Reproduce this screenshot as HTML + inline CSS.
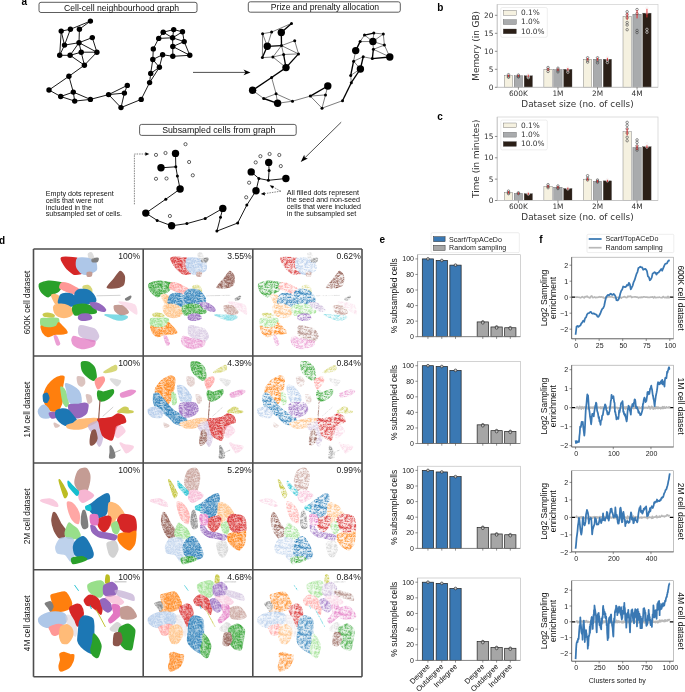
<!DOCTYPE html>
<html><head><meta charset="utf-8"><title>Figure</title><style>
html,body{margin:0;padding:0;background:#fff;}
body{width:685px;height:692px;overflow:hidden;}
svg{display:block;}
text{font-family:"Liberation Sans",Arial,sans-serif;fill:#111;}
.lab{font-weight:bold;font-size:10px;fill:#000;}
.box{fill:#fff;stroke:#333;stroke-width:0.8;}
.bt{font-size:8.65px;fill:#111;}
.st{font-size:7.15px;fill:#111;}
.e1{stroke:#000;stroke-width:0.9;}
.e2{stroke:#111;stroke-width:0.55;}
.e3{stroke:#000;stroke-width:1.35;}
.e4{stroke:#000;stroke-width:0.9;}
.emp{fill:#fff;stroke:#000;stroke-width:0.6;}
.ar{stroke:#222;stroke-width:0.8;}
.da{stroke:#333;stroke-width:0.6;stroke-dasharray:1.5 1;fill:none;}
.dt{font-family:"DejaVu Sans",sans-serif;font-size:7.4px;fill:#333;}
.dl{font-family:"DejaVu Sans",sans-serif;font-size:8.9px;fill:#333;}
.et{font-size:7px;fill:#222;}
.et2{font-size:7.5px;fill:#111;}
.el{font-size:8.5px;fill:#111;}
.lg{font-size:7.1px;fill:#222;}
.gr{stroke:#4d4d4d;stroke-width:1.6;}
.pc{font-size:8.6px;fill:#222;}
.rl{font-size:8.3px;fill:#111;}
</style></head>
<body><svg width="685" height="692" viewBox="0 0 685 692">

<defs>
<filter id="soft" x="-5%" y="-5%" width="110%" height="110%"><feGaussianBlur stdDeviation="0.45"/></filter>
<pattern id="pd1" width="20" height="20" patternUnits="userSpaceOnUse"><path d="M9.9 18.5h0.65v0.65h-0.65zM18.4 1.6h0.65v0.65h-0.65zM2.8 6.1h0.65v0.65h-0.65zM18.4 13.9h0.65v0.65h-0.65zM6.0 0.7h0.65v0.65h-0.65zM8.2 0.7h0.65v0.65h-0.65zM16.0 0.9h0.65v0.65h-0.65zM7.9 16.8h0.65v0.65h-0.65zM10.6 6.5h0.65v0.65h-0.65zM0.5 6.2h0.65v0.65h-0.65zM14.6 15.4h0.65v0.65h-0.65zM10.4 6.2h0.65v0.65h-0.65zM6.4 14.3h0.65v0.65h-0.65zM15.3 7.1h0.65v0.65h-0.65zM5.9 5.8h0.65v0.65h-0.65zM8.8 7.5h0.65v0.65h-0.65zM2.6 3.3h0.65v0.65h-0.65zM7.8 1.5h0.65v0.65h-0.65zM3.9 16.9h0.65v0.65h-0.65zM5.1 16.8h0.65v0.65h-0.65zM14.5 8.9h0.65v0.65h-0.65zM5.4 13.3h0.65v0.65h-0.65zM9.4 16.7h0.65v0.65h-0.65zM19.0 7.6h0.65v0.65h-0.65zM18.6 13.8h0.65v0.65h-0.65zM14.0 14.6h0.65v0.65h-0.65zM10.5 1.5h0.65v0.65h-0.65zM5.4 2.7h0.65v0.65h-0.65zM3.1 14.5h0.65v0.65h-0.65zM18.8 13.7h0.65v0.65h-0.65zM10.0 3.6h0.65v0.65h-0.65zM2.2 16.0h0.65v0.65h-0.65zM12.1 15.5h0.65v0.65h-0.65zM15.0 6.4h0.65v0.65h-0.65zM11.9 6.6h0.65v0.65h-0.65zM17.7 2.1h0.65v0.65h-0.65zM0.8 8.6h0.65v0.65h-0.65zM10.2 2.1h0.65v0.65h-0.65zM8.9 10.5h0.65v0.65h-0.65zM1.2 12.1h0.65v0.65h-0.65zM12.4 11.3h0.65v0.65h-0.65zM16.5 1.4h0.65v0.65h-0.65zM11.5 12.0h0.65v0.65h-0.65zM5.0 14.6h0.65v0.65h-0.65zM16.3 2.7h0.65v0.65h-0.65zM9.9 11.5h0.65v0.65h-0.65zM9.9 15.8h0.65v0.65h-0.65zM14.6 3.7h0.65v0.65h-0.65zM2.9 17.7h0.65v0.65h-0.65zM15.9 18.8h0.65v0.65h-0.65zM13.2 13.8h0.65v0.65h-0.65zM15.2 16.9h0.65v0.65h-0.65zM3.7 5.3h0.65v0.65h-0.65zM15.5 12.9h0.65v0.65h-0.65zM3.7 17.9h0.65v0.65h-0.65zM1.6 0.9h0.65v0.65h-0.65zM16.5 15.9h0.65v0.65h-0.65zM16.7 4.6h0.65v0.65h-0.65zM17.0 15.5h0.65v0.65h-0.65zM9.1 12.4h0.65v0.65h-0.65zM5.3 15.5h0.65v0.65h-0.65zM0.1 7.8h0.65v0.65h-0.65zM12.5 8.7h0.65v0.65h-0.65zM13.9 17.9h0.65v0.65h-0.65zM16.2 1.4h0.65v0.65h-0.65zM5.5 3.0h0.65v0.65h-0.65zM4.2 18.8h0.65v0.65h-0.65zM12.4 17.7h0.65v0.65h-0.65zM15.6 2.8h0.65v0.65h-0.65zM18.6 18.8h0.65v0.65h-0.65zM2.9 5.1h0.65v0.65h-0.65zM9.3 17.3h0.65v0.65h-0.65zM17.3 17.5h0.65v0.65h-0.65zM8.2 0.5h0.65v0.65h-0.65zM11.4 0.2h0.65v0.65h-0.65zM0.5 6.3h0.65v0.65h-0.65zM13.0 18.0h0.65v0.65h-0.65zM17.8 15.3h0.65v0.65h-0.65zM16.0 7.5h0.65v0.65h-0.65zM17.1 16.6h0.65v0.65h-0.65zM12.8 6.0h0.65v0.65h-0.65zM4.8 6.7h0.65v0.65h-0.65zM14.9 3.7h0.65v0.65h-0.65zM4.1 18.6h0.65v0.65h-0.65zM16.1 15.6h0.65v0.65h-0.65zM1.2 8.9h0.65v0.65h-0.65zM16.0 5.1h0.65v0.65h-0.65zM3.2 18.7h0.65v0.65h-0.65zM7.3 7.7h0.65v0.65h-0.65zM6.1 4.1h0.65v0.65h-0.65zM13.4 8.2h0.65v0.65h-0.65zM3.5 13.9h0.65v0.65h-0.65zM7.7 14.9h0.65v0.65h-0.65zM0.1 2.1h0.65v0.65h-0.65zM5.1 18.3h0.65v0.65h-0.65zM8.2 13.1h0.65v0.65h-0.65zM2.0 1.2h0.65v0.65h-0.65zM12.3 16.2h0.65v0.65h-0.65zM7.4 18.8h0.65v0.65h-0.65zM14.0 16.2h0.65v0.65h-0.65zM12.7 0.2h0.65v0.65h-0.65zM8.3 9.2h0.65v0.65h-0.65zM16.8 11.4h0.65v0.65h-0.65zM12.2 17.2h0.65v0.65h-0.65zM15.7 9.7h0.65v0.65h-0.65zM6.6 1.5h0.65v0.65h-0.65zM10.5 18.1h0.65v0.65h-0.65zM3.8 18.4h0.65v0.65h-0.65zM19.3 9.4h0.65v0.65h-0.65zM4.7 1.0h0.65v0.65h-0.65zM5.0 16.2h0.65v0.65h-0.65zM1.4 14.4h0.65v0.65h-0.65zM5.0 18.8h0.65v0.65h-0.65zM14.8 0.1h0.65v0.65h-0.65zM13.5 8.4h0.65v0.65h-0.65zM2.5 5.5h0.65v0.65h-0.65zM7.3 2.1h0.65v0.65h-0.65zM8.1 14.2h0.65v0.65h-0.65zM12.9 6.6h0.65v0.65h-0.65zM8.8 0.8h0.65v0.65h-0.65zM11.3 2.6h0.65v0.65h-0.65zM16.2 15.6h0.65v0.65h-0.65zM14.1 11.7h0.65v0.65h-0.65zM7.1 4.2h0.65v0.65h-0.65zM8.7 13.5h0.65v0.65h-0.65zM7.1 2.5h0.65v0.65h-0.65zM2.1 13.0h0.65v0.65h-0.65zM3.9 12.7h0.65v0.65h-0.65zM5.5 0.1h0.65v0.65h-0.65zM6.1 9.9h0.65v0.65h-0.65zM6.1 14.1h0.65v0.65h-0.65zM11.2 14.7h0.65v0.65h-0.65zM18.8 13.7h0.65v0.65h-0.65zM15.0 17.1h0.65v0.65h-0.65zM15.3 14.6h0.65v0.65h-0.65zM14.7 17.8h0.65v0.65h-0.65zM11.6 8.0h0.65v0.65h-0.65zM17.8 0.7h0.65v0.65h-0.65zM13.3 3.5h0.65v0.65h-0.65zM9.7 5.6h0.65v0.65h-0.65zM1.5 0.8h0.65v0.65h-0.65zM9.5 2.1h0.65v0.65h-0.65zM4.1 10.0h0.65v0.65h-0.65zM2.6 4.9h0.65v0.65h-0.65zM9.8 5.5h0.65v0.65h-0.65zM15.2 14.3h0.65v0.65h-0.65zM5.7 16.5h0.65v0.65h-0.65zM14.9 16.7h0.65v0.65h-0.65zM10.2 7.2h0.65v0.65h-0.65zM2.9 13.7h0.65v0.65h-0.65zM18.7 16.5h0.65v0.65h-0.65zM7.8 2.9h0.65v0.65h-0.65zM5.7 3.9h0.65v0.65h-0.65zM16.4 12.5h0.65v0.65h-0.65zM2.4 5.1h0.65v0.65h-0.65zM14.2 3.7h0.65v0.65h-0.65zM3.6 7.1h0.65v0.65h-0.65zM7.6 0.3h0.65v0.65h-0.65zM4.5 8.5h0.65v0.65h-0.65zM16.3 0.9h0.65v0.65h-0.65zM7.5 4.7h0.65v0.65h-0.65zM18.9 4.2h0.65v0.65h-0.65zM12.1 6.4h0.65v0.65h-0.65zM13.4 2.4h0.65v0.65h-0.65zM10.1 9.1h0.65v0.65h-0.65zM6.0 13.3h0.65v0.65h-0.65zM7.7 6.6h0.65v0.65h-0.65zM18.2 17.9h0.65v0.65h-0.65zM3.9 16.6h0.65v0.65h-0.65zM19.1 5.9h0.65v0.65h-0.65zM14.7 0.8h0.65v0.65h-0.65zM7.0 14.9h0.65v0.65h-0.65zM12.4 4.6h0.65v0.65h-0.65zM7.4 6.4h0.65v0.65h-0.65zM7.4 11.2h0.65v0.65h-0.65zM9.7 19.3h0.65v0.65h-0.65zM0.3 5.8h0.65v0.65h-0.65zM9.6 9.1h0.65v0.65h-0.65zM18.8 12.1h0.65v0.65h-0.65zM5.5 13.2h0.65v0.65h-0.65zM14.5 4.1h0.65v0.65h-0.65zM8.6 11.5h0.65v0.65h-0.65zM4.0 10.5h0.65v0.65h-0.65zM17.5 12.7h0.65v0.65h-0.65zM0.3 2.2h0.65v0.65h-0.65zM5.9 2.4h0.65v0.65h-0.65zM19.3 18.9h0.65v0.65h-0.65zM5.1 15.9h0.65v0.65h-0.65zM16.4 16.0h0.65v0.65h-0.65zM11.7 18.1h0.65v0.65h-0.65zM15.6 18.6h0.65v0.65h-0.65zM12.2 7.6h0.65v0.65h-0.65zM7.0 14.6h0.65v0.65h-0.65zM14.7 12.4h0.65v0.65h-0.65zM0.5 10.8h0.65v0.65h-0.65zM8.6 13.1h0.65v0.65h-0.65zM7.2 6.2h0.65v0.65h-0.65zM9.2 16.7h0.65v0.65h-0.65zM2.5 7.9h0.65v0.65h-0.65zM4.3 2.9h0.65v0.65h-0.65zM10.9 0.2h0.65v0.65h-0.65zM7.5 12.4h0.65v0.65h-0.65zM15.3 4.5h0.65v0.65h-0.65zM11.7 18.5h0.65v0.65h-0.65zM16.7 3.8h0.65v0.65h-0.65zM14.2 6.1h0.65v0.65h-0.65zM11.6 19.0h0.65v0.65h-0.65zM5.6 10.1h0.65v0.65h-0.65zM15.1 17.8h0.65v0.65h-0.65zM4.9 15.1h0.65v0.65h-0.65zM1.5 2.3h0.65v0.65h-0.65zM18.6 4.2h0.65v0.65h-0.65zM10.4 7.5h0.65v0.65h-0.65zM15.0 17.0h0.65v0.65h-0.65zM10.2 6.5h0.65v0.65h-0.65zM11.8 9.0h0.65v0.65h-0.65zM0.7 9.3h0.65v0.65h-0.65zM3.6 6.3h0.65v0.65h-0.65zM13.1 15.2h0.65v0.65h-0.65zM11.0 1.1h0.65v0.65h-0.65zM3.1 4.4h0.65v0.65h-0.65zM18.4 16.0h0.65v0.65h-0.65zM3.0 11.9h0.65v0.65h-0.65zM9.9 9.9h0.65v0.65h-0.65zM2.8 7.1h0.65v0.65h-0.65zM13.9 2.5h0.65v0.65h-0.65zM5.3 8.8h0.65v0.65h-0.65zM2.6 19.1h0.65v0.65h-0.65zM0.9 11.5h0.65v0.65h-0.65zM3.4 11.2h0.65v0.65h-0.65zM3.7 19.2h0.65v0.65h-0.65zM10.4 17.1h0.65v0.65h-0.65zM8.7 19.3h0.65v0.65h-0.65zM18.5 18.5h0.65v0.65h-0.65zM18.5 12.9h0.65v0.65h-0.65zM15.4 5.9h0.65v0.65h-0.65zM13.0 12.2h0.65v0.65h-0.65zM16.4 6.7h0.65v0.65h-0.65zM18.2 15.7h0.65v0.65h-0.65zM0.4 2.7h0.65v0.65h-0.65zM2.3 9.0h0.65v0.65h-0.65zM7.0 16.3h0.65v0.65h-0.65zM1.8 8.8h0.65v0.65h-0.65zM11.6 11.6h0.65v0.65h-0.65zM5.0 1.9h0.65v0.65h-0.65zM5.1 5.5h0.65v0.65h-0.65zM5.6 18.5h0.65v0.65h-0.65zM1.9 12.7h0.65v0.65h-0.65zM14.3 7.1h0.65v0.65h-0.65zM12.6 10.0h0.65v0.65h-0.65zM11.7 15.0h0.65v0.65h-0.65zM0.7 15.2h0.65v0.65h-0.65zM8.3 16.0h0.65v0.65h-0.65zM13.3 5.6h0.65v0.65h-0.65zM3.0 4.6h0.65v0.65h-0.65zM7.5 12.4h0.65v0.65h-0.65zM0.4 10.2h0.65v0.65h-0.65zM1.6 10.9h0.65v0.65h-0.65zM4.2 4.2h0.65v0.65h-0.65zM8.0 6.2h0.65v0.65h-0.65zM9.0 14.6h0.65v0.65h-0.65zM17.1 6.9h0.65v0.65h-0.65zM6.1 14.7h0.65v0.65h-0.65zM0.4 0.9h0.65v0.65h-0.65zM16.0 18.4h0.65v0.65h-0.65zM1.2 4.0h0.65v0.65h-0.65zM1.8 9.3h0.65v0.65h-0.65zM18.6 17.8h0.65v0.65h-0.65zM14.6 4.9h0.65v0.65h-0.65zM6.5 4.4h0.65v0.65h-0.65zM2.6 19.1h0.65v0.65h-0.65zM7.5 17.5h0.65v0.65h-0.65zM6.6 10.3h0.65v0.65h-0.65zM16.9 1.2h0.65v0.65h-0.65zM8.1 11.7h0.65v0.65h-0.65zM1.6 4.9h0.65v0.65h-0.65zM17.9 4.1h0.65v0.65h-0.65zM12.0 18.0h0.65v0.65h-0.65zM2.3 12.0h0.65v0.65h-0.65zM2.2 8.6h0.65v0.65h-0.65zM9.0 1.2h0.65v0.65h-0.65zM1.8 7.2h0.65v0.65h-0.65zM12.2 16.7h0.65v0.65h-0.65zM11.9 5.9h0.65v0.65h-0.65zM0.6 6.2h0.65v0.65h-0.65zM15.6 11.7h0.65v0.65h-0.65zM15.2 4.9h0.65v0.65h-0.65zM17.7 10.8h0.65v0.65h-0.65zM13.0 14.9h0.65v0.65h-0.65zM13.4 5.5h0.65v0.65h-0.65zM3.2 9.1h0.65v0.65h-0.65zM0.5 11.2h0.65v0.65h-0.65zM1.3 7.0h0.65v0.65h-0.65zM18.7 4.3h0.65v0.65h-0.65zM12.5 2.2h0.65v0.65h-0.65zM18.3 10.9h0.65v0.65h-0.65zM6.8 18.1h0.65v0.65h-0.65zM14.6 0.4h0.65v0.65h-0.65zM1.3 16.8h0.65v0.65h-0.65zM3.2 18.6h0.65v0.65h-0.65zM5.4 10.5h0.65v0.65h-0.65zM10.6 18.7h0.65v0.65h-0.65zM10.8 13.6h0.65v0.65h-0.65zM9.7 10.6h0.65v0.65h-0.65zM8.2 9.0h0.65v0.65h-0.65zM11.1 9.0h0.65v0.65h-0.65zM18.7 13.2h0.65v0.65h-0.65zM8.9 4.5h0.65v0.65h-0.65zM16.2 13.8h0.65v0.65h-0.65zM1.1 9.5h0.65v0.65h-0.65zM7.5 13.1h0.65v0.65h-0.65zM10.8 18.2h0.65v0.65h-0.65zM12.0 4.5h0.65v0.65h-0.65zM4.8 7.8h0.65v0.65h-0.65zM7.7 5.3h0.65v0.65h-0.65zM18.3 1.0h0.65v0.65h-0.65zM12.6 12.0h0.65v0.65h-0.65zM11.3 12.2h0.65v0.65h-0.65zM1.3 19.3h0.65v0.65h-0.65zM1.0 11.6h0.65v0.65h-0.65zM4.1 7.7h0.65v0.65h-0.65zM2.7 17.4h0.65v0.65h-0.65zM19.0 0.3h0.65v0.65h-0.65zM0.1 5.9h0.65v0.65h-0.65zM7.1 14.5h0.65v0.65h-0.65zM1.1 3.1h0.65v0.65h-0.65zM12.4 7.0h0.65v0.65h-0.65zM0.9 16.4h0.65v0.65h-0.65zM1.3 6.7h0.65v0.65h-0.65zM1.5 4.7h0.65v0.65h-0.65zM5.3 17.2h0.65v0.65h-0.65zM11.2 1.5h0.65v0.65h-0.65zM15.6 16.6h0.65v0.65h-0.65zM5.2 6.1h0.65v0.65h-0.65zM5.5 4.0h0.65v0.65h-0.65zM16.0 9.4h0.65v0.65h-0.65zM14.4 9.4h0.65v0.65h-0.65zM2.5 18.7h0.65v0.65h-0.65zM15.6 14.6h0.65v0.65h-0.65zM16.1 8.9h0.65v0.65h-0.65zM3.4 10.8h0.65v0.65h-0.65zM12.1 6.2h0.65v0.65h-0.65zM3.8 19.0h0.65v0.65h-0.65zM4.7 7.5h0.65v0.65h-0.65zM9.6 17.1h0.65v0.65h-0.65zM10.1 12.7h0.65v0.65h-0.65zM9.3 17.7h0.65v0.65h-0.65zM10.5 6.9h0.65v0.65h-0.65zM4.1 8.1h0.65v0.65h-0.65zM15.1 7.1h0.65v0.65h-0.65zM5.4 16.0h0.65v0.65h-0.65zM17.7 18.4h0.65v0.65h-0.65zM10.0 16.0h0.65v0.65h-0.65zM5.9 8.7h0.65v0.65h-0.65zM3.4 16.0h0.65v0.65h-0.65zM9.4 14.1h0.65v0.65h-0.65zM7.3 10.0h0.65v0.65h-0.65zM12.1 3.6h0.65v0.65h-0.65zM9.6 4.6h0.65v0.65h-0.65zM0.7 13.6h0.65v0.65h-0.65zM16.1 3.8h0.65v0.65h-0.65zM1.0 10.8h0.65v0.65h-0.65zM16.0 15.6h0.65v0.65h-0.65zM15.7 12.7h0.65v0.65h-0.65zM17.9 11.8h0.65v0.65h-0.65zM12.9 5.0h0.65v0.65h-0.65zM3.1 2.3h0.65v0.65h-0.65zM8.6 0.7h0.65v0.65h-0.65zM8.5 0.9h0.65v0.65h-0.65zM12.2 4.5h0.65v0.65h-0.65zM7.4 10.8h0.65v0.65h-0.65zM13.1 8.2h0.65v0.65h-0.65zM3.9 3.9h0.65v0.65h-0.65zM6.8 5.9h0.65v0.65h-0.65zM10.5 8.9h0.65v0.65h-0.65zM8.3 15.5h0.65v0.65h-0.65zM2.4 12.7h0.65v0.65h-0.65zM18.7 0.8h0.65v0.65h-0.65zM13.4 9.3h0.65v0.65h-0.65zM16.1 3.6h0.65v0.65h-0.65zM6.9 16.5h0.65v0.65h-0.65zM18.3 17.1h0.65v0.65h-0.65zM15.7 10.7h0.65v0.65h-0.65zM19.0 14.2h0.65v0.65h-0.65zM3.8 13.3h0.65v0.65h-0.65zM9.2 15.8h0.65v0.65h-0.65zM7.5 5.4h0.65v0.65h-0.65zM11.9 4.4h0.65v0.65h-0.65zM4.8 14.4h0.65v0.65h-0.65zM1.9 18.6h0.65v0.65h-0.65zM9.2 4.4h0.65v0.65h-0.65zM12.4 11.0h0.65v0.65h-0.65zM7.4 10.5h0.65v0.65h-0.65zM19.1 7.2h0.65v0.65h-0.65zM7.9 14.5h0.65v0.65h-0.65zM5.8 2.5h0.65v0.65h-0.65zM15.7 7.2h0.65v0.65h-0.65zM9.0 8.3h0.65v0.65h-0.65zM5.3 18.4h0.65v0.65h-0.65zM5.5 13.2h0.65v0.65h-0.65zM18.3 13.8h0.65v0.65h-0.65zM18.6 19.3h0.65v0.65h-0.65zM12.5 4.4h0.65v0.65h-0.65zM5.4 11.7h0.65v0.65h-0.65zM13.8 2.1h0.65v0.65h-0.65zM4.2 3.1h0.65v0.65h-0.65zM6.2 13.5h0.65v0.65h-0.65zM10.5 16.0h0.65v0.65h-0.65zM7.8 12.3h0.65v0.65h-0.65zM6.8 11.2h0.65v0.65h-0.65zM18.8 15.3h0.65v0.65h-0.65zM3.3 18.5h0.65v0.65h-0.65zM11.9 17.9h0.65v0.65h-0.65zM0.7 15.6h0.65v0.65h-0.65zM1.8 8.4h0.65v0.65h-0.65zM4.1 14.8h0.65v0.65h-0.65zM19.2 4.5h0.65v0.65h-0.65zM14.1 17.5h0.65v0.65h-0.65zM16.8 5.4h0.65v0.65h-0.65zM1.0 19.0h0.65v0.65h-0.65zM13.2 5.8h0.65v0.65h-0.65zM8.5 5.1h0.65v0.65h-0.65zM8.1 6.5h0.65v0.65h-0.65zM13.7 9.4h0.65v0.65h-0.65zM6.0 3.9h0.65v0.65h-0.65zM9.9 5.1h0.65v0.65h-0.65zM5.0 17.1h0.65v0.65h-0.65zM7.6 18.0h0.65v0.65h-0.65zM10.3 3.0h0.65v0.65h-0.65zM3.1 8.5h0.65v0.65h-0.65zM5.3 8.1h0.65v0.65h-0.65zM8.1 16.0h0.65v0.65h-0.65zM9.1 12.8h0.65v0.65h-0.65zM15.5 7.9h0.65v0.65h-0.65zM12.4 15.3h0.65v0.65h-0.65zM10.9 11.7h0.65v0.65h-0.65zM16.8 4.1h0.65v0.65h-0.65zM3.8 15.3h0.65v0.65h-0.65zM2.0 9.0h0.65v0.65h-0.65zM7.6 17.2h0.65v0.65h-0.65zM2.7 12.9h0.65v0.65h-0.65zM10.8 2.9h0.65v0.65h-0.65zM11.1 14.6h0.65v0.65h-0.65zM2.5 11.2h0.65v0.65h-0.65zM13.9 10.5h0.65v0.65h-0.65zM10.8 8.1h0.65v0.65h-0.65zM8.2 12.8h0.65v0.65h-0.65zM17.8 1.2h0.65v0.65h-0.65zM16.6 9.7h0.65v0.65h-0.65zM4.3 18.1h0.65v0.65h-0.65zM3.2 4.0h0.65v0.65h-0.65zM17.7 2.7h0.65v0.65h-0.65zM3.0 7.9h0.65v0.65h-0.65zM14.7 10.1h0.65v0.65h-0.65zM6.0 7.3h0.65v0.65h-0.65zM7.0 9.4h0.65v0.65h-0.65zM10.7 13.1h0.65v0.65h-0.65zM17.9 15.3h0.65v0.65h-0.65zM0.0 1.0h0.65v0.65h-0.65zM3.1 7.4h0.65v0.65h-0.65zM13.9 12.0h0.65v0.65h-0.65zM7.6 0.4h0.65v0.65h-0.65zM5.6 18.4h0.65v0.65h-0.65zM18.6 12.4h0.65v0.65h-0.65zM5.1 9.4h0.65v0.65h-0.65zM13.8 8.7h0.65v0.65h-0.65zM18.7 2.8h0.65v0.65h-0.65zM14.8 1.3h0.65v0.65h-0.65zM13.7 13.2h0.65v0.65h-0.65zM14.0 17.9h0.65v0.65h-0.65zM15.6 15.3h0.65v0.65h-0.65zM5.2 0.4h0.65v0.65h-0.65zM12.1 0.8h0.65v0.65h-0.65zM15.5 9.9h0.65v0.65h-0.65zM17.2 11.1h0.65v0.65h-0.65zM17.5 11.7h0.65v0.65h-0.65zM17.5 17.0h0.65v0.65h-0.65zM1.9 17.4h0.65v0.65h-0.65zM7.3 19.1h0.65v0.65h-0.65zM8.8 6.5h0.65v0.65h-0.65zM17.3 9.1h0.65v0.65h-0.65zM8.1 19.2h0.65v0.65h-0.65zM5.1 13.6h0.65v0.65h-0.65zM0.4 1.1h0.65v0.65h-0.65zM5.6 17.6h0.65v0.65h-0.65zM15.1 11.9h0.65v0.65h-0.65zM0.4 3.7h0.65v0.65h-0.65zM3.2 6.7h0.65v0.65h-0.65zM6.0 11.2h0.65v0.65h-0.65zM10.3 12.6h0.65v0.65h-0.65zM7.0 7.9h0.65v0.65h-0.65zM17.1 14.4h0.65v0.65h-0.65zM4.0 10.3h0.65v0.65h-0.65zM10.9 18.9h0.65v0.65h-0.65zM15.1 16.5h0.65v0.65h-0.65zM18.0 2.9h0.65v0.65h-0.65zM16.9 2.0h0.65v0.65h-0.65zM2.6 16.5h0.65v0.65h-0.65zM15.3 11.8h0.65v0.65h-0.65zM13.1 18.9h0.65v0.65h-0.65zM8.2 8.4h0.65v0.65h-0.65zM0.5 3.5h0.65v0.65h-0.65zM3.3 0.7h0.65v0.65h-0.65zM14.5 14.9h0.65v0.65h-0.65zM1.6 1.6h0.65v0.65h-0.65zM6.0 12.5h0.65v0.65h-0.65zM4.9 10.9h0.65v0.65h-0.65zM14.4 14.3h0.65v0.65h-0.65zM6.9 18.3h0.65v0.65h-0.65zM1.7 4.6h0.65v0.65h-0.65zM7.2 9.3h0.65v0.65h-0.65zM6.3 14.5h0.65v0.65h-0.65zM13.9 3.9h0.65v0.65h-0.65zM6.2 1.8h0.65v0.65h-0.65zM13.4 2.7h0.65v0.65h-0.65zM10.4 18.0h0.65v0.65h-0.65zM17.2 15.3h0.65v0.65h-0.65zM14.2 3.9h0.65v0.65h-0.65zM7.9 0.3h0.65v0.65h-0.65zM9.4 12.3h0.65v0.65h-0.65zM9.1 6.2h0.65v0.65h-0.65zM16.9 4.4h0.65v0.65h-0.65zM2.7 3.9h0.65v0.65h-0.65zM8.2 9.1h0.65v0.65h-0.65zM10.4 6.6h0.65v0.65h-0.65zM8.4 18.2h0.65v0.65h-0.65zM11.6 10.9h0.65v0.65h-0.65zM9.7 17.4h0.65v0.65h-0.65zM8.0 17.9h0.65v0.65h-0.65zM13.3 17.4h0.65v0.65h-0.65zM6.4 9.6h0.65v0.65h-0.65zM11.7 11.3h0.65v0.65h-0.65zM14.1 10.3h0.65v0.65h-0.65zM2.5 0.4h0.65v0.65h-0.65zM6.3 18.3h0.65v0.65h-0.65zM18.3 2.9h0.65v0.65h-0.65zM18.7 10.7h0.65v0.65h-0.65zM19.2 13.2h0.65v0.65h-0.65zM0.8 15.2h0.65v0.65h-0.65zM16.0 10.5h0.65v0.65h-0.65zM18.1 12.4h0.65v0.65h-0.65zM17.5 16.0h0.65v0.65h-0.65zM13.8 12.5h0.65v0.65h-0.65zM13.1 12.9h0.65v0.65h-0.65zM13.9 16.5h0.65v0.65h-0.65zM11.1 1.4h0.65v0.65h-0.65zM15.3 10.0h0.65v0.65h-0.65zM9.7 0.5h0.65v0.65h-0.65zM4.4 2.9h0.65v0.65h-0.65zM1.8 0.6h0.65v0.65h-0.65zM17.6 16.8h0.65v0.65h-0.65zM14.6 6.4h0.65v0.65h-0.65zM3.4 10.1h0.65v0.65h-0.65zM15.9 15.2h0.65v0.65h-0.65zM5.8 13.3h0.65v0.65h-0.65zM12.3 17.9h0.65v0.65h-0.65zM6.9 9.5h0.65v0.65h-0.65zM4.1 13.6h0.65v0.65h-0.65zM3.4 16.8h0.65v0.65h-0.65zM1.4 2.1h0.65v0.65h-0.65zM1.4 9.1h0.65v0.65h-0.65zM1.3 1.7h0.65v0.65h-0.65zM1.7 10.8h0.65v0.65h-0.65zM16.1 6.1h0.65v0.65h-0.65zM10.0 16.3h0.65v0.65h-0.65zM2.5 9.1h0.65v0.65h-0.65zM10.2 3.2h0.65v0.65h-0.65zM10.5 16.9h0.65v0.65h-0.65zM9.6 8.2h0.65v0.65h-0.65zM4.0 0.4h0.65v0.65h-0.65zM8.4 5.2h0.65v0.65h-0.65zM16.9 7.4h0.65v0.65h-0.65zM7.4 0.5h0.65v0.65h-0.65zM9.8 2.7h0.65v0.65h-0.65zM18.0 5.7h0.65v0.65h-0.65zM4.5 6.5h0.65v0.65h-0.65zM14.0 8.5h0.65v0.65h-0.65zM9.4 5.8h0.65v0.65h-0.65zM15.2 6.2h0.65v0.65h-0.65zM7.0 8.9h0.65v0.65h-0.65zM10.5 6.8h0.65v0.65h-0.65zM7.1 14.5h0.65v0.65h-0.65zM16.8 15.1h0.65v0.65h-0.65zM17.7 0.3h0.65v0.65h-0.65zM12.2 3.1h0.65v0.65h-0.65zM19.0 2.0h0.65v0.65h-0.65zM14.2 6.8h0.65v0.65h-0.65zM16.1 6.9h0.65v0.65h-0.65zM17.3 14.5h0.65v0.65h-0.65zM5.3 14.1h0.65v0.65h-0.65zM19.1 17.1h0.65v0.65h-0.65zM7.6 13.2h0.65v0.65h-0.65zM9.6 11.5h0.65v0.65h-0.65zM3.5 19.2h0.65v0.65h-0.65zM15.9 12.4h0.65v0.65h-0.65zM6.5 7.5h0.65v0.65h-0.65zM13.3 5.9h0.65v0.65h-0.65zM4.2 0.7h0.65v0.65h-0.65zM6.8 18.3h0.65v0.65h-0.65zM7.4 14.6h0.65v0.65h-0.65zM4.6 7.3h0.65v0.65h-0.65zM0.7 16.9h0.65v0.65h-0.65zM14.9 14.8h0.65v0.65h-0.65zM18.4 9.0h0.65v0.65h-0.65zM4.4 18.5h0.65v0.65h-0.65zM3.1 17.3h0.65v0.65h-0.65zM6.7 8.6h0.65v0.65h-0.65zM1.6 8.3h0.65v0.65h-0.65zM12.6 2.9h0.65v0.65h-0.65zM7.1 2.0h0.65v0.65h-0.65zM10.9 6.9h0.65v0.65h-0.65zM17.5 4.2h0.65v0.65h-0.65zM16.7 1.3h0.65v0.65h-0.65zM17.8 14.2h0.65v0.65h-0.65zM18.1 18.6h0.65v0.65h-0.65zM11.4 13.3h0.65v0.65h-0.65zM9.7 17.6h0.65v0.65h-0.65zM0.7 16.8h0.65v0.65h-0.65zM2.0 12.5h0.65v0.65h-0.65zM10.1 10.1h0.65v0.65h-0.65zM16.6 6.9h0.65v0.65h-0.65zM8.4 9.6h0.65v0.65h-0.65zM0.1 6.2h0.65v0.65h-0.65zM4.1 3.3h0.65v0.65h-0.65zM14.7 9.6h0.65v0.65h-0.65zM3.1 12.8h0.65v0.65h-0.65zM3.9 11.3h0.65v0.65h-0.65zM5.5 14.3h0.65v0.65h-0.65zM11.8 6.5h0.65v0.65h-0.65zM16.2 0.0h0.65v0.65h-0.65zM4.2 4.1h0.65v0.65h-0.65zM11.6 5.6h0.65v0.65h-0.65zM10.3 10.7h0.65v0.65h-0.65zM8.6 7.5h0.65v0.65h-0.65zM11.2 12.7h0.65v0.65h-0.65zM15.8 4.3h0.65v0.65h-0.65zM4.2 9.1h0.65v0.65h-0.65zM9.6 0.0h0.65v0.65h-0.65zM1.9 13.3h0.65v0.65h-0.65zM9.9 16.7h0.65v0.65h-0.65zM15.3 16.6h0.65v0.65h-0.65zM19.3 16.9h0.65v0.65h-0.65zM9.2 3.8h0.65v0.65h-0.65zM5.7 19.0h0.65v0.65h-0.65zM11.2 10.7h0.65v0.65h-0.65zM7.2 3.6h0.65v0.65h-0.65zM2.3 1.8h0.65v0.65h-0.65zM10.1 1.4h0.65v0.65h-0.65zM15.5 12.3h0.65v0.65h-0.65zM17.2 12.2h0.65v0.65h-0.65zM18.9 15.2h0.65v0.65h-0.65zM7.1 12.7h0.65v0.65h-0.65zM4.9 10.1h0.65v0.65h-0.65zM2.1 3.2h0.65v0.65h-0.65zM8.4 14.2h0.65v0.65h-0.65zM15.6 0.1h0.65v0.65h-0.65zM4.5 12.8h0.65v0.65h-0.65zM16.4 3.2h0.65v0.65h-0.65zM13.8 3.1h0.65v0.65h-0.65zM3.9 17.5h0.65v0.65h-0.65zM12.2 17.9h0.65v0.65h-0.65zM15.9 13.9h0.65v0.65h-0.65zM18.1 4.4h0.65v0.65h-0.65zM3.1 9.1h0.65v0.65h-0.65zM15.9 6.7h0.65v0.65h-0.65zM15.0 2.3h0.65v0.65h-0.65zM4.7 4.6h0.65v0.65h-0.65zM5.7 1.1h0.65v0.65h-0.65zM18.5 18.8h0.65v0.65h-0.65zM7.0 4.6h0.65v0.65h-0.65zM5.6 7.5h0.65v0.65h-0.65zM13.9 4.8h0.65v0.65h-0.65zM2.6 12.6h0.65v0.65h-0.65zM9.3 10.9h0.65v0.65h-0.65zM6.9 14.8h0.65v0.65h-0.65zM10.5 0.2h0.65v0.65h-0.65zM11.7 4.0h0.65v0.65h-0.65zM12.4 11.6h0.65v0.65h-0.65zM8.4 11.2h0.65v0.65h-0.65zM17.2 16.0h0.65v0.65h-0.65zM16.2 1.6h0.65v0.65h-0.65zM18.1 7.2h0.65v0.65h-0.65zM8.6 7.8h0.65v0.65h-0.65zM14.1 9.9h0.65v0.65h-0.65zM8.3 6.8h0.65v0.65h-0.65zM5.4 14.2h0.65v0.65h-0.65zM12.6 2.0h0.65v0.65h-0.65zM18.3 1.2h0.65v0.65h-0.65zM15.6 6.1h0.65v0.65h-0.65zM5.5 1.7h0.65v0.65h-0.65zM4.4 7.6h0.65v0.65h-0.65zM14.9 11.2h0.65v0.65h-0.65zM13.6 1.6h0.65v0.65h-0.65zM16.7 8.9h0.65v0.65h-0.65zM2.8 10.7h0.65v0.65h-0.65zM16.7 10.9h0.65v0.65h-0.65zM8.4 0.6h0.65v0.65h-0.65zM5.3 15.0h0.65v0.65h-0.65zM6.6 14.0h0.65v0.65h-0.65zM19.2 5.7h0.65v0.65h-0.65z" fill="#fff"/></pattern>
<pattern id="pd2" width="20" height="20" patternUnits="userSpaceOnUse"><path d="M5.0 14.2h0.7v0.7h-0.7zM5.8 12.1h0.7v0.7h-0.7zM15.7 0.2h0.7v0.7h-0.7zM1.8 3.8h0.7v0.7h-0.7zM11.6 0.3h0.7v0.7h-0.7zM14.1 17.5h0.7v0.7h-0.7zM3.6 4.6h0.7v0.7h-0.7zM1.1 3.3h0.7v0.7h-0.7zM5.3 11.2h0.7v0.7h-0.7zM12.7 3.9h0.7v0.7h-0.7zM10.9 10.5h0.7v0.7h-0.7zM2.9 18.3h0.7v0.7h-0.7zM8.3 16.7h0.7v0.7h-0.7zM12.9 4.7h0.7v0.7h-0.7zM8.2 17.7h0.7v0.7h-0.7zM12.2 7.7h0.7v0.7h-0.7zM18.7 10.1h0.7v0.7h-0.7zM13.2 6.3h0.7v0.7h-0.7zM7.6 19.3h0.7v0.7h-0.7zM3.6 5.9h0.7v0.7h-0.7zM6.7 14.2h0.7v0.7h-0.7zM9.9 12.0h0.7v0.7h-0.7zM17.2 13.3h0.7v0.7h-0.7zM15.0 2.0h0.7v0.7h-0.7zM6.1 10.4h0.7v0.7h-0.7zM17.8 19.2h0.7v0.7h-0.7zM9.1 10.9h0.7v0.7h-0.7zM13.4 3.8h0.7v0.7h-0.7zM2.1 1.0h0.7v0.7h-0.7zM2.0 6.4h0.7v0.7h-0.7zM3.9 14.4h0.7v0.7h-0.7zM17.1 0.5h0.7v0.7h-0.7zM13.1 0.9h0.7v0.7h-0.7zM16.4 12.7h0.7v0.7h-0.7zM12.4 17.0h0.7v0.7h-0.7zM7.8 8.5h0.7v0.7h-0.7zM10.0 12.0h0.7v0.7h-0.7zM11.5 5.0h0.7v0.7h-0.7zM16.6 5.3h0.7v0.7h-0.7zM8.5 9.2h0.7v0.7h-0.7zM17.2 4.2h0.7v0.7h-0.7zM11.8 8.8h0.7v0.7h-0.7zM16.0 2.9h0.7v0.7h-0.7zM9.6 17.8h0.7v0.7h-0.7zM13.4 12.5h0.7v0.7h-0.7zM6.5 1.8h0.7v0.7h-0.7zM10.1 3.7h0.7v0.7h-0.7zM4.2 16.0h0.7v0.7h-0.7zM1.9 7.2h0.7v0.7h-0.7zM0.7 5.0h0.7v0.7h-0.7zM13.5 0.5h0.7v0.7h-0.7zM8.8 13.0h0.7v0.7h-0.7zM17.3 11.0h0.7v0.7h-0.7zM16.1 16.2h0.7v0.7h-0.7zM7.4 3.3h0.7v0.7h-0.7zM18.8 14.5h0.7v0.7h-0.7zM11.4 16.0h0.7v0.7h-0.7zM14.8 15.9h0.7v0.7h-0.7zM7.9 14.4h0.7v0.7h-0.7zM3.8 8.5h0.7v0.7h-0.7zM3.3 0.9h0.7v0.7h-0.7zM3.5 12.4h0.7v0.7h-0.7zM11.7 0.5h0.7v0.7h-0.7zM2.2 1.7h0.7v0.7h-0.7zM0.4 7.9h0.7v0.7h-0.7zM16.1 2.3h0.7v0.7h-0.7zM1.9 8.7h0.7v0.7h-0.7zM8.7 16.4h0.7v0.7h-0.7zM9.4 3.4h0.7v0.7h-0.7zM12.0 15.4h0.7v0.7h-0.7zM9.7 19.3h0.7v0.7h-0.7zM18.1 0.7h0.7v0.7h-0.7zM14.5 8.2h0.7v0.7h-0.7zM11.1 13.7h0.7v0.7h-0.7zM11.9 14.1h0.7v0.7h-0.7zM9.8 5.4h0.7v0.7h-0.7zM18.6 15.6h0.7v0.7h-0.7zM4.4 7.2h0.7v0.7h-0.7zM13.3 3.9h0.7v0.7h-0.7zM10.7 10.0h0.7v0.7h-0.7zM0.8 11.8h0.7v0.7h-0.7zM5.7 16.2h0.7v0.7h-0.7zM17.9 12.8h0.7v0.7h-0.7zM15.1 1.6h0.7v0.7h-0.7zM0.2 11.1h0.7v0.7h-0.7zM5.7 6.6h0.7v0.7h-0.7zM0.2 13.6h0.7v0.7h-0.7zM16.0 0.9h0.7v0.7h-0.7zM2.1 12.7h0.7v0.7h-0.7zM1.1 15.3h0.7v0.7h-0.7zM19.0 0.8h0.7v0.7h-0.7zM8.6 0.3h0.7v0.7h-0.7zM6.1 17.2h0.7v0.7h-0.7zM0.9 17.3h0.7v0.7h-0.7zM7.5 3.4h0.7v0.7h-0.7zM7.1 17.8h0.7v0.7h-0.7zM10.1 7.8h0.7v0.7h-0.7zM0.1 10.0h0.7v0.7h-0.7zM2.9 9.1h0.7v0.7h-0.7zM4.1 6.5h0.7v0.7h-0.7zM8.5 17.1h0.7v0.7h-0.7zM5.8 11.8h0.7v0.7h-0.7zM11.8 18.0h0.7v0.7h-0.7zM5.5 12.0h0.7v0.7h-0.7zM17.6 17.8h0.7v0.7h-0.7zM18.6 9.9h0.7v0.7h-0.7zM1.1 9.2h0.7v0.7h-0.7zM4.0 11.0h0.7v0.7h-0.7zM10.9 0.1h0.7v0.7h-0.7zM14.9 14.8h0.7v0.7h-0.7zM1.2 2.7h0.7v0.7h-0.7zM3.6 18.2h0.7v0.7h-0.7zM8.8 0.9h0.7v0.7h-0.7zM12.9 13.7h0.7v0.7h-0.7zM17.4 14.8h0.7v0.7h-0.7zM16.7 10.5h0.7v0.7h-0.7zM15.3 1.8h0.7v0.7h-0.7zM1.0 15.7h0.7v0.7h-0.7zM18.8 6.2h0.7v0.7h-0.7zM11.9 5.6h0.7v0.7h-0.7zM1.7 13.4h0.7v0.7h-0.7zM4.9 18.8h0.7v0.7h-0.7zM12.0 1.9h0.7v0.7h-0.7zM7.4 8.4h0.7v0.7h-0.7zM8.6 13.0h0.7v0.7h-0.7zM15.5 5.3h0.7v0.7h-0.7zM15.9 17.9h0.7v0.7h-0.7zM10.6 11.6h0.7v0.7h-0.7zM15.3 1.5h0.7v0.7h-0.7zM7.8 3.0h0.7v0.7h-0.7zM18.8 2.8h0.7v0.7h-0.7zM11.7 8.8h0.7v0.7h-0.7zM18.7 17.6h0.7v0.7h-0.7zM0.8 2.2h0.7v0.7h-0.7zM17.0 2.9h0.7v0.7h-0.7zM10.8 4.1h0.7v0.7h-0.7zM13.8 11.1h0.7v0.7h-0.7zM3.7 8.3h0.7v0.7h-0.7zM10.6 8.1h0.7v0.7h-0.7zM5.6 2.8h0.7v0.7h-0.7zM2.0 15.9h0.7v0.7h-0.7zM0.1 9.3h0.7v0.7h-0.7zM17.5 16.7h0.7v0.7h-0.7zM12.9 0.6h0.7v0.7h-0.7zM4.0 8.8h0.7v0.7h-0.7zM5.0 7.1h0.7v0.7h-0.7zM9.0 16.2h0.7v0.7h-0.7zM15.8 13.4h0.7v0.7h-0.7zM2.3 10.1h0.7v0.7h-0.7zM18.7 3.1h0.7v0.7h-0.7zM18.2 13.2h0.7v0.7h-0.7zM4.7 17.3h0.7v0.7h-0.7zM12.4 15.0h0.7v0.7h-0.7zM6.9 18.7h0.7v0.7h-0.7zM13.5 11.4h0.7v0.7h-0.7zM1.7 6.1h0.7v0.7h-0.7zM9.1 4.3h0.7v0.7h-0.7zM11.4 15.4h0.7v0.7h-0.7zM12.1 15.7h0.7v0.7h-0.7zM13.4 12.3h0.7v0.7h-0.7zM17.2 15.1h0.7v0.7h-0.7zM4.7 9.4h0.7v0.7h-0.7zM3.0 16.4h0.7v0.7h-0.7zM7.5 13.4h0.7v0.7h-0.7zM11.0 4.7h0.7v0.7h-0.7zM18.5 11.3h0.7v0.7h-0.7zM13.7 12.7h0.7v0.7h-0.7zM14.3 3.9h0.7v0.7h-0.7zM18.8 18.1h0.7v0.7h-0.7zM5.2 15.5h0.7v0.7h-0.7zM5.0 2.8h0.7v0.7h-0.7zM8.2 4.2h0.7v0.7h-0.7zM5.7 0.0h0.7v0.7h-0.7zM12.6 18.1h0.7v0.7h-0.7zM18.4 3.4h0.7v0.7h-0.7zM3.0 16.1h0.7v0.7h-0.7zM10.0 9.9h0.7v0.7h-0.7zM13.1 1.1h0.7v0.7h-0.7zM9.5 4.1h0.7v0.7h-0.7zM17.6 5.0h0.7v0.7h-0.7zM14.2 14.8h0.7v0.7h-0.7zM17.0 7.1h0.7v0.7h-0.7zM2.2 2.7h0.7v0.7h-0.7zM3.8 18.3h0.7v0.7h-0.7zM1.3 9.9h0.7v0.7h-0.7zM16.0 1.3h0.7v0.7h-0.7zM18.6 18.8h0.7v0.7h-0.7zM0.3 13.0h0.7v0.7h-0.7zM15.2 8.5h0.7v0.7h-0.7zM14.0 2.8h0.7v0.7h-0.7zM17.5 13.4h0.7v0.7h-0.7zM5.2 1.9h0.7v0.7h-0.7zM13.8 18.1h0.7v0.7h-0.7zM4.6 14.5h0.7v0.7h-0.7zM1.5 13.8h0.7v0.7h-0.7zM14.4 14.9h0.7v0.7h-0.7zM0.8 16.7h0.7v0.7h-0.7zM13.5 9.1h0.7v0.7h-0.7zM5.5 15.7h0.7v0.7h-0.7zM9.4 2.1h0.7v0.7h-0.7zM17.2 13.5h0.7v0.7h-0.7zM4.7 14.5h0.7v0.7h-0.7zM9.0 4.1h0.7v0.7h-0.7zM6.9 2.1h0.7v0.7h-0.7zM3.7 17.7h0.7v0.7h-0.7zM9.1 17.2h0.7v0.7h-0.7zM3.5 2.1h0.7v0.7h-0.7zM15.4 11.4h0.7v0.7h-0.7zM11.9 3.5h0.7v0.7h-0.7zM5.5 4.0h0.7v0.7h-0.7zM18.8 17.9h0.7v0.7h-0.7zM6.7 12.8h0.7v0.7h-0.7zM13.0 14.6h0.7v0.7h-0.7zM14.2 5.4h0.7v0.7h-0.7zM5.1 15.0h0.7v0.7h-0.7zM0.2 12.9h0.7v0.7h-0.7zM17.2 6.7h0.7v0.7h-0.7zM18.5 9.6h0.7v0.7h-0.7zM3.3 4.8h0.7v0.7h-0.7zM3.0 11.5h0.7v0.7h-0.7zM8.4 3.6h0.7v0.7h-0.7zM11.5 8.7h0.7v0.7h-0.7zM19.1 16.5h0.7v0.7h-0.7zM18.6 12.7h0.7v0.7h-0.7zM19.1 11.6h0.7v0.7h-0.7zM4.7 2.2h0.7v0.7h-0.7zM11.6 15.9h0.7v0.7h-0.7zM8.4 12.0h0.7v0.7h-0.7zM4.5 18.3h0.7v0.7h-0.7zM1.3 18.0h0.7v0.7h-0.7zM3.3 18.0h0.7v0.7h-0.7zM6.9 10.3h0.7v0.7h-0.7zM1.7 14.9h0.7v0.7h-0.7zM2.9 2.0h0.7v0.7h-0.7zM0.9 0.9h0.7v0.7h-0.7zM12.0 15.2h0.7v0.7h-0.7zM9.5 13.0h0.7v0.7h-0.7zM4.7 18.3h0.7v0.7h-0.7zM10.2 5.9h0.7v0.7h-0.7zM8.2 9.6h0.7v0.7h-0.7zM12.7 15.2h0.7v0.7h-0.7zM18.0 11.8h0.7v0.7h-0.7zM6.8 16.4h0.7v0.7h-0.7zM12.5 7.6h0.7v0.7h-0.7zM4.2 16.3h0.7v0.7h-0.7zM18.1 16.6h0.7v0.7h-0.7zM11.9 17.4h0.7v0.7h-0.7zM3.1 7.7h0.7v0.7h-0.7zM5.0 17.5h0.7v0.7h-0.7zM3.1 6.0h0.7v0.7h-0.7zM3.5 11.5h0.7v0.7h-0.7zM5.9 18.9h0.7v0.7h-0.7zM15.9 12.4h0.7v0.7h-0.7zM8.8 11.4h0.7v0.7h-0.7zM5.3 7.0h0.7v0.7h-0.7zM8.1 9.9h0.7v0.7h-0.7zM5.2 9.5h0.7v0.7h-0.7zM14.2 13.1h0.7v0.7h-0.7zM1.1 10.4h0.7v0.7h-0.7zM5.6 6.1h0.7v0.7h-0.7zM6.2 3.7h0.7v0.7h-0.7zM3.5 19.1h0.7v0.7h-0.7zM14.2 12.0h0.7v0.7h-0.7zM3.5 3.3h0.7v0.7h-0.7zM5.8 6.5h0.7v0.7h-0.7zM1.1 12.5h0.7v0.7h-0.7zM14.6 4.6h0.7v0.7h-0.7zM7.0 17.3h0.7v0.7h-0.7zM12.7 10.4h0.7v0.7h-0.7zM4.2 13.1h0.7v0.7h-0.7zM0.4 12.8h0.7v0.7h-0.7zM6.2 3.1h0.7v0.7h-0.7zM15.0 18.0h0.7v0.7h-0.7zM16.2 16.3h0.7v0.7h-0.7zM6.7 2.8h0.7v0.7h-0.7zM16.3 11.0h0.7v0.7h-0.7zM1.0 10.2h0.7v0.7h-0.7zM10.1 6.0h0.7v0.7h-0.7zM5.0 7.2h0.7v0.7h-0.7zM8.5 5.0h0.7v0.7h-0.7zM4.3 12.2h0.7v0.7h-0.7zM17.2 8.3h0.7v0.7h-0.7zM5.8 1.9h0.7v0.7h-0.7zM18.2 4.4h0.7v0.7h-0.7zM2.1 2.9h0.7v0.7h-0.7zM8.3 12.1h0.7v0.7h-0.7zM8.6 10.7h0.7v0.7h-0.7zM13.7 7.6h0.7v0.7h-0.7zM6.7 10.6h0.7v0.7h-0.7zM9.5 12.1h0.7v0.7h-0.7zM1.4 4.2h0.7v0.7h-0.7zM6.0 1.1h0.7v0.7h-0.7zM14.0 18.6h0.7v0.7h-0.7zM2.0 3.6h0.7v0.7h-0.7zM8.9 4.7h0.7v0.7h-0.7zM4.6 13.6h0.7v0.7h-0.7zM3.2 19.0h0.7v0.7h-0.7zM2.3 2.4h0.7v0.7h-0.7zM15.7 7.8h0.7v0.7h-0.7zM13.3 16.5h0.7v0.7h-0.7zM7.3 1.6h0.7v0.7h-0.7zM7.6 4.8h0.7v0.7h-0.7zM14.1 11.8h0.7v0.7h-0.7zM11.7 16.0h0.7v0.7h-0.7zM17.7 2.0h0.7v0.7h-0.7zM17.7 8.0h0.7v0.7h-0.7zM9.3 11.4h0.7v0.7h-0.7zM12.7 10.6h0.7v0.7h-0.7zM10.5 10.3h0.7v0.7h-0.7zM6.0 19.2h0.7v0.7h-0.7zM8.8 19.0h0.7v0.7h-0.7zM13.9 4.1h0.7v0.7h-0.7zM10.7 4.9h0.7v0.7h-0.7zM12.2 7.7h0.7v0.7h-0.7zM9.4 1.9h0.7v0.7h-0.7zM18.4 2.8h0.7v0.7h-0.7zM15.0 10.9h0.7v0.7h-0.7zM2.5 19.0h0.7v0.7h-0.7zM15.7 5.7h0.7v0.7h-0.7zM17.7 3.8h0.7v0.7h-0.7zM15.8 11.9h0.7v0.7h-0.7zM6.6 5.7h0.7v0.7h-0.7zM7.1 0.3h0.7v0.7h-0.7zM4.7 1.8h0.7v0.7h-0.7zM1.1 16.9h0.7v0.7h-0.7zM9.1 2.1h0.7v0.7h-0.7zM16.4 12.4h0.7v0.7h-0.7zM14.8 8.1h0.7v0.7h-0.7zM12.8 14.9h0.7v0.7h-0.7zM16.4 9.8h0.7v0.7h-0.7zM12.7 4.5h0.7v0.7h-0.7zM4.3 4.1h0.7v0.7h-0.7zM15.5 4.5h0.7v0.7h-0.7zM7.1 4.5h0.7v0.7h-0.7zM17.2 4.8h0.7v0.7h-0.7zM6.3 5.8h0.7v0.7h-0.7zM1.8 11.5h0.7v0.7h-0.7zM14.1 10.2h0.7v0.7h-0.7zM2.1 1.3h0.7v0.7h-0.7zM16.8 8.1h0.7v0.7h-0.7zM8.0 17.9h0.7v0.7h-0.7zM15.1 18.1h0.7v0.7h-0.7zM1.0 6.2h0.7v0.7h-0.7zM10.5 3.0h0.7v0.7h-0.7zM13.1 5.7h0.7v0.7h-0.7zM2.5 2.6h0.7v0.7h-0.7zM11.7 5.0h0.7v0.7h-0.7zM2.8 17.8h0.7v0.7h-0.7zM5.9 16.9h0.7v0.7h-0.7zM7.1 8.7h0.7v0.7h-0.7zM12.0 10.6h0.7v0.7h-0.7zM2.5 13.5h0.7v0.7h-0.7zM3.6 13.5h0.7v0.7h-0.7zM15.1 13.4h0.7v0.7h-0.7zM13.8 14.2h0.7v0.7h-0.7zM8.8 11.4h0.7v0.7h-0.7zM5.4 2.6h0.7v0.7h-0.7zM13.4 13.3h0.7v0.7h-0.7zM9.0 12.9h0.7v0.7h-0.7zM6.0 3.1h0.7v0.7h-0.7zM16.9 3.8h0.7v0.7h-0.7zM3.9 12.3h0.7v0.7h-0.7zM15.5 7.4h0.7v0.7h-0.7zM11.9 15.6h0.7v0.7h-0.7zM12.5 5.3h0.7v0.7h-0.7zM13.2 12.9h0.7v0.7h-0.7zM14.4 11.9h0.7v0.7h-0.7zM17.0 2.1h0.7v0.7h-0.7zM17.8 5.4h0.7v0.7h-0.7zM4.9 6.8h0.7v0.7h-0.7zM3.2 5.8h0.7v0.7h-0.7zM17.3 1.8h0.7v0.7h-0.7zM3.9 4.5h0.7v0.7h-0.7zM4.3 10.4h0.7v0.7h-0.7zM15.5 4.4h0.7v0.7h-0.7zM18.6 12.3h0.7v0.7h-0.7zM16.3 8.0h0.7v0.7h-0.7zM10.0 8.8h0.7v0.7h-0.7zM7.2 4.0h0.7v0.7h-0.7zM19.1 15.2h0.7v0.7h-0.7z" fill="#fff"/></pattern>
<mask id="mk1" maskUnits="userSpaceOnUse" x="0" y="0" width="110" height="107"><rect x="0" y="0" width="110" height="107" fill="#fff" fill-opacity="0.25"/><rect x="0" y="0" width="110" height="107" fill="url(#pd1)"/></mask>
<mask id="mk2" maskUnits="userSpaceOnUse" x="0" y="0" width="110" height="107"><rect x="0" y="0" width="110" height="107" fill="#fff" fill-opacity="0.08"/><rect x="0" y="0" width="110" height="107" fill="url(#pd2)"/></mask>
</defs>

<text x="21.4" y="5.3" class="lab">a</text>
<rect x="39" y="2.3" width="158" height="10.2" rx="2" class="box"/>
<text x="121.5" y="10.6" class="bt" text-anchor="middle">Cell-cell neighbourhood graph</text>
<rect x="248.3" y="1.8" width="152" height="10.4" rx="2" class="box"/>
<text x="325" y="10.2" class="bt" text-anchor="middle">Prize and prenalty allocation</text>
<rect x="139.6" y="124.4" width="156.6" height="11" rx="2" class="box"/>
<text x="218.8" y="132.5" class="bt" text-anchor="middle" style="font-size:8.75px">Subsampled cells from graph</text>
<line x1="90.4" y1="21.1" x2="70.4" y2="29.3" class="e1"/>
<line x1="90.4" y1="21.1" x2="79.4" y2="29.2" class="e1"/>
<line x1="61.2" y1="31.1" x2="70.4" y2="29.3" class="e1"/>
<line x1="61.2" y1="31.1" x2="64.5" y2="45.1" class="e1"/>
<line x1="61.2" y1="31.1" x2="59.7" y2="55.3" class="e1"/>
<line x1="70.4" y1="29.3" x2="64.5" y2="45.1" class="e1"/>
<line x1="79.4" y1="29.2" x2="79" y2="42.7" class="e1"/>
<line x1="64.5" y1="45.1" x2="79" y2="42.7" class="e1"/>
<line x1="64.5" y1="45.1" x2="59.7" y2="55.3" class="e1"/>
<line x1="79" y1="42.7" x2="92.3" y2="37.6" class="e1"/>
<line x1="79" y1="42.7" x2="96.9" y2="52.2" class="e1"/>
<line x1="79" y1="42.7" x2="70.1" y2="55.3" class="e1"/>
<line x1="79" y1="42.7" x2="81.2" y2="52.2" class="e1"/>
<line x1="92.3" y1="37.6" x2="96.9" y2="52.2" class="e1"/>
<line x1="70.1" y1="55.3" x2="81.2" y2="52.2" class="e1"/>
<line x1="81.2" y1="52.2" x2="96.9" y2="52.2" class="e1"/>
<line x1="59.7" y1="55.3" x2="70.1" y2="55.3" class="e1"/>
<line x1="70.1" y1="55.3" x2="84.4" y2="65.2" class="e1"/>
<line x1="81.2" y1="52.2" x2="84.4" y2="65.2" class="e1"/>
<line x1="96.9" y1="52.2" x2="84.4" y2="65.2" class="e1"/>
<line x1="84.4" y1="65.2" x2="68.9" y2="76.3" class="e1"/>
<line x1="68.9" y1="76.3" x2="49" y2="90" class="e1"/>
<line x1="68.9" y1="76.3" x2="73.3" y2="92.1" class="e1"/>
<line x1="49" y1="90" x2="60.7" y2="96.5" class="e1"/>
<line x1="60.7" y1="96.5" x2="73.3" y2="92.1" class="e1"/>
<line x1="60.7" y1="96.5" x2="74.7" y2="101.1" class="e1"/>
<line x1="73.3" y1="92.1" x2="74.7" y2="101.1" class="e1"/>
<line x1="73.3" y1="92.1" x2="90.4" y2="99.4" class="e1"/>
<line x1="74.7" y1="101.1" x2="90.4" y2="99.4" class="e1"/>
<line x1="90.4" y1="99.4" x2="108.6" y2="94.6" class="e1"/>
<line x1="108.6" y1="94.6" x2="127.3" y2="85.4" class="e1"/>
<line x1="108.6" y1="94.6" x2="124.4" y2="93.1" class="e1"/>
<line x1="108.6" y1="94.6" x2="121" y2="107.6" class="e1"/>
<line x1="127.3" y1="85.4" x2="124.4" y2="93.1" class="e1"/>
<line x1="124.4" y1="93.1" x2="121" y2="107.6" class="e1"/>
<line x1="121" y1="107.6" x2="141.2" y2="99.4" class="e1"/>
<line x1="141.2" y1="99.4" x2="149.6" y2="82.6" class="e1"/>
<line x1="149.6" y1="82.6" x2="150.7" y2="73.4" class="e1"/>
<line x1="149.6" y1="82.6" x2="159.4" y2="67.3" class="e1"/>
<line x1="150.7" y1="73.4" x2="159.4" y2="67.3" class="e1"/>
<line x1="150.7" y1="73.4" x2="152.8" y2="59.5" class="e1"/>
<line x1="159.4" y1="67.3" x2="152.8" y2="59.5" class="e1"/>
<line x1="159.4" y1="67.3" x2="162.6" y2="54.7" class="e1"/>
<line x1="152.8" y1="59.5" x2="162.6" y2="54.7" class="e1"/>
<line x1="152.8" y1="59.5" x2="153.3" y2="48.9" class="e1"/>
<line x1="153.3" y1="48.9" x2="158.7" y2="38.4" class="e1"/>
<line x1="162.6" y1="54.7" x2="172.8" y2="56.3" class="e1"/>
<line x1="158.7" y1="38.4" x2="163.2" y2="32.2" class="e1"/>
<line x1="158.7" y1="38.4" x2="172.6" y2="37.8" class="e1"/>
<line x1="163.2" y1="32.2" x2="173.7" y2="29.6" class="e1"/>
<line x1="163.2" y1="32.2" x2="172.6" y2="37.8" class="e1"/>
<line x1="173.7" y1="29.6" x2="182.5" y2="31.8" class="e1"/>
<line x1="173.7" y1="29.6" x2="172.6" y2="37.8" class="e1"/>
<line x1="182.5" y1="31.8" x2="172.6" y2="37.8" class="e1"/>
<line x1="182.5" y1="31.8" x2="184.2" y2="41.6" class="e1"/>
<line x1="172.6" y1="37.8" x2="184.2" y2="41.6" class="e1"/>
<line x1="172.6" y1="37.8" x2="172.8" y2="46.5" class="e1"/>
<line x1="184.2" y1="41.6" x2="172.8" y2="46.5" class="e1"/>
<line x1="184.2" y1="41.6" x2="189.8" y2="55.3" class="e1"/>
<line x1="172.8" y1="46.5" x2="172.8" y2="56.3" class="e1"/>
<line x1="172.8" y1="46.5" x2="189.8" y2="55.3" class="e1"/>
<line x1="172.8" y1="56.3" x2="189.8" y2="55.3" class="e1"/>
<circle cx="90.4" cy="21.1" r="2.7"/>
<circle cx="61.2" cy="31.1" r="2.7"/>
<circle cx="70.4" cy="29.3" r="2.7"/>
<circle cx="79.4" cy="29.2" r="2.7"/>
<circle cx="92.3" cy="37.6" r="2.7"/>
<circle cx="64.5" cy="45.1" r="2.7"/>
<circle cx="79" cy="42.7" r="2.7"/>
<circle cx="59.7" cy="55.3" r="2.7"/>
<circle cx="70.1" cy="55.3" r="2.7"/>
<circle cx="81.2" cy="52.2" r="2.7"/>
<circle cx="96.9" cy="52.2" r="2.7"/>
<circle cx="84.4" cy="65.2" r="2.7"/>
<circle cx="68.9" cy="76.3" r="2.7"/>
<circle cx="49" cy="90" r="2.7"/>
<circle cx="60.7" cy="96.5" r="2.7"/>
<circle cx="73.3" cy="92.1" r="2.7"/>
<circle cx="74.7" cy="101.1" r="2.7"/>
<circle cx="90.4" cy="99.4" r="2.7"/>
<circle cx="108.6" cy="94.6" r="2.7"/>
<circle cx="127.3" cy="85.4" r="2.7"/>
<circle cx="124.4" cy="93.1" r="2.7"/>
<circle cx="121" cy="107.6" r="2.7"/>
<circle cx="141.2" cy="99.4" r="2.7"/>
<circle cx="149.6" cy="82.6" r="2.7"/>
<circle cx="150.7" cy="73.4" r="2.7"/>
<circle cx="159.4" cy="67.3" r="2.7"/>
<circle cx="152.8" cy="59.5" r="2.7"/>
<circle cx="162.6" cy="54.7" r="2.7"/>
<circle cx="153.3" cy="48.9" r="2.7"/>
<circle cx="158.7" cy="38.4" r="2.7"/>
<circle cx="163.2" cy="32.2" r="2.7"/>
<circle cx="173.7" cy="29.6" r="2.7"/>
<circle cx="182.5" cy="31.8" r="2.7"/>
<circle cx="172.6" cy="37.8" r="2.7"/>
<circle cx="184.2" cy="41.6" r="2.7"/>
<circle cx="172.8" cy="46.5" r="2.7"/>
<circle cx="172.8" cy="56.3" r="2.7"/>
<circle cx="189.8" cy="55.3" r="2.7"/>
<line x1="193" y1="72.4" x2="247" y2="72.4" class="ar"/>
<path d="M250.5 72.4 L243.5 69.6 L245.5 72.4 L243.5 75.2 Z"/>
<line x1="291.5" y1="23.4" x2="271.6" y2="32.1" class="e2"/>
<line x1="291.5" y1="23.4" x2="281.3" y2="32.5" class="e3"/>
<line x1="262.6" y1="33.7" x2="271.6" y2="32.1" class="e2"/>
<line x1="262.6" y1="33.7" x2="267.3" y2="46.3" class="e2"/>
<line x1="262.6" y1="33.7" x2="262.4" y2="57.6" class="e2"/>
<line x1="271.6" y1="32.1" x2="267.3" y2="46.3" class="e2"/>
<line x1="281.3" y1="32.5" x2="281.5" y2="45.6" class="e3"/>
<line x1="267.3" y1="46.3" x2="281.5" y2="45.6" class="e3"/>
<line x1="267.3" y1="46.3" x2="262.4" y2="57.6" class="e3"/>
<line x1="281.5" y1="45.6" x2="294.7" y2="40.7" class="e2"/>
<line x1="281.5" y1="45.6" x2="298.5" y2="53.9" class="e2"/>
<line x1="281.5" y1="45.6" x2="272.9" y2="57" class="e2"/>
<line x1="281.5" y1="45.6" x2="283.6" y2="54.5" class="e2"/>
<line x1="294.7" y1="40.7" x2="298.5" y2="53.9" class="e2"/>
<line x1="272.9" y1="57" x2="283.6" y2="54.5" class="e2"/>
<line x1="283.6" y1="54.5" x2="298.5" y2="53.9" class="e2"/>
<line x1="262.4" y1="57.6" x2="272.9" y2="57" class="e2"/>
<line x1="272.9" y1="57" x2="286" y2="67.6" class="e2"/>
<line x1="283.6" y1="54.5" x2="286" y2="67.6" class="e3"/>
<line x1="298.5" y1="53.9" x2="286" y2="67.6" class="e3"/>
<line x1="286" y1="67.6" x2="271.6" y2="77.5" class="e3"/>
<line x1="271.6" y1="77.5" x2="252.6" y2="90.3" class="e3"/>
<line x1="271.6" y1="77.5" x2="276.1" y2="93.8" class="e2"/>
<line x1="252.6" y1="90.3" x2="263.7" y2="98.5" class="e2"/>
<line x1="263.7" y1="98.5" x2="276.1" y2="93.8" class="e2"/>
<line x1="263.7" y1="98.5" x2="277.6" y2="103.3" class="e3"/>
<line x1="276.1" y1="93.8" x2="277.6" y2="103.3" class="e2"/>
<line x1="276.1" y1="93.8" x2="292.5" y2="101.2" class="e2"/>
<line x1="277.6" y1="103.3" x2="292.5" y2="101.2" class="e2"/>
<line x1="292.5" y1="101.2" x2="310.3" y2="96.1" class="e2"/>
<line x1="310.3" y1="96.1" x2="327.8" y2="86" class="e3"/>
<line x1="310.3" y1="96.1" x2="325.5" y2="94.9" class="e2"/>
<line x1="310.3" y1="96.1" x2="322" y2="108.2" class="e2"/>
<line x1="327.8" y1="86" x2="325.5" y2="94.9" class="e2"/>
<line x1="325.5" y1="94.9" x2="322" y2="108.2" class="e2"/>
<line x1="322" y1="108.2" x2="342.5" y2="100.7" class="e2"/>
<line x1="342.5" y1="100.7" x2="351.3" y2="82.7" class="e3"/>
<line x1="351.3" y1="82.7" x2="350.7" y2="75.4" class="e2"/>
<line x1="351.3" y1="82.7" x2="360.4" y2="69" class="e3"/>
<line x1="350.7" y1="75.4" x2="360.4" y2="69" class="e2"/>
<line x1="350.7" y1="75.4" x2="353.6" y2="61.2" class="e3"/>
<line x1="360.4" y1="69" x2="353.6" y2="61.2" class="e2"/>
<line x1="360.4" y1="69" x2="363.2" y2="56.8" class="e3"/>
<line x1="353.6" y1="61.2" x2="363.2" y2="56.8" class="e2"/>
<line x1="353.6" y1="61.2" x2="355.7" y2="50.6" class="e2"/>
<line x1="355.7" y1="50.6" x2="360.1" y2="41.6" class="e3"/>
<line x1="363.2" y1="56.8" x2="372.3" y2="58.6" class="e2"/>
<line x1="360.1" y1="41.6" x2="364.5" y2="35.1" class="e2"/>
<line x1="360.1" y1="41.6" x2="372.9" y2="41.5" class="e2"/>
<line x1="364.5" y1="35.1" x2="373.8" y2="33.1" class="e3"/>
<line x1="364.5" y1="35.1" x2="372.9" y2="41.5" class="e2"/>
<line x1="373.8" y1="33.1" x2="383.3" y2="34" class="e2"/>
<line x1="373.8" y1="33.1" x2="372.9" y2="41.5" class="e2"/>
<line x1="383.3" y1="34" x2="372.9" y2="41.5" class="e2"/>
<line x1="383.3" y1="34" x2="384.4" y2="45.1" class="e2"/>
<line x1="372.9" y1="41.5" x2="384.4" y2="45.1" class="e2"/>
<line x1="372.9" y1="41.5" x2="373.4" y2="49.3" class="e2"/>
<line x1="384.4" y1="45.1" x2="373.4" y2="49.3" class="e2"/>
<line x1="384.4" y1="45.1" x2="389.8" y2="57" class="e2"/>
<line x1="373.4" y1="49.3" x2="372.3" y2="58.6" class="e3"/>
<line x1="373.4" y1="49.3" x2="389.8" y2="57" class="e2"/>
<line x1="372.3" y1="58.6" x2="389.8" y2="57" class="e3"/>
<circle cx="291.5" cy="23.4" r="1.5"/>
<circle cx="262.6" cy="33.7" r="1.5"/>
<circle cx="271.6" cy="32.1" r="1.5"/>
<circle cx="281.3" cy="32.5" r="3.7"/>
<circle cx="294.7" cy="40.7" r="1.5"/>
<circle cx="267.3" cy="46.3" r="3.7"/>
<circle cx="281.5" cy="45.6" r="1.5"/>
<circle cx="262.4" cy="57.6" r="1.5"/>
<circle cx="272.9" cy="57" r="1.5"/>
<circle cx="283.6" cy="54.5" r="1.5"/>
<circle cx="298.5" cy="53.9" r="1.5"/>
<circle cx="286" cy="67.6" r="3.7"/>
<circle cx="271.6" cy="77.5" r="1.5"/>
<circle cx="252.6" cy="90.3" r="3.7"/>
<circle cx="263.7" cy="98.5" r="1.5"/>
<circle cx="276.1" cy="93.8" r="1.5"/>
<circle cx="277.6" cy="103.3" r="3.7"/>
<circle cx="292.5" cy="101.2" r="1.5"/>
<circle cx="310.3" cy="96.1" r="1.5"/>
<circle cx="327.8" cy="86" r="3.7"/>
<circle cx="325.5" cy="94.9" r="1.5"/>
<circle cx="322" cy="108.2" r="1.5"/>
<circle cx="342.5" cy="100.7" r="1.5"/>
<circle cx="351.3" cy="82.7" r="1.5"/>
<circle cx="350.7" cy="75.4" r="1.5"/>
<circle cx="360.4" cy="69" r="3.7"/>
<circle cx="353.6" cy="61.2" r="1.5"/>
<circle cx="363.2" cy="56.8" r="1.5"/>
<circle cx="355.7" cy="50.6" r="3.7"/>
<circle cx="360.1" cy="41.6" r="1.5"/>
<circle cx="364.5" cy="35.1" r="1.5"/>
<circle cx="373.8" cy="33.1" r="1.5"/>
<circle cx="383.3" cy="34" r="1.5"/>
<circle cx="372.9" cy="41.5" r="3.7"/>
<circle cx="384.4" cy="45.1" r="1.5"/>
<circle cx="373.4" cy="49.3" r="1.5"/>
<circle cx="372.3" cy="58.6" r="1.5"/>
<circle cx="389.8" cy="57" r="3.7"/>
<line x1="341.2" y1="122.2" x2="303.5" y2="159.2" class="ar"/>
<path d="M300.7 162 L304.2 154.8 L304.9 157.8 L307.9 158.5 Z"/>
<line x1="175.5" y1="153.4" x2="175.8" y2="166.8" class="e4"/>
<line x1="161" y1="167.8" x2="175.8" y2="166.8" class="e4"/>
<line x1="175.8" y1="166.8" x2="177.4" y2="175.9" class="e4"/>
<line x1="177.4" y1="175.9" x2="180.1" y2="189" class="e4"/>
<line x1="180.1" y1="189" x2="165.8" y2="199.2" class="e4"/>
<line x1="165.8" y1="199.2" x2="145.8" y2="213.1" class="e4"/>
<line x1="145.8" y1="213.1" x2="157.2" y2="220.4" class="e4"/>
<line x1="157.2" y1="220.4" x2="171.6" y2="225.8" class="e4"/>
<line x1="171.6" y1="225.8" x2="186.9" y2="223.6" class="e4"/>
<line x1="186.9" y1="223.6" x2="205.2" y2="218.5" class="e4"/>
<line x1="205.2" y1="218.5" x2="222.8" y2="208.4" class="e4"/>
<line x1="222.8" y1="208.4" x2="220.5" y2="217.2" class="e4"/>
<line x1="220.5" y1="217.2" x2="216.9" y2="231.1" class="e4"/>
<line x1="216.9" y1="231.1" x2="237.7" y2="223" class="e4"/>
<line x1="237.7" y1="223" x2="246.8" y2="205.1" class="e4"/>
<line x1="246.8" y1="205.1" x2="256" y2="190.8" class="e4"/>
<line x1="256" y1="190.8" x2="258.9" y2="178.5" class="e4"/>
<line x1="258.9" y1="178.5" x2="251.2" y2="171.9" class="e4"/>
<line x1="258.9" y1="178.5" x2="268.4" y2="180.3" class="e4"/>
<line x1="268.4" y1="180.3" x2="285.9" y2="178.5" class="e4"/>
<line x1="268.4" y1="180.3" x2="269.1" y2="170.5" class="e4"/>
<line x1="269.1" y1="170.5" x2="268.7" y2="162.4" class="e4"/>
<circle cx="175.5" cy="153.4" r="3.7"/>
<circle cx="161" cy="167.8" r="3.7"/>
<circle cx="175.8" cy="166.8" r="1.5"/>
<circle cx="177.4" cy="175.9" r="1.5"/>
<circle cx="180.1" cy="189" r="3.7"/>
<circle cx="165.8" cy="199.2" r="1.5"/>
<circle cx="145.8" cy="213.1" r="3.7"/>
<circle cx="157.2" cy="220.4" r="1.5"/>
<circle cx="171.6" cy="225.8" r="3.7"/>
<circle cx="186.9" cy="223.6" r="1.5"/>
<circle cx="205.2" cy="218.5" r="1.5"/>
<circle cx="222.8" cy="208.4" r="3.7"/>
<circle cx="220.5" cy="217.2" r="1.5"/>
<circle cx="216.9" cy="231.1" r="1.5"/>
<circle cx="237.7" cy="223" r="1.5"/>
<circle cx="246.8" cy="205.1" r="1.5"/>
<circle cx="256" cy="190.8" r="3.7"/>
<circle cx="258.9" cy="178.5" r="1.5"/>
<circle cx="251.2" cy="171.9" r="3.7"/>
<circle cx="268.4" cy="180.3" r="1.5"/>
<circle cx="285.9" cy="178.5" r="3.7"/>
<circle cx="269.1" cy="170.5" r="1.5"/>
<circle cx="268.7" cy="162.4" r="3.7"/>
<circle cx="185.5" cy="144.2" r="1.6" class="emp"/>
<circle cx="156" cy="154.9" r="1.6" class="emp"/>
<circle cx="165.5" cy="153" r="1.6" class="emp"/>
<circle cx="189.1" cy="162" r="1.6" class="emp"/>
<circle cx="156" cy="178.8" r="1.6" class="emp"/>
<circle cx="166.5" cy="178.5" r="1.6" class="emp"/>
<circle cx="192.8" cy="175.3" r="1.6" class="emp"/>
<circle cx="169.9" cy="216" r="1.6" class="emp"/>
<circle cx="260.4" cy="156.2" r="1.6" class="emp"/>
<circle cx="269.6" cy="154" r="1.6" class="emp"/>
<circle cx="279.3" cy="155" r="1.6" class="emp"/>
<circle cx="255.7" cy="162.4" r="1.6" class="emp"/>
<circle cx="280.8" cy="166.1" r="1.6" class="emp"/>
<circle cx="249.1" cy="182.7" r="1.6" class="emp"/>
<circle cx="246.2" cy="197.3" r="1.6" class="emp"/>
<path d="M134.4 204.3 V154 H146.5" class="da"/>
<path d="M149.3 154 L145.3 152.3 L145.3 155.7 Z"/>
<path d="M280.8 191.2 L263.5 193.8 M280.8 191.2 L272 186.4" class="da"/>
<path d="M260.8 194.1 L264.6 192.1 L265 195.4 Z"/>
<path d="M269.7 185.3 L274 185.9 L272.4 188.8 Z"/>
<text class="st" x="45.8" y="195.6">Empty dots represent</text>
<text class="st" x="45.8" y="202.5">cells that were not</text>
<text class="st" x="45.8" y="209.5">included in the</text>
<text class="st" x="45.8" y="216.4">subsampled set of cells.</text>
<text class="st" x="286.8" y="194.6">All filled dots represent</text>
<text class="st" x="286.8" y="201.6">the seed and non-seed</text>
<text class="st" x="286.8" y="208.5">cells that were included</text>
<text class="st" x="286.8" y="215.6">in the subsampled set</text>
<text x="437.2" y="10.7" class="lab">b</text>
<rect x="504.35" y="75.78" width="8.3" height="11.52" fill="#f5f1e0" stroke="#555" stroke-width="0.35"/>
<circle cx="508.5" cy="74.7" r="1.25" fill="none" stroke="#444" stroke-width="0.6"/>
<circle cx="508.5" cy="76.5" r="1.25" fill="none" stroke="#444" stroke-width="0.6"/>
<circle cx="508.5" cy="77.22" r="1.25" fill="none" stroke="#444" stroke-width="0.6"/>
<line x1="508.5" x2="508.5" y1="74.68" y2="76.88" stroke="#e8262a" stroke-width="0.9"/>
<rect x="514.25" y="75.78" width="8.3" height="11.52" fill="#a9abad" stroke="#555" stroke-width="0.35"/>
<circle cx="518.4" cy="75.06" r="1.25" fill="none" stroke="#444" stroke-width="0.6"/>
<circle cx="518.4" cy="76.5" r="1.25" fill="none" stroke="#444" stroke-width="0.6"/>
<circle cx="518.4" cy="76.86" r="1.25" fill="none" stroke="#444" stroke-width="0.6"/>
<line x1="518.4" x2="518.4" y1="74.79" y2="76.77" stroke="#e8262a" stroke-width="0.9"/>
<rect x="524.15" y="75.78" width="8.3" height="11.52" fill="#2b1f17" stroke="#555" stroke-width="0.35"/>
<circle cx="528.3" cy="74.7" r="1.25" fill="none" stroke="#eee" stroke-width="0.6"/>
<circle cx="528.3" cy="76.5" r="1.25" fill="none" stroke="#eee" stroke-width="0.6"/>
<circle cx="528.3" cy="77.58" r="1.25" fill="none" stroke="#eee" stroke-width="0.6"/>
<line x1="528.3" x2="528.3" y1="74.63" y2="76.93" stroke="#e8262a" stroke-width="0.9"/>
<rect x="543.9" y="69.3" width="8.3" height="18" fill="#f5f1e0" stroke="#555" stroke-width="0.35"/>
<circle cx="548.05" cy="67.5" r="1.25" fill="none" stroke="#444" stroke-width="0.6"/>
<circle cx="548.05" cy="69.3" r="1.25" fill="none" stroke="#444" stroke-width="0.6"/>
<circle cx="548.05" cy="71.46" r="1.25" fill="none" stroke="#444" stroke-width="0.6"/>
<line x1="548.05" x2="548.05" y1="67.99" y2="70.61" stroke="#e8262a" stroke-width="0.9"/>
<rect x="553.8" y="69.66" width="8.3" height="17.64" fill="#a9abad" stroke="#555" stroke-width="0.35"/>
<circle cx="557.95" cy="68.22" r="1.25" fill="none" stroke="#444" stroke-width="0.6"/>
<circle cx="557.95" cy="70.02" r="1.25" fill="none" stroke="#444" stroke-width="0.6"/>
<circle cx="557.95" cy="71.82" r="1.25" fill="none" stroke="#444" stroke-width="0.6"/>
<line x1="557.95" x2="557.95" y1="68.4" y2="70.92" stroke="#e8262a" stroke-width="0.9"/>
<rect x="563.7" y="69.3" width="8.3" height="18" fill="#2b1f17" stroke="#555" stroke-width="0.35"/>
<circle cx="567.85" cy="67.86" r="1.25" fill="none" stroke="#eee" stroke-width="0.6"/>
<circle cx="567.85" cy="69.66" r="1.25" fill="none" stroke="#eee" stroke-width="0.6"/>
<circle cx="567.85" cy="72.18" r="1.25" fill="none" stroke="#eee" stroke-width="0.6"/>
<line x1="567.85" x2="567.85" y1="67.93" y2="70.67" stroke="#e8262a" stroke-width="0.9"/>
<rect x="583.45" y="59.22" width="8.3" height="28.08" fill="#f5f1e0" stroke="#555" stroke-width="0.35"/>
<circle cx="587.6" cy="57.78" r="1.25" fill="none" stroke="#444" stroke-width="0.6"/>
<circle cx="587.6" cy="60.3" r="1.25" fill="none" stroke="#444" stroke-width="0.6"/>
<circle cx="587.6" cy="62.1" r="1.25" fill="none" stroke="#444" stroke-width="0.6"/>
<line x1="587.6" x2="587.6" y1="57.85" y2="60.59" stroke="#e8262a" stroke-width="0.9"/>
<rect x="593.35" y="59.22" width="8.3" height="28.08" fill="#a9abad" stroke="#555" stroke-width="0.35"/>
<circle cx="597.5" cy="57.78" r="1.25" fill="none" stroke="#444" stroke-width="0.6"/>
<circle cx="597.5" cy="60.66" r="1.25" fill="none" stroke="#444" stroke-width="0.6"/>
<circle cx="597.5" cy="62.82" r="1.25" fill="none" stroke="#444" stroke-width="0.6"/>
<line x1="597.5" x2="597.5" y1="57.74" y2="60.7" stroke="#e8262a" stroke-width="0.9"/>
<rect x="603.25" y="59.22" width="8.3" height="28.08" fill="#2b1f17" stroke="#555" stroke-width="0.35"/>
<circle cx="607.4" cy="57.42" r="1.25" fill="none" stroke="#eee" stroke-width="0.6"/>
<circle cx="607.4" cy="59.94" r="1.25" fill="none" stroke="#eee" stroke-width="0.6"/>
<circle cx="607.4" cy="62.46" r="1.25" fill="none" stroke="#eee" stroke-width="0.6"/>
<line x1="607.4" x2="607.4" y1="57.74" y2="60.7" stroke="#e8262a" stroke-width="0.9"/>
<rect x="623" y="16.38" width="8.3" height="70.92" fill="#f5f1e0" stroke="#555" stroke-width="0.35"/>
<circle cx="627.15" cy="11.7" r="1.25" fill="none" stroke="#444" stroke-width="0.6"/>
<circle cx="627.15" cy="14.58" r="1.25" fill="none" stroke="#444" stroke-width="0.6"/>
<circle cx="627.15" cy="17.82" r="1.25" fill="none" stroke="#444" stroke-width="0.6"/>
<circle cx="627.15" cy="22.5" r="1.25" fill="none" stroke="#444" stroke-width="0.6"/>
<circle cx="627.15" cy="25.02" r="1.25" fill="none" stroke="#444" stroke-width="0.6"/>
<circle cx="627.15" cy="29.7" r="1.25" fill="none" stroke="#444" stroke-width="0.6"/>
<line x1="627.15" x2="627.15" y1="12.96" y2="19.8" stroke="#e8262a" stroke-width="0.9"/>
<rect x="632.9" y="14.22" width="8.3" height="73.08" fill="#a9abad" stroke="#555" stroke-width="0.35"/>
<circle cx="637.05" cy="9.54" r="1.25" fill="none" stroke="#444" stroke-width="0.6"/>
<circle cx="637.05" cy="13.5" r="1.25" fill="none" stroke="#444" stroke-width="0.6"/>
<circle cx="637.05" cy="30.42" r="1.25" fill="none" stroke="#444" stroke-width="0.6"/>
<circle cx="637.05" cy="32.58" r="1.25" fill="none" stroke="#444" stroke-width="0.6"/>
<line x1="637.05" x2="637.05" y1="10.04" y2="18.4" stroke="#e8262a" stroke-width="0.9"/>
<rect x="642.8" y="13.14" width="8.3" height="74.16" fill="#2b1f17" stroke="#555" stroke-width="0.35"/>
<circle cx="646.95" cy="8.1" r="1.25" fill="none" stroke="#eee" stroke-width="0.6"/>
<circle cx="646.95" cy="12.78" r="1.25" fill="none" stroke="#eee" stroke-width="0.6"/>
<circle cx="646.95" cy="29.34" r="1.25" fill="none" stroke="#eee" stroke-width="0.6"/>
<circle cx="646.95" cy="32.22" r="1.25" fill="none" stroke="#eee" stroke-width="0.6"/>
<line x1="646.95" x2="646.95" y1="8.8" y2="17.48" stroke="#e8262a" stroke-width="0.9"/>
<rect x="497.2" y="4.4" width="160.8" height="82.9" fill="none" stroke="#cfcfcf" stroke-width="0.7"/>
<line x1="497.2" x2="497.2" y1="4.4" y2="87.3" stroke="#bbb" stroke-width="0.7"/>
<line x1="497.2" x2="658" y1="87.3" y2="87.3" stroke="#bbb" stroke-width="0.7"/>
<line x1="494.9" x2="497.2" y1="87.3" y2="87.3" stroke="#444" stroke-width="0.6"/>
<text x="493.4" y="89.8" class="dt" text-anchor="end">0</text>
<line x1="494.9" x2="497.2" y1="69.3" y2="69.3" stroke="#444" stroke-width="0.6"/>
<text x="493.4" y="71.8" class="dt" text-anchor="end">5</text>
<line x1="494.9" x2="497.2" y1="51.3" y2="51.3" stroke="#444" stroke-width="0.6"/>
<text x="493.4" y="53.8" class="dt" text-anchor="end">10</text>
<line x1="494.9" x2="497.2" y1="33.3" y2="33.3" stroke="#444" stroke-width="0.6"/>
<text x="493.4" y="35.8" class="dt" text-anchor="end">15</text>
<line x1="494.9" x2="497.2" y1="15.3" y2="15.3" stroke="#444" stroke-width="0.6"/>
<text x="493.4" y="17.8" class="dt" text-anchor="end">20</text>
<line x1="518.4" x2="518.4" y1="87.3" y2="89.6" stroke="#444" stroke-width="0.6"/>
<text x="518.4" y="96.1" class="dt" text-anchor="middle">600K</text>
<line x1="557.95" x2="557.95" y1="87.3" y2="89.6" stroke="#444" stroke-width="0.6"/>
<text x="557.95" y="96.1" class="dt" text-anchor="middle">1M</text>
<line x1="597.5" x2="597.5" y1="87.3" y2="89.6" stroke="#444" stroke-width="0.6"/>
<text x="597.5" y="96.1" class="dt" text-anchor="middle">2M</text>
<line x1="637.05" x2="637.05" y1="87.3" y2="89.6" stroke="#444" stroke-width="0.6"/>
<text x="637.05" y="96.1" class="dt" text-anchor="middle">4M</text>
<text x="577.5" y="106.6" class="dl" text-anchor="middle">Dataset size (no. of cells)</text>
<text transform="translate(479.3 45.85) rotate(-90)" class="dl" text-anchor="middle">Memory (in GB)</text>
<rect x="500.8" y="7.5" width="46.5" height="29.8" rx="1.5" fill="#fff" fill-opacity="0.85" stroke="#e2e2e2" stroke-width="0.6"/>
<rect x="503.2" y="10.4" width="13.2" height="4.8" fill="#f5f1e0" stroke="#555" stroke-width="0.35"/>
<text x="521" y="15" class="dt">0.1%</text>
<rect x="503.2" y="19.7" width="13.2" height="4.8" fill="#a9abad" stroke="#555" stroke-width="0.35"/>
<text x="521" y="24.3" class="dt">1.0%</text>
<rect x="503.2" y="29" width="13.2" height="4.8" fill="#2b1f17" stroke="#555" stroke-width="0.35"/>
<text x="521" y="33.6" class="dt">10.0%</text>
<text x="437.2" y="120" class="lab">c</text>
<rect x="504.35" y="192.39" width="8.3" height="8.11" fill="#f5f1e0" stroke="#555" stroke-width="0.35"/>
<circle cx="508.5" cy="191.11" r="1.25" fill="none" stroke="#444" stroke-width="0.6"/>
<circle cx="508.5" cy="192.81" r="1.25" fill="none" stroke="#444" stroke-width="0.6"/>
<circle cx="508.5" cy="193.67" r="1.25" fill="none" stroke="#444" stroke-width="0.6"/>
<line x1="508.5" x2="508.5" y1="191.15" y2="193.63" stroke="#e8262a" stroke-width="0.9"/>
<rect x="514.25" y="193.45" width="8.3" height="7.05" fill="#a9abad" stroke="#555" stroke-width="0.35"/>
<circle cx="518.4" cy="192.81" r="1.25" fill="none" stroke="#444" stroke-width="0.6"/>
<circle cx="518.4" cy="193.67" r="1.25" fill="none" stroke="#444" stroke-width="0.6"/>
<line x1="518.4" x2="518.4" y1="192.47" y2="194.44" stroke="#e8262a" stroke-width="0.9"/>
<rect x="524.15" y="193.67" width="8.3" height="6.83" fill="#2b1f17" stroke="#555" stroke-width="0.35"/>
<circle cx="528.3" cy="193.24" r="1.25" fill="none" stroke="#eee" stroke-width="0.6"/>
<circle cx="528.3" cy="194.09" r="1.25" fill="none" stroke="#eee" stroke-width="0.6"/>
<line x1="528.3" x2="528.3" y1="192.69" y2="194.65" stroke="#e8262a" stroke-width="0.9"/>
<rect x="543.9" y="186.41" width="8.3" height="14.09" fill="#f5f1e0" stroke="#555" stroke-width="0.35"/>
<circle cx="548.05" cy="184.7" r="1.25" fill="none" stroke="#444" stroke-width="0.6"/>
<circle cx="548.05" cy="186.41" r="1.25" fill="none" stroke="#444" stroke-width="0.6"/>
<circle cx="548.05" cy="187.69" r="1.25" fill="none" stroke="#444" stroke-width="0.6"/>
<line x1="548.05" x2="548.05" y1="185.11" y2="187.71" stroke="#e8262a" stroke-width="0.9"/>
<rect x="553.8" y="187.26" width="8.3" height="13.24" fill="#a9abad" stroke="#555" stroke-width="0.35"/>
<circle cx="557.95" cy="185.98" r="1.25" fill="none" stroke="#444" stroke-width="0.6"/>
<circle cx="557.95" cy="187.69" r="1.25" fill="none" stroke="#444" stroke-width="0.6"/>
<circle cx="557.95" cy="188.54" r="1.25" fill="none" stroke="#444" stroke-width="0.6"/>
<line x1="557.95" x2="557.95" y1="186.02" y2="188.5" stroke="#e8262a" stroke-width="0.9"/>
<rect x="563.7" y="188.54" width="8.3" height="11.96" fill="#2b1f17" stroke="#555" stroke-width="0.35"/>
<circle cx="567.85" cy="188.12" r="1.25" fill="none" stroke="#eee" stroke-width="0.6"/>
<circle cx="567.85" cy="188.97" r="1.25" fill="none" stroke="#eee" stroke-width="0.6"/>
<line x1="567.85" x2="567.85" y1="187.56" y2="189.53" stroke="#e8262a" stroke-width="0.9"/>
<rect x="583.45" y="179.15" width="8.3" height="21.35" fill="#f5f1e0" stroke="#555" stroke-width="0.35"/>
<circle cx="587.6" cy="175.73" r="1.25" fill="none" stroke="#444" stroke-width="0.6"/>
<circle cx="587.6" cy="178.3" r="1.25" fill="none" stroke="#444" stroke-width="0.6"/>
<circle cx="587.6" cy="180" r="1.25" fill="none" stroke="#444" stroke-width="0.6"/>
<line x1="587.6" x2="587.6" y1="177.66" y2="180.64" stroke="#e8262a" stroke-width="0.9"/>
<rect x="593.35" y="181.28" width="8.3" height="19.22" fill="#a9abad" stroke="#555" stroke-width="0.35"/>
<circle cx="597.5" cy="180" r="1.25" fill="none" stroke="#444" stroke-width="0.6"/>
<circle cx="597.5" cy="181.28" r="1.25" fill="none" stroke="#444" stroke-width="0.6"/>
<circle cx="597.5" cy="182.14" r="1.25" fill="none" stroke="#444" stroke-width="0.6"/>
<line x1="597.5" x2="597.5" y1="180.11" y2="182.46" stroke="#e8262a" stroke-width="0.9"/>
<rect x="603.25" y="180.86" width="8.3" height="19.64" fill="#2b1f17" stroke="#555" stroke-width="0.35"/>
<circle cx="607.4" cy="179.58" r="1.25" fill="none" stroke="#eee" stroke-width="0.6"/>
<circle cx="607.4" cy="180.86" r="1.25" fill="none" stroke="#eee" stroke-width="0.6"/>
<line x1="607.4" x2="607.4" y1="179.81" y2="181.9" stroke="#e8262a" stroke-width="0.9"/>
<rect x="623" y="131.75" width="8.3" height="68.75" fill="#f5f1e0" stroke="#555" stroke-width="0.35"/>
<circle cx="627.15" cy="122.36" r="1.25" fill="none" stroke="#444" stroke-width="0.6"/>
<circle cx="627.15" cy="125.35" r="1.25" fill="none" stroke="#444" stroke-width="0.6"/>
<circle cx="627.15" cy="128.76" r="1.25" fill="none" stroke="#444" stroke-width="0.6"/>
<circle cx="627.15" cy="133.03" r="1.25" fill="none" stroke="#444" stroke-width="0.6"/>
<circle cx="627.15" cy="137.3" r="1.25" fill="none" stroke="#444" stroke-width="0.6"/>
<circle cx="627.15" cy="140.72" r="1.25" fill="none" stroke="#444" stroke-width="0.6"/>
<line x1="627.15" x2="627.15" y1="128.14" y2="135.36" stroke="#e8262a" stroke-width="0.9"/>
<rect x="632.9" y="147.55" width="8.3" height="52.95" fill="#a9abad" stroke="#555" stroke-width="0.35"/>
<circle cx="637.05" cy="139.87" r="1.25" fill="none" stroke="#444" stroke-width="0.6"/>
<circle cx="637.05" cy="142.43" r="1.25" fill="none" stroke="#444" stroke-width="0.6"/>
<circle cx="637.05" cy="145.84" r="1.25" fill="none" stroke="#444" stroke-width="0.6"/>
<circle cx="637.05" cy="148.41" r="1.25" fill="none" stroke="#444" stroke-width="0.6"/>
<circle cx="637.05" cy="150.11" r="1.25" fill="none" stroke="#444" stroke-width="0.6"/>
<line x1="637.05" x2="637.05" y1="145.16" y2="149.94" stroke="#e8262a" stroke-width="0.9"/>
<rect x="642.8" y="146.7" width="8.3" height="53.8" fill="#2b1f17" stroke="#555" stroke-width="0.35"/>
<circle cx="646.95" cy="143.71" r="1.25" fill="none" stroke="#eee" stroke-width="0.6"/>
<circle cx="646.95" cy="145.84" r="1.25" fill="none" stroke="#eee" stroke-width="0.6"/>
<circle cx="646.95" cy="147.12" r="1.25" fill="none" stroke="#eee" stroke-width="0.6"/>
<line x1="646.95" x2="646.95" y1="145.33" y2="148.06" stroke="#e8262a" stroke-width="0.9"/>
<rect x="497.2" y="117" width="160.8" height="83.5" fill="none" stroke="#cfcfcf" stroke-width="0.7"/>
<line x1="497.2" x2="497.2" y1="117" y2="200.5" stroke="#bbb" stroke-width="0.7"/>
<line x1="497.2" x2="658" y1="200.5" y2="200.5" stroke="#bbb" stroke-width="0.7"/>
<line x1="494.9" x2="497.2" y1="200.5" y2="200.5" stroke="#444" stroke-width="0.6"/>
<text x="493.4" y="203" class="dt" text-anchor="end">0</text>
<line x1="494.9" x2="497.2" y1="179.15" y2="179.15" stroke="#444" stroke-width="0.6"/>
<text x="493.4" y="181.65" class="dt" text-anchor="end">5</text>
<line x1="494.9" x2="497.2" y1="157.8" y2="157.8" stroke="#444" stroke-width="0.6"/>
<text x="493.4" y="160.3" class="dt" text-anchor="end">10</text>
<line x1="494.9" x2="497.2" y1="136.45" y2="136.45" stroke="#444" stroke-width="0.6"/>
<text x="493.4" y="138.95" class="dt" text-anchor="end">15</text>
<line x1="518.4" x2="518.4" y1="200.5" y2="202.8" stroke="#444" stroke-width="0.6"/>
<text x="518.4" y="209.3" class="dt" text-anchor="middle">600K</text>
<line x1="557.95" x2="557.95" y1="200.5" y2="202.8" stroke="#444" stroke-width="0.6"/>
<text x="557.95" y="209.3" class="dt" text-anchor="middle">1M</text>
<line x1="597.5" x2="597.5" y1="200.5" y2="202.8" stroke="#444" stroke-width="0.6"/>
<text x="597.5" y="209.3" class="dt" text-anchor="middle">2M</text>
<line x1="637.05" x2="637.05" y1="200.5" y2="202.8" stroke="#444" stroke-width="0.6"/>
<text x="637.05" y="209.3" class="dt" text-anchor="middle">4M</text>
<text x="577.5" y="219.8" class="dl" text-anchor="middle">Dataset size (no. of cells)</text>
<text transform="translate(479.3 158.75) rotate(-90)" class="dl" text-anchor="middle">Time (in minutes)</text>
<rect x="500.8" y="120.1" width="46.5" height="29.8" rx="1.5" fill="#fff" fill-opacity="0.85" stroke="#e2e2e2" stroke-width="0.6"/>
<rect x="503.2" y="123" width="13.2" height="4.8" fill="#f5f1e0" stroke="#555" stroke-width="0.35"/>
<text x="521" y="127.6" class="dt">0.1%</text>
<rect x="503.2" y="132.3" width="13.2" height="4.8" fill="#a9abad" stroke="#555" stroke-width="0.35"/>
<text x="521" y="136.9" class="dt">1.0%</text>
<rect x="503.2" y="141.6" width="13.2" height="4.8" fill="#2b1f17" stroke="#555" stroke-width="0.35"/>
<text x="521" y="146.2" class="dt">10.0%</text>
<text x="-0.9" y="243.9" class="lab">d</text>
<defs>
<g id="lay00">
<path d="M28.1 8.8C29.5 7.9 42.3 8.6 44.1 9.6C45.9 10.6 42.8 16 43.3 17.7C43.8 19.4 48.6 23.3 48.2 24.1C47.8 24.9 42 25.6 40.1 24.9C38.2 24.2 33.5 19.6 32.1 17.7C30.7 15.8 26.7 9.7 28.1 8.8Z" fill="#d62728" stroke="#d62728" stroke-width="1.6" stroke-linejoin="round"/>
<path d="M44.1 9.6C45.4 8.7 52.5 9.2 54.6 9.6C56.7 10 60.9 11.5 61.8 12.8C62.7 14.1 63.4 19.5 62.6 20.9C61.8 22.3 56.3 24.5 54.6 24.9C52.9 25.3 49.5 24.9 48.2 24.1C46.9 23.3 43.8 19.4 43.3 17.7C42.8 16 42.8 10.5 44.1 9.6Z" fill="#aec7e8" stroke="#aec7e8" stroke-width="1.6" stroke-linejoin="round"/>
<path d="M54 23.5C54.5 23.1 57.6 23.1 58 23.5C58.4 23.9 58 26.6 57.5 27C57 27.4 54.4 27.4 54 27C53.6 26.6 53.5 23.9 54 23.5Z" fill="#c49c94" stroke="#c49c94" stroke-width="1.6" stroke-linejoin="round"/>
<path d="M59 10C59.6 9.7 64 9.2 64.5 9.5C65 9.8 64.1 12.2 63.5 12.5C62.9 12.8 59.5 12.8 59 12.5C58.5 12.2 58.4 10.3 59 10Z" fill="#7f7f7f" stroke="#7f7f7f" stroke-width="1.6" stroke-linejoin="round"/>
<path d="M55 5C55.2 4.4 57.4 3.5 58 4C58.6 4.5 60.2 8.4 60 9C59.8 9.6 56.6 9.5 56 9C55.4 8.5 54.8 5.6 55 5Z" fill="#c7c7c7" stroke="#c7c7c7" stroke-width="1.6" stroke-linejoin="round" opacity="0.6"/>
<path d="M86.7 22.5C87.9 22.1 90.3 25.8 90.7 27.3C91.1 28.8 90.7 34 89.9 35.3C89.1 36.6 85.4 38.1 83.5 38.5C81.6 38.9 74.2 39.4 73.8 38.5C73.4 37.6 78.8 32.4 80.3 30.5C81.8 28.6 85.5 22.9 86.7 22.5Z" fill="#8c564b" stroke="#8c564b" stroke-width="1.6" stroke-linejoin="round"/>
<path d="M6.5 34.8C7.5 34.2 12.8 32.6 14.7 32.4C16.6 32.2 21.1 32.7 22.9 33C24.7 33.3 29.4 34.1 29.9 34.8C30.4 35.5 28.1 37.9 27.5 38.8C26.9 39.7 25.5 41.7 24.6 42.4C23.7 43.1 20.6 44.1 19.4 44.7C18.2 45.3 15.7 47.5 14.7 47.6C13.7 47.7 12 46.5 11.2 45.9C10.4 45.3 8.3 43.4 7.7 42.4C7.1 41.4 6 38.6 5.9 37.7C5.8 36.8 5.5 35.4 6.5 34.8Z" fill="#2ca02c" stroke="#2ca02c" stroke-width="1.6" stroke-linejoin="round"/>
<path d="M28.1 34.2C29 33.7 33.1 34.4 34.5 34.8C35.9 35.2 39.2 37 40.4 37.7C41.6 38.4 45 39.8 45.1 40.6C45.2 41.4 42.5 44.4 41.5 44.7C40.5 45 38.1 43.9 36.9 43.5C35.7 43.1 32.2 41.7 31 41.2C29.8 40.7 26.7 39.6 26.4 38.8C26.1 38 27.2 34.7 28.1 34.2Z" fill="#ff9896" stroke="#ff9896" stroke-width="1.6" stroke-linejoin="round"/>
<path d="M49.7 37.7C50.1 37.2 53.4 36.2 54.4 36.5C55.4 36.8 57.5 39.2 57.9 40C58.3 40.8 58.3 43.2 57.9 43.5C57.5 43.8 55.2 42.7 54.4 42.4C53.6 42.1 51.4 41.1 50.9 40.6C50.4 40.1 49.3 38.2 49.7 37.7Z" fill="#bcbd22" stroke="#bcbd22" stroke-width="1.6" stroke-linejoin="round" opacity="0.6"/>
<path d="M10 65.1C10.6 64.8 14.7 64.4 15.9 64.5C17.1 64.6 20.1 65.9 20.5 66.3C20.9 66.7 20.2 67.9 19.4 68C18.6 68.1 14.5 67.6 13.5 67.5C12.5 67.4 11 67.2 10.6 66.9C10.2 66.6 9.4 65.4 10 65.1Z" fill="#bcbd22" stroke="#bcbd22" stroke-width="1.6" stroke-linejoin="round" opacity="0.8"/>
<path d="M18.2 46.4C18.3 45.5 21.9 45.5 22.9 45.9C23.9 46.2 26.2 48.5 26.4 49.4C26.6 50.3 25.1 53.5 24.6 54C24.1 54.5 22.4 54.9 21.7 54C21 53.1 18.1 47.3 18.2 46.4Z" fill="#ffbb78" stroke="#ffbb78" stroke-width="1.6" stroke-linejoin="round"/>
<path d="M25.8 49.4C26.1 48.5 26.8 46.5 27.5 45.9C28.2 45.3 31 44.6 32.2 44.5C33.4 44.4 37 44.9 38 45.3C39 45.7 40.5 47.8 41 47.6C41.5 47.4 41.5 44.3 42.1 43.5C42.7 42.7 44.8 40.9 46.2 40.6C47.6 40.3 52.9 40.7 54.4 41.2C55.9 41.7 58.2 43.7 59.1 44.7C60 45.7 61.7 48.9 62 49.9C62.3 50.9 62.3 52.4 61.4 52.9C60.5 53.4 56.2 54.3 54.4 54.6C52.6 54.9 48 55 46.2 55.2C44.4 55.4 40.8 56.3 39.2 56.6C37.6 56.9 33.6 57.5 32.2 57.5C30.8 57.5 28.3 57.1 27.5 56.6C26.7 56.1 25.2 54.2 25 53.4C24.8 52.6 25.5 50.3 25.8 49.4Z" fill="#1f77b4" stroke="#1f77b4" stroke-width="1.6" stroke-linejoin="round"/>
<path d="M21.1 56.4C21.9 55.7 25.9 55.1 27.5 55.2C29.1 55.3 33.1 56.2 34.5 56.9C35.9 57.6 38.8 60 39.2 61C39.6 62 38.7 64.9 38 65.7C37.3 66.5 34.6 67.7 33.4 68C32.2 68.3 28.7 68.3 27.5 68C26.3 67.7 23.7 66.5 22.9 65.7C22.1 64.9 20.7 62.1 20.5 61C20.3 59.9 20.3 57.1 21.1 56.4Z" fill="#ffbb78" stroke="#ffbb78" stroke-width="1.6" stroke-linejoin="round"/>
<path d="M40.4 56.9C41.5 56.2 46.8 55.3 48.6 55.2C50.4 55.1 54.1 55.9 55.6 56.4C57.1 56.9 60.6 58.5 61.4 59.3C62.2 60.1 63 62.8 62.6 63.4C62.2 64 59.1 64.4 57.9 64.5C56.7 64.6 53.5 64.4 52.1 64.5C50.7 64.6 47.4 65.6 46.2 65.7C45 65.8 42.3 66.2 41.5 65.7C40.7 65.2 39.3 62 39.2 61C39.1 60 39.3 57.6 40.4 56.9Z" fill="#2ca02c" stroke="#2ca02c" stroke-width="1.6" stroke-linejoin="round"/>
<path d="M56.7 54C57 53.5 61.2 53.7 62.6 54C64 54.3 67.3 56.1 68.4 56.9C69.5 57.7 71.6 59.9 71.9 60.5C72.2 61.1 71.5 62.1 70.7 62.2C69.9 62.3 66.1 61.4 64.9 61C63.7 60.6 61.2 59.5 60.2 58.7C59.2 57.9 56.4 54.5 56.7 54Z" fill="#9467bd" stroke="#9467bd" stroke-width="1.6" stroke-linejoin="round"/>
<path d="M46.2 66.3C47 65.8 50.9 65.1 52.1 65.1C53.3 65.1 56 65.8 56.7 66.3C57.4 66.8 58.3 68.7 57.9 69.2C57.5 69.7 54.4 70.8 53.2 71C52 71.2 48.3 71.2 47.4 71C46.5 70.8 45.2 69.7 45.1 69.2C45 68.7 45.4 66.8 46.2 66.3Z" fill="#9467bd" stroke="#9467bd" stroke-width="1.6" stroke-linejoin="round"/>
<path d="M7.7 69.8C8.4 69.1 12 69.9 13.5 69.8C15 69.7 19.2 69.2 20.5 69.2C21.8 69.2 24.1 69.3 24.6 69.8C25.1 70.3 25.4 73 25.2 73.9C25 74.8 23.9 76.9 22.9 77.4C21.9 77.9 18.4 78.5 17 78.6C15.6 78.7 12.3 78.3 11.2 78C10.1 77.7 8.1 77.2 7.7 76.2C7.3 75.2 7 70.5 7.7 69.8Z" fill="#98df8a" stroke="#98df8a" stroke-width="1.6" stroke-linejoin="round"/>
<path d="M7.7 77.4C7.9 76.8 10.1 78.4 11.2 78.6C12.3 78.8 15.6 79.2 17 79.1C18.4 79 21.9 78 22.9 77.4C23.9 76.8 24.5 73.9 25.2 73.9C25.9 73.9 27.9 76.6 28.7 77.4C29.5 78.2 31.7 80.2 32.2 80.9C32.7 81.6 33.9 83.1 33.4 83.6C32.9 84.1 29 84.8 27.5 85C26 85.2 22.4 84.8 20.9 85.1C19.4 85.4 15.7 87.7 14.4 87.5C13.1 87.3 10.4 84.7 9.6 83.5C8.8 82.3 7.5 78 7.7 77.4Z" fill="#ff7f0e" stroke="#ff7f0e" stroke-width="1.6" stroke-linejoin="round"/>
<path d="M20.9 87.5C20.8 86.6 22.4 86.7 23 87.5C23.6 88.3 25.9 93.8 26 94.7C26.1 95.6 24.1 96.3 23.5 95.5C22.9 94.7 21 88.4 20.9 87.5Z" fill="#e377c2" stroke="#e377c2" stroke-width="1.6" stroke-linejoin="round" opacity="0.7"/>
<path d="M46.6 77C48.4 76.4 58.9 79.1 61 80.3C63.1 81.5 65 86.1 65 87.5C65 88.9 62.4 92 61 92.3C59.6 92.6 54.8 90.7 53 89.9C51.2 89.1 46.5 86.6 45.8 85.1C45.1 83.6 44.8 77.6 46.6 77Z" fill="#c5b0d5" stroke="#c5b0d5" stroke-width="1.6" stroke-linejoin="round" opacity="0.7"/>
<path d="M40.1 87.5C41.2 87.3 45.8 89.3 48.2 89.9C50.6 90.5 59.7 91.5 61 92.3C62.3 93.1 60.9 96.3 59.4 97.1C57.9 97.9 50.4 99.6 48.2 99.5C46 99.4 42 97.2 40.9 96.3C39.8 95.4 38.6 92.5 38.5 91.5C38.4 90.5 39 87.7 40.1 87.5Z" fill="#e377c2" stroke="#e377c2" stroke-width="1.6" stroke-linejoin="round" opacity="0.75"/>
<path d="M81.1 57C81.9 56.4 87.5 56.3 89.1 57C90.7 57.7 94.9 62.4 94.7 63.4C94.5 64.4 89 66 87.5 65.8C86 65.6 82.6 62.8 81.9 61.8C81.2 60.8 80.3 57.6 81.1 57Z" fill="#c49c94" stroke="#c49c94" stroke-width="1.6" stroke-linejoin="round"/>
<path d="M86 53C87.3 53 99 54.6 101 56C103 57.4 103.5 64.4 103 65C102.5 65.6 98.5 62 97 61C95.5 60 91.3 56.9 90 56C88.7 55.1 84.7 53 86 53Z" fill="#f7b6d2" stroke="#f7b6d2" stroke-width="1.6" stroke-linejoin="round" opacity="0.45"/>
<path d="M72.2 65.8C74.3 65.8 91 66.8 93.1 67.4C95.2 68 91 70.2 89.9 70.6C88.8 71 85.2 71 83.5 70.6C81.8 70.2 76.7 68 75.4 67.4C74.1 66.8 70.1 65.8 72.2 65.8Z" fill="#17becf" stroke="#17becf" stroke-width="1.6" stroke-linejoin="round" opacity="0.55"/>
<path d="M92.3 49.8C92.8 49.4 96.7 47.4 97.1 47.4C97.5 47.4 96.5 49.6 96 50C95.5 50.4 93.4 51 93 51C92.6 51 91.8 50.2 92.3 49.8Z" fill="#7f7f7f" stroke="#7f7f7f" stroke-width="1.6" stroke-linejoin="round"/>
<path d="M63 46.8 L87 46.3" stroke="#c7c7c7" stroke-width="0.8" fill="none"/>
</g>
<g id="lay01">
<path d="M28.1 8.8C29.5 7.9 42.3 8.6 44.1 9.6C45.9 10.6 42.8 16 43.3 17.7C43.8 19.4 48.6 23.3 48.2 24.1C47.8 24.9 42 25.6 40.1 24.9C38.2 24.2 33.5 19.6 32.1 17.7C30.7 15.8 26.7 9.7 28.1 8.8Z" fill="#d62728" stroke="#d62728" stroke-width="1.6" stroke-linejoin="round"/>
<path d="M44.1 9.6C45.4 8.7 52.5 9.2 54.6 9.6C56.7 10 60.9 11.5 61.8 12.8C62.7 14.1 63.4 19.5 62.6 20.9C61.8 22.3 56.3 24.5 54.6 24.9C52.9 25.3 49.5 24.9 48.2 24.1C46.9 23.3 43.8 19.4 43.3 17.7C42.8 16 42.8 10.5 44.1 9.6Z" fill="#aec7e8" stroke="#aec7e8" stroke-width="1.6" stroke-linejoin="round"/>
<path d="M54 23.5C54.5 23.1 57.6 23.1 58 23.5C58.4 23.9 58 26.6 57.5 27C57 27.4 54.4 27.4 54 27C53.6 26.6 53.5 23.9 54 23.5Z" fill="#c49c94" stroke="#c49c94" stroke-width="1.6" stroke-linejoin="round"/>
<path d="M59 10C59.6 9.7 64 9.2 64.5 9.5C65 9.8 64.1 12.2 63.5 12.5C62.9 12.8 59.5 12.8 59 12.5C58.5 12.2 58.4 10.3 59 10Z" fill="#7f7f7f" stroke="#7f7f7f" stroke-width="1.6" stroke-linejoin="round"/>
<path d="M55 5C55.2 4.4 57.4 3.5 58 4C58.6 4.5 60.2 8.4 60 9C59.8 9.6 56.6 9.5 56 9C55.4 8.5 54.8 5.6 55 5Z" fill="#c7c7c7" stroke="#c7c7c7" stroke-width="1.6" stroke-linejoin="round" opacity="0.6"/>
<path d="M86.7 22.5C87.9 22.1 90.3 25.8 90.7 27.3C91.1 28.8 90.7 34 89.9 35.3C89.1 36.6 85.4 38.1 83.5 38.5C81.6 38.9 74.2 39.4 73.8 38.5C73.4 37.6 78.8 32.4 80.3 30.5C81.8 28.6 85.5 22.9 86.7 22.5Z" fill="#8c564b" stroke="#8c564b" stroke-width="1.6" stroke-linejoin="round"/>
<path d="M6.5 34.8C7.5 34.2 12.8 32.6 14.7 32.4C16.6 32.2 21.1 32.7 22.9 33C24.7 33.3 29.4 34.1 29.9 34.8C30.4 35.5 28.1 37.9 27.5 38.8C26.9 39.7 25.5 41.7 24.6 42.4C23.7 43.1 20.6 44.1 19.4 44.7C18.2 45.3 15.7 47.5 14.7 47.6C13.7 47.7 12 46.5 11.2 45.9C10.4 45.3 8.3 43.4 7.7 42.4C7.1 41.4 6 38.6 5.9 37.7C5.8 36.8 5.5 35.4 6.5 34.8Z" fill="#2ca02c" stroke="#2ca02c" stroke-width="1.6" stroke-linejoin="round"/>
<path d="M28.1 34.2C29 33.7 33.1 34.4 34.5 34.8C35.9 35.2 39.2 37 40.4 37.7C41.6 38.4 45 39.8 45.1 40.6C45.2 41.4 42.5 44.4 41.5 44.7C40.5 45 38.1 43.9 36.9 43.5C35.7 43.1 32.2 41.7 31 41.2C29.8 40.7 26.7 39.6 26.4 38.8C26.1 38 27.2 34.7 28.1 34.2Z" fill="#ff9896" stroke="#ff9896" stroke-width="1.6" stroke-linejoin="round"/>
<path d="M49.7 37.7C50.1 37.2 53.4 36.2 54.4 36.5C55.4 36.8 57.5 39.2 57.9 40C58.3 40.8 58.3 43.2 57.9 43.5C57.5 43.8 55.2 42.7 54.4 42.4C53.6 42.1 51.4 41.1 50.9 40.6C50.4 40.1 49.3 38.2 49.7 37.7Z" fill="#bcbd22" stroke="#bcbd22" stroke-width="1.6" stroke-linejoin="round" opacity="0.6"/>
<path d="M10 65.1C10.6 64.8 14.7 64.4 15.9 64.5C17.1 64.6 20.1 65.9 20.5 66.3C20.9 66.7 20.2 67.9 19.4 68C18.6 68.1 14.5 67.6 13.5 67.5C12.5 67.4 11 67.2 10.6 66.9C10.2 66.6 9.4 65.4 10 65.1Z" fill="#bcbd22" stroke="#bcbd22" stroke-width="1.6" stroke-linejoin="round" opacity="0.8"/>
<path d="M18.2 46.4C18.3 45.5 21.9 45.5 22.9 45.9C23.9 46.2 26.2 48.5 26.4 49.4C26.6 50.3 25.1 53.5 24.6 54C24.1 54.5 22.4 54.9 21.7 54C21 53.1 18.1 47.3 18.2 46.4Z" fill="#ffbb78" stroke="#ffbb78" stroke-width="1.6" stroke-linejoin="round"/>
<path d="M25.8 49.4C26.1 48.5 26.8 46.5 27.5 45.9C28.2 45.3 31 44.6 32.2 44.5C33.4 44.4 37 44.9 38 45.3C39 45.7 40.5 47.8 41 47.6C41.5 47.4 41.5 44.3 42.1 43.5C42.7 42.7 44.8 40.9 46.2 40.6C47.6 40.3 52.9 40.7 54.4 41.2C55.9 41.7 58.2 43.7 59.1 44.7C60 45.7 61.7 48.9 62 49.9C62.3 50.9 62.3 52.4 61.4 52.9C60.5 53.4 56.2 54.3 54.4 54.6C52.6 54.9 48 55 46.2 55.2C44.4 55.4 40.8 56.3 39.2 56.6C37.6 56.9 33.6 57.5 32.2 57.5C30.8 57.5 28.3 57.1 27.5 56.6C26.7 56.1 25.2 54.2 25 53.4C24.8 52.6 25.5 50.3 25.8 49.4Z" fill="#1f77b4" stroke="#1f77b4" stroke-width="1.6" stroke-linejoin="round"/>
<path d="M21.1 56.4C21.9 55.7 25.9 55.1 27.5 55.2C29.1 55.3 33.1 56.2 34.5 56.9C35.9 57.6 38.8 60 39.2 61C39.6 62 38.7 64.9 38 65.7C37.3 66.5 34.6 67.7 33.4 68C32.2 68.3 28.7 68.3 27.5 68C26.3 67.7 23.7 66.5 22.9 65.7C22.1 64.9 20.7 62.1 20.5 61C20.3 59.9 20.3 57.1 21.1 56.4Z" fill="#ffbb78" stroke="#ffbb78" stroke-width="1.6" stroke-linejoin="round"/>
<path d="M40.4 56.9C41.5 56.2 46.8 55.3 48.6 55.2C50.4 55.1 54.1 55.9 55.6 56.4C57.1 56.9 60.6 58.5 61.4 59.3C62.2 60.1 63 62.8 62.6 63.4C62.2 64 59.1 64.4 57.9 64.5C56.7 64.6 53.5 64.4 52.1 64.5C50.7 64.6 47.4 65.6 46.2 65.7C45 65.8 42.3 66.2 41.5 65.7C40.7 65.2 39.3 62 39.2 61C39.1 60 39.3 57.6 40.4 56.9Z" fill="#2ca02c" stroke="#2ca02c" stroke-width="1.6" stroke-linejoin="round"/>
<path d="M56.7 54C57 53.5 61.2 53.7 62.6 54C64 54.3 67.3 56.1 68.4 56.9C69.5 57.7 71.6 59.9 71.9 60.5C72.2 61.1 71.5 62.1 70.7 62.2C69.9 62.3 66.1 61.4 64.9 61C63.7 60.6 61.2 59.5 60.2 58.7C59.2 57.9 56.4 54.5 56.7 54Z" fill="#9467bd" stroke="#9467bd" stroke-width="1.6" stroke-linejoin="round"/>
<path d="M46.2 66.3C47 65.8 50.9 65.1 52.1 65.1C53.3 65.1 56 65.8 56.7 66.3C57.4 66.8 58.3 68.7 57.9 69.2C57.5 69.7 54.4 70.8 53.2 71C52 71.2 48.3 71.2 47.4 71C46.5 70.8 45.2 69.7 45.1 69.2C45 68.7 45.4 66.8 46.2 66.3Z" fill="#9467bd" stroke="#9467bd" stroke-width="1.6" stroke-linejoin="round"/>
<path d="M7.7 69.8C8.4 69.1 12 69.9 13.5 69.8C15 69.7 19.2 69.2 20.5 69.2C21.8 69.2 24.1 69.3 24.6 69.8C25.1 70.3 25.4 73 25.2 73.9C25 74.8 23.9 76.9 22.9 77.4C21.9 77.9 18.4 78.5 17 78.6C15.6 78.7 12.3 78.3 11.2 78C10.1 77.7 8.1 77.2 7.7 76.2C7.3 75.2 7 70.5 7.7 69.8Z" fill="#98df8a" stroke="#98df8a" stroke-width="1.6" stroke-linejoin="round"/>
<path d="M7.7 77.4C7.9 76.8 10.1 78.4 11.2 78.6C12.3 78.8 15.6 79.2 17 79.1C18.4 79 21.9 78 22.9 77.4C23.9 76.8 24.5 73.9 25.2 73.9C25.9 73.9 27.9 76.6 28.7 77.4C29.5 78.2 31.7 80.2 32.2 80.9C32.7 81.6 33.9 83.1 33.4 83.6C32.9 84.1 29 84.8 27.5 85C26 85.2 22.4 84.8 20.9 85.1C19.4 85.4 15.7 87.7 14.4 87.5C13.1 87.3 10.4 84.7 9.6 83.5C8.8 82.3 7.5 78 7.7 77.4Z" fill="#ff7f0e" stroke="#ff7f0e" stroke-width="1.6" stroke-linejoin="round"/>
<path d="M20.9 87.5C20.8 86.6 22.4 86.7 23 87.5C23.6 88.3 25.9 93.8 26 94.7C26.1 95.6 24.1 96.3 23.5 95.5C22.9 94.7 21 88.4 20.9 87.5Z" fill="#e377c2" stroke="#e377c2" stroke-width="1.6" stroke-linejoin="round" opacity="0.7"/>
<path d="M46.6 77C48.4 76.4 58.9 79.1 61 80.3C63.1 81.5 65 86.1 65 87.5C65 88.9 62.4 92 61 92.3C59.6 92.6 54.8 90.7 53 89.9C51.2 89.1 46.5 86.6 45.8 85.1C45.1 83.6 44.8 77.6 46.6 77Z" fill="#c5b0d5" stroke="#c5b0d5" stroke-width="1.6" stroke-linejoin="round" opacity="0.7"/>
<path d="M40.1 87.5C41.2 87.3 45.8 89.3 48.2 89.9C50.6 90.5 59.7 91.5 61 92.3C62.3 93.1 60.9 96.3 59.4 97.1C57.9 97.9 50.4 99.6 48.2 99.5C46 99.4 42 97.2 40.9 96.3C39.8 95.4 38.6 92.5 38.5 91.5C38.4 90.5 39 87.7 40.1 87.5Z" fill="#e377c2" stroke="#e377c2" stroke-width="1.6" stroke-linejoin="round" opacity="0.75"/>
<path d="M81.1 57C81.9 56.4 87.5 56.3 89.1 57C90.7 57.7 94.9 62.4 94.7 63.4C94.5 64.4 89 66 87.5 65.8C86 65.6 82.6 62.8 81.9 61.8C81.2 60.8 80.3 57.6 81.1 57Z" fill="#c49c94" stroke="#c49c94" stroke-width="1.6" stroke-linejoin="round"/>
<path d="M86 53C87.3 53 99 54.6 101 56C103 57.4 103.5 64.4 103 65C102.5 65.6 98.5 62 97 61C95.5 60 91.3 56.9 90 56C88.7 55.1 84.7 53 86 53Z" fill="#f7b6d2" stroke="#f7b6d2" stroke-width="1.6" stroke-linejoin="round" opacity="0.45"/>
<path d="M72.2 65.8C74.3 65.8 91 66.8 93.1 67.4C95.2 68 91 70.2 89.9 70.6C88.8 71 85.2 71 83.5 70.6C81.8 70.2 76.7 68 75.4 67.4C74.1 66.8 70.1 65.8 72.2 65.8Z" fill="#17becf" stroke="#17becf" stroke-width="1.6" stroke-linejoin="round" opacity="0.55"/>
<path d="M92.3 49.8C92.8 49.4 96.7 47.4 97.1 47.4C97.5 47.4 96.5 49.6 96 50C95.5 50.4 93.4 51 93 51C92.6 51 91.8 50.2 92.3 49.8Z" fill="#7f7f7f" stroke="#7f7f7f" stroke-width="1.6" stroke-linejoin="round"/>
<path d="M63 46.8 L87 46.3" stroke="#c7c7c7" stroke-width="0.8" fill="none"/>
</g>
<g id="lay02">
<path d="M28.1 8.8C29.5 7.9 42.3 8.6 44.1 9.6C45.9 10.6 42.8 16 43.3 17.7C43.8 19.4 48.6 23.3 48.2 24.1C47.8 24.9 42 25.6 40.1 24.9C38.2 24.2 33.5 19.6 32.1 17.7C30.7 15.8 26.7 9.7 28.1 8.8Z" fill="#d62728" stroke="#d62728" stroke-width="1.6" stroke-linejoin="round"/>
<path d="M44.1 9.6C45.4 8.7 52.5 9.2 54.6 9.6C56.7 10 60.9 11.5 61.8 12.8C62.7 14.1 63.4 19.5 62.6 20.9C61.8 22.3 56.3 24.5 54.6 24.9C52.9 25.3 49.5 24.9 48.2 24.1C46.9 23.3 43.8 19.4 43.3 17.7C42.8 16 42.8 10.5 44.1 9.6Z" fill="#aec7e8" stroke="#aec7e8" stroke-width="1.6" stroke-linejoin="round"/>
<path d="M54 23.5C54.5 23.1 57.6 23.1 58 23.5C58.4 23.9 58 26.6 57.5 27C57 27.4 54.4 27.4 54 27C53.6 26.6 53.5 23.9 54 23.5Z" fill="#c49c94" stroke="#c49c94" stroke-width="1.6" stroke-linejoin="round"/>
<path d="M59 10C59.6 9.7 64 9.2 64.5 9.5C65 9.8 64.1 12.2 63.5 12.5C62.9 12.8 59.5 12.8 59 12.5C58.5 12.2 58.4 10.3 59 10Z" fill="#7f7f7f" stroke="#7f7f7f" stroke-width="1.6" stroke-linejoin="round"/>
<path d="M55 5C55.2 4.4 57.4 3.5 58 4C58.6 4.5 60.2 8.4 60 9C59.8 9.6 56.6 9.5 56 9C55.4 8.5 54.8 5.6 55 5Z" fill="#c7c7c7" stroke="#c7c7c7" stroke-width="1.6" stroke-linejoin="round" opacity="0.6"/>
<path d="M86.7 22.5C87.9 22.1 90.3 25.8 90.7 27.3C91.1 28.8 90.7 34 89.9 35.3C89.1 36.6 85.4 38.1 83.5 38.5C81.6 38.9 74.2 39.4 73.8 38.5C73.4 37.6 78.8 32.4 80.3 30.5C81.8 28.6 85.5 22.9 86.7 22.5Z" fill="#8c564b" stroke="#8c564b" stroke-width="1.6" stroke-linejoin="round"/>
<path d="M6.5 34.8C7.5 34.2 12.8 32.6 14.7 32.4C16.6 32.2 21.1 32.7 22.9 33C24.7 33.3 29.4 34.1 29.9 34.8C30.4 35.5 28.1 37.9 27.5 38.8C26.9 39.7 25.5 41.7 24.6 42.4C23.7 43.1 20.6 44.1 19.4 44.7C18.2 45.3 15.7 47.5 14.7 47.6C13.7 47.7 12 46.5 11.2 45.9C10.4 45.3 8.3 43.4 7.7 42.4C7.1 41.4 6 38.6 5.9 37.7C5.8 36.8 5.5 35.4 6.5 34.8Z" fill="#2ca02c" stroke="#2ca02c" stroke-width="1.6" stroke-linejoin="round"/>
<path d="M28.1 34.2C29 33.7 33.1 34.4 34.5 34.8C35.9 35.2 39.2 37 40.4 37.7C41.6 38.4 45 39.8 45.1 40.6C45.2 41.4 42.5 44.4 41.5 44.7C40.5 45 38.1 43.9 36.9 43.5C35.7 43.1 32.2 41.7 31 41.2C29.8 40.7 26.7 39.6 26.4 38.8C26.1 38 27.2 34.7 28.1 34.2Z" fill="#ff9896" stroke="#ff9896" stroke-width="1.6" stroke-linejoin="round"/>
<path d="M49.7 37.7C50.1 37.2 53.4 36.2 54.4 36.5C55.4 36.8 57.5 39.2 57.9 40C58.3 40.8 58.3 43.2 57.9 43.5C57.5 43.8 55.2 42.7 54.4 42.4C53.6 42.1 51.4 41.1 50.9 40.6C50.4 40.1 49.3 38.2 49.7 37.7Z" fill="#bcbd22" stroke="#bcbd22" stroke-width="1.6" stroke-linejoin="round" opacity="0.6"/>
<path d="M10 65.1C10.6 64.8 14.7 64.4 15.9 64.5C17.1 64.6 20.1 65.9 20.5 66.3C20.9 66.7 20.2 67.9 19.4 68C18.6 68.1 14.5 67.6 13.5 67.5C12.5 67.4 11 67.2 10.6 66.9C10.2 66.6 9.4 65.4 10 65.1Z" fill="#bcbd22" stroke="#bcbd22" stroke-width="1.6" stroke-linejoin="round" opacity="0.8"/>
<path d="M18.2 46.4C18.3 45.5 21.9 45.5 22.9 45.9C23.9 46.2 26.2 48.5 26.4 49.4C26.6 50.3 25.1 53.5 24.6 54C24.1 54.5 22.4 54.9 21.7 54C21 53.1 18.1 47.3 18.2 46.4Z" fill="#ffbb78" stroke="#ffbb78" stroke-width="1.6" stroke-linejoin="round"/>
<path d="M25.8 49.4C26.1 48.5 26.8 46.5 27.5 45.9C28.2 45.3 31 44.6 32.2 44.5C33.4 44.4 37 44.9 38 45.3C39 45.7 40.5 47.8 41 47.6C41.5 47.4 41.5 44.3 42.1 43.5C42.7 42.7 44.8 40.9 46.2 40.6C47.6 40.3 52.9 40.7 54.4 41.2C55.9 41.7 58.2 43.7 59.1 44.7C60 45.7 61.7 48.9 62 49.9C62.3 50.9 62.3 52.4 61.4 52.9C60.5 53.4 56.2 54.3 54.4 54.6C52.6 54.9 48 55 46.2 55.2C44.4 55.4 40.8 56.3 39.2 56.6C37.6 56.9 33.6 57.5 32.2 57.5C30.8 57.5 28.3 57.1 27.5 56.6C26.7 56.1 25.2 54.2 25 53.4C24.8 52.6 25.5 50.3 25.8 49.4Z" fill="#1f77b4" stroke="#1f77b4" stroke-width="1.6" stroke-linejoin="round"/>
<path d="M21.1 56.4C21.9 55.7 25.9 55.1 27.5 55.2C29.1 55.3 33.1 56.2 34.5 56.9C35.9 57.6 38.8 60 39.2 61C39.6 62 38.7 64.9 38 65.7C37.3 66.5 34.6 67.7 33.4 68C32.2 68.3 28.7 68.3 27.5 68C26.3 67.7 23.7 66.5 22.9 65.7C22.1 64.9 20.7 62.1 20.5 61C20.3 59.9 20.3 57.1 21.1 56.4Z" fill="#ffbb78" stroke="#ffbb78" stroke-width="1.6" stroke-linejoin="round"/>
<path d="M40.4 56.9C41.5 56.2 46.8 55.3 48.6 55.2C50.4 55.1 54.1 55.9 55.6 56.4C57.1 56.9 60.6 58.5 61.4 59.3C62.2 60.1 63 62.8 62.6 63.4C62.2 64 59.1 64.4 57.9 64.5C56.7 64.6 53.5 64.4 52.1 64.5C50.7 64.6 47.4 65.6 46.2 65.7C45 65.8 42.3 66.2 41.5 65.7C40.7 65.2 39.3 62 39.2 61C39.1 60 39.3 57.6 40.4 56.9Z" fill="#98df8a" stroke="#98df8a" stroke-width="1.6" stroke-linejoin="round"/>
<path d="M56.7 54C57 53.5 61.2 53.7 62.6 54C64 54.3 67.3 56.1 68.4 56.9C69.5 57.7 71.6 59.9 71.9 60.5C72.2 61.1 71.5 62.1 70.7 62.2C69.9 62.3 66.1 61.4 64.9 61C63.7 60.6 61.2 59.5 60.2 58.7C59.2 57.9 56.4 54.5 56.7 54Z" fill="#c5b0d5" stroke="#c5b0d5" stroke-width="1.6" stroke-linejoin="round"/>
<path d="M46.2 66.3C47 65.8 50.9 65.1 52.1 65.1C53.3 65.1 56 65.8 56.7 66.3C57.4 66.8 58.3 68.7 57.9 69.2C57.5 69.7 54.4 70.8 53.2 71C52 71.2 48.3 71.2 47.4 71C46.5 70.8 45.2 69.7 45.1 69.2C45 68.7 45.4 66.8 46.2 66.3Z" fill="#9467bd" stroke="#9467bd" stroke-width="1.6" stroke-linejoin="round"/>
<path d="M7.7 69.8C8.4 69.1 12 69.9 13.5 69.8C15 69.7 19.2 69.2 20.5 69.2C21.8 69.2 24.1 69.3 24.6 69.8C25.1 70.3 25.4 73 25.2 73.9C25 74.8 23.9 76.9 22.9 77.4C21.9 77.9 18.4 78.5 17 78.6C15.6 78.7 12.3 78.3 11.2 78C10.1 77.7 8.1 77.2 7.7 76.2C7.3 75.2 7 70.5 7.7 69.8Z" fill="#98df8a" stroke="#98df8a" stroke-width="1.6" stroke-linejoin="round"/>
<path d="M7.7 77.4C7.9 76.8 10.1 78.4 11.2 78.6C12.3 78.8 15.6 79.2 17 79.1C18.4 79 21.9 78 22.9 77.4C23.9 76.8 24.5 73.9 25.2 73.9C25.9 73.9 27.9 76.6 28.7 77.4C29.5 78.2 31.7 80.2 32.2 80.9C32.7 81.6 33.9 83.1 33.4 83.6C32.9 84.1 29 84.8 27.5 85C26 85.2 22.4 84.8 20.9 85.1C19.4 85.4 15.7 87.7 14.4 87.5C13.1 87.3 10.4 84.7 9.6 83.5C8.8 82.3 7.5 78 7.7 77.4Z" fill="#ff7f0e" stroke="#ff7f0e" stroke-width="1.6" stroke-linejoin="round"/>
<path d="M20.9 87.5C20.8 86.6 22.4 86.7 23 87.5C23.6 88.3 25.9 93.8 26 94.7C26.1 95.6 24.1 96.3 23.5 95.5C22.9 94.7 21 88.4 20.9 87.5Z" fill="#e377c2" stroke="#e377c2" stroke-width="1.6" stroke-linejoin="round" opacity="0.7"/>
<path d="M46.6 77C48.4 76.4 58.9 79.1 61 80.3C63.1 81.5 65 86.1 65 87.5C65 88.9 62.4 92 61 92.3C59.6 92.6 54.8 90.7 53 89.9C51.2 89.1 46.5 86.6 45.8 85.1C45.1 83.6 44.8 77.6 46.6 77Z" fill="#8c564b" stroke="#8c564b" stroke-width="1.6" stroke-linejoin="round" opacity="0.7"/>
<path d="M40.1 87.5C41.2 87.3 45.8 89.3 48.2 89.9C50.6 90.5 59.7 91.5 61 92.3C62.3 93.1 60.9 96.3 59.4 97.1C57.9 97.9 50.4 99.6 48.2 99.5C46 99.4 42 97.2 40.9 96.3C39.8 95.4 38.6 92.5 38.5 91.5C38.4 90.5 39 87.7 40.1 87.5Z" fill="#e377c2" stroke="#e377c2" stroke-width="1.6" stroke-linejoin="round" opacity="0.75"/>
<path d="M81.1 57C81.9 56.4 87.5 56.3 89.1 57C90.7 57.7 94.9 62.4 94.7 63.4C94.5 64.4 89 66 87.5 65.8C86 65.6 82.6 62.8 81.9 61.8C81.2 60.8 80.3 57.6 81.1 57Z" fill="#c49c94" stroke="#c49c94" stroke-width="1.6" stroke-linejoin="round"/>
<path d="M86 53C87.3 53 99 54.6 101 56C103 57.4 103.5 64.4 103 65C102.5 65.6 98.5 62 97 61C95.5 60 91.3 56.9 90 56C88.7 55.1 84.7 53 86 53Z" fill="#f7b6d2" stroke="#f7b6d2" stroke-width="1.6" stroke-linejoin="round" opacity="0.45"/>
<path d="M72.2 65.8C74.3 65.8 91 66.8 93.1 67.4C95.2 68 91 70.2 89.9 70.6C88.8 71 85.2 71 83.5 70.6C81.8 70.2 76.7 68 75.4 67.4C74.1 66.8 70.1 65.8 72.2 65.8Z" fill="#17becf" stroke="#17becf" stroke-width="1.6" stroke-linejoin="round" opacity="0.55"/>
<path d="M92.3 49.8C92.8 49.4 96.7 47.4 97.1 47.4C97.5 47.4 96.5 49.6 96 50C95.5 50.4 93.4 51 93 51C92.6 51 91.8 50.2 92.3 49.8Z" fill="#7f7f7f" stroke="#7f7f7f" stroke-width="1.6" stroke-linejoin="round"/>
<path d="M63 46.8 L87 46.3" stroke="#c7c7c7" stroke-width="0.8" fill="none"/>
</g>
<g id="lay10">
<path d="M48.2 6.4C48.9 5.5 53.9 5.7 55.4 6.4C56.9 7.1 60.2 10.3 61 12C61.8 13.7 62.7 19.5 62.6 20.9C62.5 22.3 61.1 24.1 60.2 24.1C59.3 24.1 55.9 22 54.6 20.9C53.3 19.8 49.7 16.1 49 14.4C48.3 12.7 47.5 7.3 48.2 6.4Z" fill="#2ca02c" stroke="#2ca02c" stroke-width="1.6" stroke-linejoin="round"/>
<path d="M70.6 16C71.4 15.3 80.5 9.9 81.9 9.6C83.3 9.3 83.5 12.9 82.7 13.6C81.9 14.3 76.8 15.7 75.4 16C74 16.3 69.8 16.7 70.6 16Z" fill="#bcbd22" stroke="#bcbd22" stroke-width="1.6" stroke-linejoin="round" opacity="0.6"/>
<path d="M62.6 23.3C63.5 22.6 68.7 20.9 69.6 21C70.5 21.1 71 23.4 70.7 24.5C70.4 25.6 67.9 29.4 67.2 30.4C66.5 31.4 64.9 33.1 64.3 32.7C63.7 32.3 62.2 27.9 62 26.8C61.8 25.7 61.7 24 62.6 23.3Z" fill="#ff9896" stroke="#ff9896" stroke-width="1.6" stroke-linejoin="round"/>
<path d="M64.9 35C65.5 34.6 68.5 36.2 69.6 36.2C70.7 36.2 73.1 35.3 74.3 35C75.5 34.7 78.9 33.6 79.5 33.9C80.1 34.2 80 36.5 79.5 37.4C79 38.3 76.4 41.2 75.4 42C74.4 42.8 71.8 44.1 70.7 44.4C69.6 44.7 66.8 44.9 66.1 44.4C65.4 43.9 64.4 40.8 64.3 39.7C64.2 38.6 64.3 35.4 64.9 35Z" fill="#2ca02c" stroke="#2ca02c" stroke-width="1.6" stroke-linejoin="round"/>
<path d="M77 23C77.4 22.4 85.9 24.1 86.7 24.9C87.5 25.7 84.6 29.9 83.5 29.7C82.4 29.5 76.6 23.6 77 23Z" fill="#c7c7c7" stroke="#c7c7c7" stroke-width="1.6" stroke-linejoin="round" opacity="0.6"/>
<path d="M87.5 37.7C88.4 37 94.6 34.8 96.3 34.5C98 34.2 101.9 34.7 101.9 35.3C101.9 35.9 97.9 38.6 96.3 39.3C94.7 40 89.3 41.1 88.3 40.9C87.3 40.7 86.6 38.4 87.5 37.7Z" fill="#e377c2" stroke="#e377c2" stroke-width="1.6" stroke-linejoin="round" opacity="0.8"/>
<path d="M44 21C44.6 20.3 49.2 21.3 50 22C50.8 22.7 51.2 26.1 51 27C50.8 27.9 49.2 29.9 48.5 30C47.8 30.1 45.5 29.1 45 28C44.5 26.9 43.4 21.7 44 21Z" fill="#c49c94" stroke="#c49c94" stroke-width="1.6" stroke-linejoin="round" opacity="0.6"/>
<path d="M53 39C53.2 38.2 56.4 39.3 57 40C57.6 40.7 58.2 44.2 58 45C57.8 45.8 55.6 47.7 55 47C54.4 46.3 52.8 39.8 53 39Z" fill="#c49c94" stroke="#c49c94" stroke-width="1.6" stroke-linejoin="round" opacity="0.6"/>
<path d="M27.5 20.4C28.7 20.1 30.2 20.1 30.4 21C30.6 21.9 29.6 26.1 29.3 28C29 29.9 28.2 35.5 28.1 37.4C28 39.3 28.9 42.8 28.7 44.4C28.5 46 27.1 50.2 26.4 51.4C25.7 52.6 24 54.6 22.9 54.9C21.8 55.2 18.2 55 17 54.3C15.8 53.6 13 50.4 12.3 49C11.6 47.6 10.7 43.5 10.6 42C10.5 40.5 10.7 37.7 11.2 36.2C11.7 34.7 13.6 30.7 14.7 29.2C15.8 27.7 19 24.3 20.5 23.3C22 22.3 26.3 20.7 27.5 20.4Z" fill="#ff7f0e" stroke="#ff7f0e" stroke-width="1.6" stroke-linejoin="round"/>
<path d="M5.3 53.7C5.7 52.8 8 50 8.8 49.6C9.6 49.2 11.4 49.5 12.3 50.2C13.2 50.9 15.9 54.8 16.4 56C16.9 57.2 16.9 60 16.4 60.7C15.9 61.4 13.3 61.9 12.3 61.9C11.3 61.9 8.5 61.2 7.7 60.7C6.9 60.2 5.6 58 5.3 57.2C5 56.4 4.9 54.6 5.3 53.7Z" fill="#aec7e8" stroke="#aec7e8" stroke-width="1.6" stroke-linejoin="round"/>
<path d="M10 39.1C10.3 38.2 12.9 37.1 13.5 37.4C14.1 37.7 15.3 41 15.3 42C15.3 43 14 45.7 13.5 46.1C13 46.5 11 46.3 10.6 45.5C10.2 44.7 9.7 40 10 39.1Z" fill="#1f77b4" stroke="#1f77b4" stroke-width="1.6" stroke-linejoin="round"/>
<path d="M27.5 31.5C27.7 30.3 30.2 32.5 31 33.9C31.8 35.3 33.6 41.4 34 43.2C34.4 45 34.7 48.2 34.5 49C34.3 49.8 32.8 50.7 32.2 50.2C31.6 49.7 29.8 46.6 29.3 44.4C28.8 42.2 27.3 32.7 27.5 31.5Z" fill="#98df8a" stroke="#98df8a" stroke-width="1.6" stroke-linejoin="round"/>
<path d="M32.2 28C32.9 27.6 37.7 29.6 39.2 30.4C40.7 31.2 44.1 33.6 45.1 35C46.1 36.4 47.2 40.5 47.4 42C47.6 43.5 47.3 47.1 46.8 47.9C46.3 48.7 43.7 49 42.7 49C41.7 49 39 48.7 38 47.9C37 47.1 35 43.6 34.5 42C34 40.4 33.7 35.5 33.4 33.9C33.1 32.3 31.5 28.4 32.2 28Z" fill="#aec7e8" stroke="#aec7e8" stroke-width="1.6" stroke-linejoin="round"/>
<path d="M35.7 49C36.7 48.4 42.1 48.7 43.9 48.5C45.7 48.3 49.7 47.2 50.9 47.3C52.1 47.4 54.2 47.9 54.4 49C54.6 50.1 53.6 55.5 52.9 56.8C52.2 58.1 49.4 59.9 48.2 60.4C47 60.9 43.5 61.7 42.3 61.5C41.1 61.3 38.5 59.9 37.7 59C36.9 58.1 35.9 55.2 35.7 54C35.5 52.8 34.7 49.6 35.7 49Z" fill="#9467bd" stroke="#9467bd" stroke-width="1.6" stroke-linejoin="round"/>
<path d="M15.9 57.2C16.3 56.6 20.9 56.2 21.7 56.6C22.5 57 23.3 60.1 22.9 60.7C22.5 61.3 19 62.3 18.2 61.9C17.4 61.5 15.5 57.8 15.9 57.2Z" fill="#9467bd" stroke="#9467bd" stroke-width="1.6" stroke-linejoin="round"/>
<path d="M22.9 54.9C23.6 54.2 27.3 53.2 28.7 53.1C30.1 53 33.3 53.6 34.5 54.3C35.7 55 38.2 58.3 39.2 59.5C40.2 60.7 42.7 63.2 42.7 64.2C42.7 65.2 40.3 67.1 39.2 67.7C38.1 68.3 34.6 69.5 33.4 69.5C32.2 69.5 29.8 68.4 28.7 67.7C27.6 67 24.7 64.1 24 63.1C23.3 62.1 22.4 60 22.3 59C22.2 58 22.2 55.6 22.9 54.9Z" fill="#1f77b4" stroke="#1f77b4" stroke-width="1.6" stroke-linejoin="round"/>
<path d="M33.4 69.5C33.9 69 38 68.3 39.2 67.7C40.4 67.1 42.4 64.7 43.9 64.2C45.4 63.7 50.2 63.3 52.1 63.1C54 62.9 58.7 62.5 60.2 62.5C61.7 62.5 64.8 62.6 64.9 63.1C65 63.6 62.6 65.8 61.4 66.6C60.2 67.4 55.9 69.4 54.4 70.1C52.9 70.8 50.2 72.1 48.6 72.4C47 72.7 42 73.1 40.4 73C38.8 72.9 35.3 72.2 34.5 71.8C33.7 71.4 32.9 70 33.4 69.5Z" fill="#ffbb78" stroke="#ffbb78" stroke-width="1.6" stroke-linejoin="round"/>
<path d="M55.2 69.7C55.7 68.9 59.8 66.6 61 66.2C62.2 65.8 65 65.5 65.7 66.2C66.4 66.9 66.5 70.5 66.9 72C67.3 73.5 69.1 77.4 69.2 79C69.3 80.6 68.4 84.7 68 86C67.6 87.3 66.2 90.1 65.7 90.1C65.2 90.1 64.1 87.4 63.4 86C62.7 84.6 60.7 79.4 59.9 77.9C59.1 76.4 56.9 74.2 56.4 73.2C55.9 72.2 54.7 70.5 55.2 69.7Z" fill="#c5b0d5" stroke="#c5b0d5" stroke-width="1.6" stroke-linejoin="round" opacity="0.75"/>
<path d="M64.5 63.3C65.2 62.9 69.9 62.9 71.5 62.7C73.1 62.5 77 62 78.5 61.5C80 61 83 58.1 84.4 58C85.8 57.9 89.3 59.5 90.2 60.4C91.1 61.3 92.3 64.8 92 65.6C91.7 66.4 88.9 66.9 87.9 67.4C86.9 67.9 84 69.2 83.2 70.3C82.4 71.4 81.4 75.1 80.9 76.7C80.4 78.3 79.3 83 78.5 83.7C77.7 84.4 75 83 73.9 82.5C72.8 82 70 80.2 69.2 79C68.4 77.8 67.3 73.5 66.9 72C66.5 70.5 66 67.2 65.7 66.2C65.4 65.2 63.8 63.7 64.5 63.3Z" fill="#d62728" stroke="#d62728" stroke-width="1.6" stroke-linejoin="round"/>
<path d="M58.7 75.5C59.2 74.4 61.1 73.6 61.6 74.4C62.1 75.2 63.5 81 63.4 82.5C63.3 84 61.7 86.4 61 87.2C60.3 88 58 89.4 57.5 89C57 88.6 56.8 85.3 56.9 83.7C57 82.1 58.2 76.6 58.7 75.5Z" fill="#8c564b" stroke="#8c564b" stroke-width="1.6" stroke-linejoin="round"/>
<path d="M83.2 70.9C83.9 69.9 86.9 69.8 87.9 70.3C88.9 70.8 91.3 74.1 91.4 75C91.5 75.9 89.9 77.2 89.1 77.9C88.3 78.6 85.2 81.3 84.4 81.4C83.6 81.5 82.1 80.2 82 79C81.9 77.8 82.5 71.9 83.2 70.9Z" fill="#f7b6d2" stroke="#f7b6d2" stroke-width="1.6" stroke-linejoin="round" opacity="0.6"/>
<path d="M86.7 87.2C86.8 86.7 90.3 88.7 91.4 89C92.5 89.3 95.1 89.3 96.1 89.5C97.1 89.7 99.5 90.2 99.6 90.7C99.7 91.2 98 93.5 97.2 94.2C96.4 94.9 93.4 96.7 92.6 96.6C91.8 96.5 90.9 94.2 90.2 93.1C89.5 92 86.6 87.7 86.7 87.2Z" fill="#f7b6d2" stroke="#f7b6d2" stroke-width="1.6" stroke-linejoin="round" opacity="0.6"/>
<path d="M76.8 90.1C77 89.6 78 91 78.5 91.9C79 92.8 80.6 96.6 80.9 97.7C81.2 98.8 81.4 100.7 80.9 101.2C80.4 101.7 76.7 102.3 76.2 101.8C75.7 101.3 76.7 98 76.8 96.6C76.9 95.2 76.6 90.6 76.8 90.1Z" fill="#7f7f7f" stroke="#7f7f7f" stroke-width="1.6" stroke-linejoin="round"/>
<path d="M84.4 55.7C84.5 55.2 89 52 90.2 51.6C91.4 51.2 93.8 51.9 94.3 52.2C94.8 52.5 94.3 54.1 94.9 54.5C95.5 54.9 99.6 55.4 99.6 55.7C99.6 56 96.1 56.7 94.9 56.8C93.7 56.9 90.3 56.4 89.1 56.3C87.9 56.2 84.3 56.2 84.4 55.7Z" fill="#bcbd22" stroke="#bcbd22" stroke-width="1.6" stroke-linejoin="round" opacity="0.75"/>
<path d="M20.9 67.4C21.3 67.3 25.6 69.4 25.7 69.8C25.8 70.2 22.6 71.3 22 71C21.4 70.7 20.5 67.5 20.9 67.4Z" fill="#c49c94" stroke="#c49c94" stroke-width="1.6" stroke-linejoin="round" opacity="0.6"/>
<path d="M66.5 44 L65.1 63.9" stroke="#8c564b" stroke-width="1.1" fill="none"/>
<path d="M69.2 60.4 L79.7 51" stroke="#c7c7c7" stroke-width="0.8" fill="none"/>
<path d="M80 97 L87 94" stroke="#7f7f7f" stroke-width="0.6" fill="none"/>
</g>
<g id="lay11">
<path d="M48.2 6.4C48.9 5.5 53.9 5.7 55.4 6.4C56.9 7.1 60.2 10.3 61 12C61.8 13.7 62.7 19.5 62.6 20.9C62.5 22.3 61.1 24.1 60.2 24.1C59.3 24.1 55.9 22 54.6 20.9C53.3 19.8 49.7 16.1 49 14.4C48.3 12.7 47.5 7.3 48.2 6.4Z" fill="#2ca02c" stroke="#2ca02c" stroke-width="1.6" stroke-linejoin="round"/>
<path d="M70.6 16C71.4 15.3 80.5 9.9 81.9 9.6C83.3 9.3 83.5 12.9 82.7 13.6C81.9 14.3 76.8 15.7 75.4 16C74 16.3 69.8 16.7 70.6 16Z" fill="#bcbd22" stroke="#bcbd22" stroke-width="1.6" stroke-linejoin="round" opacity="0.6"/>
<path d="M62.6 23.3C63.5 22.6 68.7 20.9 69.6 21C70.5 21.1 71 23.4 70.7 24.5C70.4 25.6 67.9 29.4 67.2 30.4C66.5 31.4 64.9 33.1 64.3 32.7C63.7 32.3 62.2 27.9 62 26.8C61.8 25.7 61.7 24 62.6 23.3Z" fill="#ff9896" stroke="#ff9896" stroke-width="1.6" stroke-linejoin="round"/>
<path d="M64.9 35C65.5 34.6 68.5 36.2 69.6 36.2C70.7 36.2 73.1 35.3 74.3 35C75.5 34.7 78.9 33.6 79.5 33.9C80.1 34.2 80 36.5 79.5 37.4C79 38.3 76.4 41.2 75.4 42C74.4 42.8 71.8 44.1 70.7 44.4C69.6 44.7 66.8 44.9 66.1 44.4C65.4 43.9 64.4 40.8 64.3 39.7C64.2 38.6 64.3 35.4 64.9 35Z" fill="#2ca02c" stroke="#2ca02c" stroke-width="1.6" stroke-linejoin="round"/>
<path d="M77 23C77.4 22.4 85.9 24.1 86.7 24.9C87.5 25.7 84.6 29.9 83.5 29.7C82.4 29.5 76.6 23.6 77 23Z" fill="#c7c7c7" stroke="#c7c7c7" stroke-width="1.6" stroke-linejoin="round" opacity="0.6"/>
<path d="M87.5 37.7C88.4 37 94.6 34.8 96.3 34.5C98 34.2 101.9 34.7 101.9 35.3C101.9 35.9 97.9 38.6 96.3 39.3C94.7 40 89.3 41.1 88.3 40.9C87.3 40.7 86.6 38.4 87.5 37.7Z" fill="#e377c2" stroke="#e377c2" stroke-width="1.6" stroke-linejoin="round" opacity="0.8"/>
<path d="M44 21C44.6 20.3 49.2 21.3 50 22C50.8 22.7 51.2 26.1 51 27C50.8 27.9 49.2 29.9 48.5 30C47.8 30.1 45.5 29.1 45 28C44.5 26.9 43.4 21.7 44 21Z" fill="#c49c94" stroke="#c49c94" stroke-width="1.6" stroke-linejoin="round" opacity="0.6"/>
<path d="M53 39C53.2 38.2 56.4 39.3 57 40C57.6 40.7 58.2 44.2 58 45C57.8 45.8 55.6 47.7 55 47C54.4 46.3 52.8 39.8 53 39Z" fill="#c49c94" stroke="#c49c94" stroke-width="1.6" stroke-linejoin="round" opacity="0.6"/>
<path d="M12.8 32.1C13.6 30.2 17.6 25.5 19.3 24.1C21 22.7 25.9 20.3 27.3 20.1C28.7 19.9 30.9 21.1 31.3 22.5C31.7 23.9 30.9 29.8 30.5 32.1C30.1 34.4 28.8 39.9 28.1 41.8C27.4 43.7 25.3 47.6 24.1 48.2C22.9 48.8 19 47.5 17.7 46.6C16.4 45.7 13.4 41.8 12.8 40.1C12.2 38.4 12 34 12.8 32.1Z" fill="#ff7f0e" stroke="#ff7f0e" stroke-width="1.6" stroke-linejoin="round"/>
<path d="M28.9 36.9C29.2 35.8 31.6 37.4 32.1 38.5C32.6 39.6 33.2 45.5 32.9 46.6C32.6 47.7 30.2 49.3 29.7 48.2C29.2 47.1 28.6 38 28.9 36.9Z" fill="#98df8a" stroke="#98df8a" stroke-width="1.6" stroke-linejoin="round"/>
<path d="M34.5 30C35 28.9 38.8 29.8 40 30.5C41.2 31.2 44 34.7 45 36C46 37.3 48.1 40.4 48.2 41.8C48.3 43.2 47 47.6 46 48.2C45 48.8 40.5 47.6 39.3 46.6C38.1 45.6 36.6 41.9 36 40C35.4 38.1 34 31.1 34.5 30Z" fill="#aec7e8" stroke="#aec7e8" stroke-width="1.6" stroke-linejoin="round"/>
<path d="M11.2 37.7C11.9 36.9 14.6 37.3 16.1 38.5C17.6 39.7 22.4 46.3 24.1 48.2C25.8 50.1 28.8 53.3 30.5 54.6C32.2 55.9 37 58.3 38.5 59.4C40 60.5 43.2 63.1 43.4 64.2C43.6 65.3 41.4 68.7 40.1 69.1C38.8 69.5 33.8 68.3 32.1 67.4C30.4 66.5 27.2 62.3 25.7 61C24.2 59.7 20.8 57.3 19.3 56.2C17.8 55.1 13.8 52.7 12.8 51.4C11.8 50.1 10.6 46.6 10.4 45C10.2 43.4 10.5 38.5 11.2 37.7Z" fill="#1f77b4" stroke="#1f77b4" stroke-width="1.6" stroke-linejoin="round"/>
<path d="M5.6 53C6.4 52.3 11.2 51 12.8 51.4C14.4 51.8 18.7 55.1 19.3 56.2C19.9 57.3 18.8 60.4 17.7 61C16.6 61.6 11 61.5 9.6 61C8.2 60.5 6.1 57.9 5.6 57C5.1 56.1 4.8 53.7 5.6 53Z" fill="#aec7e8" stroke="#aec7e8" stroke-width="1.6" stroke-linejoin="round"/>
<path d="M36.9 48.2C38 47.1 44.7 46.6 46.6 46.6C48.5 46.6 52.1 47.3 53 48.2C53.9 49.1 55 53.3 54.6 54.6C54.2 55.9 51.3 58.7 49.8 59.4C48.3 60.1 43.3 61.4 41.8 61C40.3 60.6 37.5 57.7 36.9 56.2C36.3 54.7 35.8 49.3 36.9 48.2Z" fill="#9467bd" stroke="#9467bd" stroke-width="1.6" stroke-linejoin="round"/>
<path d="M36.9 67.4C37.6 66.5 45.8 64.8 48.2 64.2C50.6 63.6 55.9 62.7 57.8 62.6C59.7 62.5 63.8 62.8 64.2 63.4C64.6 64 62.5 66.5 61 67.4C59.5 68.3 53.6 71 51.4 71.5C49.2 72 43.5 72 41.8 71.5C40.1 71 36.2 68.3 36.9 67.4Z" fill="#ffbb78" stroke="#ffbb78" stroke-width="1.6" stroke-linejoin="round"/>
<path d="M55.2 69.7C55.7 68.9 59.8 66.6 61 66.2C62.2 65.8 65 65.5 65.7 66.2C66.4 66.9 66.5 70.5 66.9 72C67.3 73.5 69.1 77.4 69.2 79C69.3 80.6 68.4 84.7 68 86C67.6 87.3 66.2 90.1 65.7 90.1C65.2 90.1 64.1 87.4 63.4 86C62.7 84.6 60.7 79.4 59.9 77.9C59.1 76.4 56.9 74.2 56.4 73.2C55.9 72.2 54.7 70.5 55.2 69.7Z" fill="#c5b0d5" stroke="#c5b0d5" stroke-width="1.6" stroke-linejoin="round" opacity="0.75"/>
<path d="M64.5 63.3C65.2 62.9 69.9 62.9 71.5 62.7C73.1 62.5 77 62 78.5 61.5C80 61 83 58.1 84.4 58C85.8 57.9 89.3 59.5 90.2 60.4C91.1 61.3 92.3 64.8 92 65.6C91.7 66.4 88.9 66.9 87.9 67.4C86.9 67.9 84 69.2 83.2 70.3C82.4 71.4 81.4 75.1 80.9 76.7C80.4 78.3 79.3 83 78.5 83.7C77.7 84.4 75 83 73.9 82.5C72.8 82 70 80.2 69.2 79C68.4 77.8 67.3 73.5 66.9 72C66.5 70.5 66 67.2 65.7 66.2C65.4 65.2 63.8 63.7 64.5 63.3Z" fill="#d62728" stroke="#d62728" stroke-width="1.6" stroke-linejoin="round"/>
<path d="M58.7 75.5C59.2 74.4 61.1 73.6 61.6 74.4C62.1 75.2 63.5 81 63.4 82.5C63.3 84 61.7 86.4 61 87.2C60.3 88 58 89.4 57.5 89C57 88.6 56.8 85.3 56.9 83.7C57 82.1 58.2 76.6 58.7 75.5Z" fill="#8c564b" stroke="#8c564b" stroke-width="1.6" stroke-linejoin="round"/>
<path d="M83.2 70.9C83.9 69.9 86.9 69.8 87.9 70.3C88.9 70.8 91.3 74.1 91.4 75C91.5 75.9 89.9 77.2 89.1 77.9C88.3 78.6 85.2 81.3 84.4 81.4C83.6 81.5 82.1 80.2 82 79C81.9 77.8 82.5 71.9 83.2 70.9Z" fill="#f7b6d2" stroke="#f7b6d2" stroke-width="1.6" stroke-linejoin="round" opacity="0.6"/>
<path d="M86.7 87.2C86.8 86.7 90.3 88.7 91.4 89C92.5 89.3 95.1 89.3 96.1 89.5C97.1 89.7 99.5 90.2 99.6 90.7C99.7 91.2 98 93.5 97.2 94.2C96.4 94.9 93.4 96.7 92.6 96.6C91.8 96.5 90.9 94.2 90.2 93.1C89.5 92 86.6 87.7 86.7 87.2Z" fill="#f7b6d2" stroke="#f7b6d2" stroke-width="1.6" stroke-linejoin="round" opacity="0.6"/>
<path d="M76.8 90.1C77 89.6 78 91 78.5 91.9C79 92.8 80.6 96.6 80.9 97.7C81.2 98.8 81.4 100.7 80.9 101.2C80.4 101.7 76.7 102.3 76.2 101.8C75.7 101.3 76.7 98 76.8 96.6C76.9 95.2 76.6 90.6 76.8 90.1Z" fill="#7f7f7f" stroke="#7f7f7f" stroke-width="1.6" stroke-linejoin="round"/>
<path d="M84.4 55.7C84.5 55.2 89 52 90.2 51.6C91.4 51.2 93.8 51.9 94.3 52.2C94.8 52.5 94.3 54.1 94.9 54.5C95.5 54.9 99.6 55.4 99.6 55.7C99.6 56 96.1 56.7 94.9 56.8C93.7 56.9 90.3 56.4 89.1 56.3C87.9 56.2 84.3 56.2 84.4 55.7Z" fill="#bcbd22" stroke="#bcbd22" stroke-width="1.6" stroke-linejoin="round" opacity="0.75"/>
<path d="M20.9 67.4C21.3 67.3 25.6 69.4 25.7 69.8C25.8 70.2 22.6 71.3 22 71C21.4 70.7 20.5 67.5 20.9 67.4Z" fill="#c49c94" stroke="#c49c94" stroke-width="1.6" stroke-linejoin="round" opacity="0.6"/>
<path d="M66.5 44 L65.1 63.9" stroke="#8c564b" stroke-width="1.1" fill="none"/>
<path d="M69.2 60.4 L79.7 51" stroke="#c7c7c7" stroke-width="0.8" fill="none"/>
<path d="M80 97 L87 94" stroke="#7f7f7f" stroke-width="0.6" fill="none"/>
</g>
<g id="lay12">
<path d="M48.2 6.4C48.9 5.5 53.9 5.7 55.4 6.4C56.9 7.1 60.2 10.3 61 12C61.8 13.7 62.7 19.5 62.6 20.9C62.5 22.3 61.1 24.1 60.2 24.1C59.3 24.1 55.9 22 54.6 20.9C53.3 19.8 49.7 16.1 49 14.4C48.3 12.7 47.5 7.3 48.2 6.4Z" fill="#2ca02c" stroke="#2ca02c" stroke-width="1.6" stroke-linejoin="round"/>
<path d="M70.6 16C71.4 15.3 80.5 9.9 81.9 9.6C83.3 9.3 83.5 12.9 82.7 13.6C81.9 14.3 76.8 15.7 75.4 16C74 16.3 69.8 16.7 70.6 16Z" fill="#bcbd22" stroke="#bcbd22" stroke-width="1.6" stroke-linejoin="round" opacity="0.6"/>
<path d="M62.6 23.3C63.5 22.6 68.7 20.9 69.6 21C70.5 21.1 71 23.4 70.7 24.5C70.4 25.6 67.9 29.4 67.2 30.4C66.5 31.4 64.9 33.1 64.3 32.7C63.7 32.3 62.2 27.9 62 26.8C61.8 25.7 61.7 24 62.6 23.3Z" fill="#ff9896" stroke="#ff9896" stroke-width="1.6" stroke-linejoin="round"/>
<path d="M64.9 35C65.5 34.6 68.5 36.2 69.6 36.2C70.7 36.2 73.1 35.3 74.3 35C75.5 34.7 78.9 33.6 79.5 33.9C80.1 34.2 80 36.5 79.5 37.4C79 38.3 76.4 41.2 75.4 42C74.4 42.8 71.8 44.1 70.7 44.4C69.6 44.7 66.8 44.9 66.1 44.4C65.4 43.9 64.4 40.8 64.3 39.7C64.2 38.6 64.3 35.4 64.9 35Z" fill="#2ca02c" stroke="#2ca02c" stroke-width="1.6" stroke-linejoin="round"/>
<path d="M77 23C77.4 22.4 85.9 24.1 86.7 24.9C87.5 25.7 84.6 29.9 83.5 29.7C82.4 29.5 76.6 23.6 77 23Z" fill="#c7c7c7" stroke="#c7c7c7" stroke-width="1.6" stroke-linejoin="round" opacity="0.6"/>
<path d="M87.5 37.7C88.4 37 94.6 34.8 96.3 34.5C98 34.2 101.9 34.7 101.9 35.3C101.9 35.9 97.9 38.6 96.3 39.3C94.7 40 89.3 41.1 88.3 40.9C87.3 40.7 86.6 38.4 87.5 37.7Z" fill="#e377c2" stroke="#e377c2" stroke-width="1.6" stroke-linejoin="round" opacity="0.8"/>
<path d="M44 21C44.6 20.3 49.2 21.3 50 22C50.8 22.7 51.2 26.1 51 27C50.8 27.9 49.2 29.9 48.5 30C47.8 30.1 45.5 29.1 45 28C44.5 26.9 43.4 21.7 44 21Z" fill="#c49c94" stroke="#c49c94" stroke-width="1.6" stroke-linejoin="round" opacity="0.6"/>
<path d="M53 39C53.2 38.2 56.4 39.3 57 40C57.6 40.7 58.2 44.2 58 45C57.8 45.8 55.6 47.7 55 47C54.4 46.3 52.8 39.8 53 39Z" fill="#c49c94" stroke="#c49c94" stroke-width="1.6" stroke-linejoin="round" opacity="0.6"/>
<path d="M12.8 32.1C13.6 30.2 17.6 25.5 19.3 24.1C21 22.7 25.9 20.3 27.3 20.1C28.7 19.9 30.9 21.1 31.3 22.5C31.7 23.9 30.9 29.8 30.5 32.1C30.1 34.4 28.8 39.9 28.1 41.8C27.4 43.7 25.3 47.6 24.1 48.2C22.9 48.8 19 47.5 17.7 46.6C16.4 45.7 13.4 41.8 12.8 40.1C12.2 38.4 12 34 12.8 32.1Z" fill="#ff7f0e" stroke="#ff7f0e" stroke-width="1.6" stroke-linejoin="round"/>
<path d="M28.9 36.9C29.2 35.8 31.6 37.4 32.1 38.5C32.6 39.6 33.2 45.5 32.9 46.6C32.6 47.7 30.2 49.3 29.7 48.2C29.2 47.1 28.6 38 28.9 36.9Z" fill="#98df8a" stroke="#98df8a" stroke-width="1.6" stroke-linejoin="round"/>
<path d="M34.5 30C35 28.9 38.8 29.8 40 30.5C41.2 31.2 44 34.7 45 36C46 37.3 48.1 40.4 48.2 41.8C48.3 43.2 47 47.6 46 48.2C45 48.8 40.5 47.6 39.3 46.6C38.1 45.6 36.6 41.9 36 40C35.4 38.1 34 31.1 34.5 30Z" fill="#aec7e8" stroke="#aec7e8" stroke-width="1.6" stroke-linejoin="round"/>
<path d="M11.2 37.7C11.9 36.9 14.6 37.3 16.1 38.5C17.6 39.7 22.4 46.3 24.1 48.2C25.8 50.1 28.8 53.3 30.5 54.6C32.2 55.9 37 58.3 38.5 59.4C40 60.5 43.2 63.1 43.4 64.2C43.6 65.3 41.4 68.7 40.1 69.1C38.8 69.5 33.8 68.3 32.1 67.4C30.4 66.5 27.2 62.3 25.7 61C24.2 59.7 20.8 57.3 19.3 56.2C17.8 55.1 13.8 52.7 12.8 51.4C11.8 50.1 10.6 46.6 10.4 45C10.2 43.4 10.5 38.5 11.2 37.7Z" fill="#1f77b4" stroke="#1f77b4" stroke-width="1.6" stroke-linejoin="round"/>
<path d="M5.6 53C6.4 52.3 11.2 51 12.8 51.4C14.4 51.8 18.7 55.1 19.3 56.2C19.9 57.3 18.8 60.4 17.7 61C16.6 61.6 11 61.5 9.6 61C8.2 60.5 6.1 57.9 5.6 57C5.1 56.1 4.8 53.7 5.6 53Z" fill="#aec7e8" stroke="#aec7e8" stroke-width="1.6" stroke-linejoin="round"/>
<path d="M36.9 48.2C38 47.1 44.7 46.6 46.6 46.6C48.5 46.6 52.1 47.3 53 48.2C53.9 49.1 55 53.3 54.6 54.6C54.2 55.9 51.3 58.7 49.8 59.4C48.3 60.1 43.3 61.4 41.8 61C40.3 60.6 37.5 57.7 36.9 56.2C36.3 54.7 35.8 49.3 36.9 48.2Z" fill="#9467bd" stroke="#9467bd" stroke-width="1.6" stroke-linejoin="round"/>
<path d="M36.9 67.4C37.6 66.5 45.8 64.8 48.2 64.2C50.6 63.6 55.9 62.7 57.8 62.6C59.7 62.5 63.8 62.8 64.2 63.4C64.6 64 62.5 66.5 61 67.4C59.5 68.3 53.6 71 51.4 71.5C49.2 72 43.5 72 41.8 71.5C40.1 71 36.2 68.3 36.9 67.4Z" fill="#ffbb78" stroke="#ffbb78" stroke-width="1.6" stroke-linejoin="round"/>
<path d="M55.2 69.7C55.7 68.9 59.8 66.6 61 66.2C62.2 65.8 65 65.5 65.7 66.2C66.4 66.9 66.5 70.5 66.9 72C67.3 73.5 69.1 77.4 69.2 79C69.3 80.6 68.4 84.7 68 86C67.6 87.3 66.2 90.1 65.7 90.1C65.2 90.1 64.1 87.4 63.4 86C62.7 84.6 60.7 79.4 59.9 77.9C59.1 76.4 56.9 74.2 56.4 73.2C55.9 72.2 54.7 70.5 55.2 69.7Z" fill="#c5b0d5" stroke="#c5b0d5" stroke-width="1.6" stroke-linejoin="round" opacity="0.75"/>
<path d="M64.5 63.3C65.2 62.9 69.9 62.9 71.5 62.7C73.1 62.5 77 62 78.5 61.5C80 61 83 58.1 84.4 58C85.8 57.9 89.3 59.5 90.2 60.4C91.1 61.3 92.3 64.8 92 65.6C91.7 66.4 88.9 66.9 87.9 67.4C86.9 67.9 84 69.2 83.2 70.3C82.4 71.4 81.4 75.1 80.9 76.7C80.4 78.3 79.3 83 78.5 83.7C77.7 84.4 75 83 73.9 82.5C72.8 82 70 80.2 69.2 79C68.4 77.8 67.3 73.5 66.9 72C66.5 70.5 66 67.2 65.7 66.2C65.4 65.2 63.8 63.7 64.5 63.3Z" fill="#d62728" stroke="#d62728" stroke-width="1.6" stroke-linejoin="round"/>
<path d="M58.7 75.5C59.2 74.4 61.1 73.6 61.6 74.4C62.1 75.2 63.5 81 63.4 82.5C63.3 84 61.7 86.4 61 87.2C60.3 88 58 89.4 57.5 89C57 88.6 56.8 85.3 56.9 83.7C57 82.1 58.2 76.6 58.7 75.5Z" fill="#8c564b" stroke="#8c564b" stroke-width="1.6" stroke-linejoin="round"/>
<path d="M83.2 70.9C83.9 69.9 86.9 69.8 87.9 70.3C88.9 70.8 91.3 74.1 91.4 75C91.5 75.9 89.9 77.2 89.1 77.9C88.3 78.6 85.2 81.3 84.4 81.4C83.6 81.5 82.1 80.2 82 79C81.9 77.8 82.5 71.9 83.2 70.9Z" fill="#f7b6d2" stroke="#f7b6d2" stroke-width="1.6" stroke-linejoin="round" opacity="0.6"/>
<path d="M86.7 87.2C86.8 86.7 90.3 88.7 91.4 89C92.5 89.3 95.1 89.3 96.1 89.5C97.1 89.7 99.5 90.2 99.6 90.7C99.7 91.2 98 93.5 97.2 94.2C96.4 94.9 93.4 96.7 92.6 96.6C91.8 96.5 90.9 94.2 90.2 93.1C89.5 92 86.6 87.7 86.7 87.2Z" fill="#f7b6d2" stroke="#f7b6d2" stroke-width="1.6" stroke-linejoin="round" opacity="0.6"/>
<path d="M76.8 90.1C77 89.6 78 91 78.5 91.9C79 92.8 80.6 96.6 80.9 97.7C81.2 98.8 81.4 100.7 80.9 101.2C80.4 101.7 76.7 102.3 76.2 101.8C75.7 101.3 76.7 98 76.8 96.6C76.9 95.2 76.6 90.6 76.8 90.1Z" fill="#7f7f7f" stroke="#7f7f7f" stroke-width="1.6" stroke-linejoin="round"/>
<path d="M84.4 55.7C84.5 55.2 89 52 90.2 51.6C91.4 51.2 93.8 51.9 94.3 52.2C94.8 52.5 94.3 54.1 94.9 54.5C95.5 54.9 99.6 55.4 99.6 55.7C99.6 56 96.1 56.7 94.9 56.8C93.7 56.9 90.3 56.4 89.1 56.3C87.9 56.2 84.3 56.2 84.4 55.7Z" fill="#bcbd22" stroke="#bcbd22" stroke-width="1.6" stroke-linejoin="round" opacity="0.75"/>
<path d="M20.9 67.4C21.3 67.3 25.6 69.4 25.7 69.8C25.8 70.2 22.6 71.3 22 71C21.4 70.7 20.5 67.5 20.9 67.4Z" fill="#c49c94" stroke="#c49c94" stroke-width="1.6" stroke-linejoin="round" opacity="0.6"/>
<path d="M66.5 44 L65.1 63.9" stroke="#8c564b" stroke-width="1.1" fill="none"/>
<path d="M69.2 60.4 L79.7 51" stroke="#c7c7c7" stroke-width="0.8" fill="none"/>
<path d="M80 97 L87 94" stroke="#7f7f7f" stroke-width="0.6" fill="none"/>
</g>
<g id="lay20">
<path d="M46.6 6.4C47.7 5.7 51.9 4.9 53 5.6C54.1 6.3 56 10.6 56.2 12.8C56.4 15 55.2 22 54.6 24.1C54 26.2 52.3 29.9 51.4 30.5C50.5 31.1 47.7 30 46.6 28.9C45.5 27.8 42.1 23 41.7 20.9C41.3 18.8 42.7 12.9 43.3 11.2C43.9 9.5 45.5 7.1 46.6 6.4Z" fill="#c49c94" stroke="#c49c94" stroke-width="1.6" stroke-linejoin="round"/>
<path d="M45.9 28.7C46.7 27.7 51.3 27.1 52.9 27.5C54.5 27.9 59.5 31.2 59.9 32.2C60.3 33.2 57.6 34.9 56.4 35.7C55.2 36.5 50.6 39.2 49.4 39.2C48.2 39.2 46.3 36.9 45.9 35.7C45.5 34.5 45.1 29.7 45.9 28.7Z" fill="#f7b6d2" stroke="#f7b6d2" stroke-width="1.6" stroke-linejoin="round"/>
<path d="M25.7 16.9C25.9 16.5 28.8 20.9 29.7 22.5C30.6 24.1 33.5 29.1 33.7 30.5C33.9 31.9 32 35.1 31.3 34.5C30.6 33.9 28.8 27.8 28.1 25.7C27.4 23.6 25.5 17.3 25.7 16.9Z" fill="#bcbd22" stroke="#bcbd22" stroke-width="1.6" stroke-linejoin="round"/>
<path d="M34.8 18.2C35.2 18.2 37.6 21.6 38.8 22.8C40 24 44.2 27.6 44.7 28.7C45.2 29.8 44.2 32.3 43.5 32.2C42.8 32.1 39.8 28.6 38.8 27.5C37.8 26.4 35.8 23.9 35.3 22.8C34.8 21.7 34.4 18.2 34.8 18.2Z" fill="#17becf" stroke="#17becf" stroke-width="1.6" stroke-linejoin="round"/>
<path d="M7.2 37.7C7 37 14.2 35.9 16 36.1C17.8 36.3 21.6 38.5 22.5 39.3C23.4 40.1 24.7 43 24.1 43.3C23.5 43.6 19.7 42.4 17.7 41.7C15.7 41 7.4 38.4 7.2 37.7Z" fill="#f7b6d2" stroke="#f7b6d2" stroke-width="1.6" stroke-linejoin="round" opacity="0.7"/>
<path d="M34.2 39.2C34.7 38.5 37.7 39.6 38.8 40.4C39.9 41.2 42.7 44.7 43.5 46.2C44.3 47.7 45.8 51.6 45.9 53.2C46 54.8 45.2 59.5 44.7 60.2C44.2 60.9 42 59.7 41.2 59C40.4 58.3 38.4 55.9 37.7 54.4C37 52.9 35.2 48 34.8 46.2C34.4 44.4 33.7 39.9 34.2 39.2Z" fill="#ff9896" stroke="#ff9896" stroke-width="1.6" stroke-linejoin="round" opacity="0.85"/>
<path d="M49.4 48.5C49.7 47.7 50.6 46.9 51.1 47.9C51.6 48.9 53.1 54.9 53.4 56.7C53.7 58.5 54.3 62.7 54 63.7C53.7 64.7 51.2 65.8 50.5 65.5C49.8 65.2 48.5 62.7 48.2 61.4C47.9 60.1 48.1 55.9 48.2 54.4C48.3 52.9 49.1 49.3 49.4 48.5Z" fill="#7f7f7f" stroke="#7f7f7f" stroke-width="1.6" stroke-linejoin="round"/>
<path d="M20.1 49.8C20.6 49.1 21.7 50.1 22.5 51.4C23.3 52.7 26.2 59.1 27.3 61C28.4 62.9 31.7 65.9 32.1 67.4C32.5 68.9 31.2 73 30.5 73.8C29.8 74.6 26.8 75.3 25.7 74.6C24.6 73.9 21.7 69.4 20.9 67.4C20.1 65.4 18.6 59.9 18.5 57.8C18.4 55.7 19.6 50.5 20.1 49.8Z" fill="#8c564b" stroke="#8c564b" stroke-width="1.6" stroke-linejoin="round"/>
<path d="M35.3 60.2C36.1 59.4 37.8 61.8 38.8 62.5C39.8 63.2 42.6 64.9 43.5 66C44.4 67.1 46.4 71.2 46.5 72.2C46.6 73.2 45.7 74.6 44.7 75C43.7 75.4 39.1 75.5 37.7 75.4C36.3 75.3 33.7 74.9 33 74.2C32.3 73.5 31.5 71.2 31.8 69.6C32.1 68 34.5 61 35.3 60.2Z" fill="#98df8a" stroke="#98df8a" stroke-width="1.6" stroke-linejoin="round"/>
<path d="M27.3 75.4C29.2 74.5 36.8 74.5 38.5 75.4C40.2 76.3 41.5 81.4 41.7 83.5C41.9 85.6 40.7 91.4 40.1 93.1C39.5 94.8 37.8 98.1 36.9 97.9C36 97.7 33.6 92.4 32.1 91.5C30.6 90.6 25.2 90.8 24.1 89.9C23 89 22.1 85.2 22.5 83.5C22.9 81.8 25.4 76.3 27.3 75.4Z" fill="#aec7e8" stroke="#aec7e8" stroke-width="1.6" stroke-linejoin="round" opacity="0.8"/>
<path d="M43.3 77C44.4 75.9 48.4 73.4 49.8 73.8C51.2 74.2 54.3 78.4 55.4 80.3C56.5 82.2 59.1 88.2 59.4 89.9C59.7 91.6 58.9 94 57.8 94.7C56.7 95.4 51.7 96.7 49.8 96.3C47.9 95.9 42.8 93 41.7 91.5C40.6 90 39.9 85.2 40.1 83.5C40.3 81.8 42.2 78.1 43.3 77Z" fill="#1f77b4" stroke="#1f77b4" stroke-width="1.6" stroke-linejoin="round"/>
<path d="M38.5 95.5C39.5 94.8 46.5 93.8 48.2 93.9C49.9 94 53.4 95.6 53 96.3C52.6 97 46.5 99 44.9 99.5C43.3 100 40 100.8 39.3 100.3C38.6 99.8 37.5 96.2 38.5 95.5Z" fill="#2ca02c" stroke="#2ca02c" stroke-width="1.6" stroke-linejoin="round"/>
<path d="M58.7 40.4C60.1 39.4 62.9 36.8 64.5 35.7C66.1 34.6 71.4 31.3 72.7 31C74 30.7 75.3 31.7 75.6 32.8C75.9 33.9 75.8 38.7 75.6 40.4C75.4 42.1 74.4 46 73.9 47.4C73.4 48.8 72.6 51.2 71.5 52C70.4 52.8 65.9 54.5 64.5 54.4C63.1 54.3 60.8 51.7 59.9 50.9C59 50.1 57.2 48.2 56.4 47.4C55.6 46.6 52.6 45.2 52.9 44.4C53.2 43.6 57.3 41.4 58.7 40.4Z" fill="#1f77b4" stroke="#1f77b4" stroke-width="1.6" stroke-linejoin="round"/>
<path d="M75.6 40.4C76 39 77.5 39.5 78.5 39.8C79.5 40.1 83.2 41.7 84.4 42.7C85.6 43.7 88.4 47.4 89.1 48.5C89.8 49.6 90.6 51.5 90.2 52C89.8 52.5 86.5 52.8 85.6 53.2C84.7 53.6 82.9 54.3 82.1 55.5C81.3 56.7 79.2 63.3 78.5 63.7C77.8 64.1 76.6 60.4 76.2 59C75.8 57.6 75.2 54.2 75.1 52C75 49.8 75.2 41.8 75.6 40.4Z" fill="#ffbb78" stroke="#ffbb78" stroke-width="1.6" stroke-linejoin="round"/>
<path d="M64.5 56.7C65 55.9 68 54.8 69.2 54.4C70.4 54 74.1 53.1 75.1 53.2C76.1 53.3 77.3 54.5 77.4 55.5C77.5 56.5 76.6 60.2 76.2 61.4C75.8 62.6 74.6 65.2 73.9 66C73.2 66.8 71.2 68.4 70.4 68.4C69.6 68.4 67.6 66.8 66.9 66C66.2 65.2 64.8 62.5 64.5 61.4C64.2 60.3 64 57.5 64.5 56.7Z" fill="#d62728" stroke="#d62728" stroke-width="1.6" stroke-linejoin="round"/>
<path d="M87.9 52C89.1 51.5 93.4 51.7 94.9 52C96.4 52.3 99.8 53.3 100.7 54.4C101.6 55.5 102.4 59.8 102.5 61.4C102.6 63 102.8 67.3 101.9 68.4C101 69.5 96.3 70.7 94.9 70.7C93.5 70.7 91.3 69.2 90.2 68.4C89.1 67.6 86.3 65.1 85.6 63.7C84.9 62.3 84.1 58.1 84.4 56.7C84.7 55.3 86.7 52.5 87.9 52Z" fill="#d62728" stroke="#d62728" stroke-width="1.6" stroke-linejoin="round"/>
<path d="M78.5 61.4C78.9 60.3 82.4 58.5 83.2 59C84 59.5 85.6 64.6 85.6 66C85.6 67.4 83.9 70.4 83.2 70.7C82.5 71 80.2 69.5 79.7 68.4C79.2 67.3 78.1 62.5 78.5 61.4Z" fill="#98df8a" stroke="#98df8a" stroke-width="1.6" stroke-linejoin="round"/>
<path d="M85 72C85.6 71.1 88.9 70.2 90.2 70C91.5 69.8 94.6 70.7 96 70.5C97.4 70.3 101.4 67.3 102 68.4C102.6 69.5 101.8 78.2 101.1 80.3C100.4 82.4 97.6 86.3 96.3 86.7C95 87.1 91.2 84.6 89.9 83.5C88.6 82.4 85.7 78.7 85.1 77.4C84.5 76.1 84.4 72.9 85 72Z" fill="#ff7f0e" stroke="#ff7f0e" stroke-width="1.6" stroke-linejoin="round"/>
<path d="M57.5 62.5C57.8 62 60.2 63 61 63.7C61.8 64.4 63.5 67.7 64.5 68.4C65.5 69.1 67.8 69.3 69.2 69.6C70.6 69.9 74.6 70.3 76.2 70.7C77.8 71.1 82.7 72.4 83.2 73.1C83.7 73.8 82 76.7 80.9 77C79.8 77.3 75.5 75.7 73.9 75.4C72.3 75.1 68.3 74.6 66.9 74.2C65.5 73.8 63.2 72.6 62.2 71.9C61.2 71.2 59.2 69.5 58.7 68.4C58.2 67.3 57.2 63 57.5 62.5Z" fill="#9467bd" stroke="#9467bd" stroke-width="1.6" stroke-linejoin="round"/>
<path d="M57.5 52C58.3 51.5 62.6 51.5 63.4 52C64.2 52.5 64.5 55.6 64.5 56.7C64.5 57.8 64.1 60.9 63.4 61.4C62.7 61.9 59.5 61.9 58.7 61.4C57.9 60.9 57 57.8 56.9 56.7C56.8 55.6 56.7 52.5 57.5 52Z" fill="#e377c2" stroke="#e377c2" stroke-width="1.6" stroke-linejoin="round"/>
<path d="M73.8 80.3C74.5 78.8 80.7 78 81.9 78.7C83.1 79.4 84.5 84.9 84.3 86.7C84.1 88.5 81.2 93.3 80.3 93.9C79.4 94.5 77 93.1 76.2 91.5C75.4 89.9 73.1 81.8 73.8 80.3Z" fill="#c7c7c7" stroke="#c7c7c7" stroke-width="1.6" stroke-linejoin="round" opacity="0.8"/>
<path d="M52.5 43.5C52.9 43 56 42.1 56.5 42.5C57 42.9 57.4 46.5 57 47C56.6 47.5 53.5 46.9 53 46.5C52.5 46.1 52.1 44 52.5 43.5Z" fill="#17becf" stroke="#17becf" stroke-width="1.6" stroke-linejoin="round"/>
</g>
<g id="lay21">
<path d="M46.6 6.4C47.7 5.7 51.9 4.9 53 5.6C54.1 6.3 56 10.6 56.2 12.8C56.4 15 55.2 22 54.6 24.1C54 26.2 52.3 29.9 51.4 30.5C50.5 31.1 47.7 30 46.6 28.9C45.5 27.8 42.1 23 41.7 20.9C41.3 18.8 42.7 12.9 43.3 11.2C43.9 9.5 45.5 7.1 46.6 6.4Z" fill="#c49c94" stroke="#c49c94" stroke-width="1.6" stroke-linejoin="round"/>
<path d="M45.9 28.7C46.7 27.7 51.3 27.1 52.9 27.5C54.5 27.9 59.5 31.2 59.9 32.2C60.3 33.2 57.6 34.9 56.4 35.7C55.2 36.5 50.6 39.2 49.4 39.2C48.2 39.2 46.3 36.9 45.9 35.7C45.5 34.5 45.1 29.7 45.9 28.7Z" fill="#f7b6d2" stroke="#f7b6d2" stroke-width="1.6" stroke-linejoin="round"/>
<path d="M25.7 16.9C25.9 16.5 28.8 20.9 29.7 22.5C30.6 24.1 33.5 29.1 33.7 30.5C33.9 31.9 32 35.1 31.3 34.5C30.6 33.9 28.8 27.8 28.1 25.7C27.4 23.6 25.5 17.3 25.7 16.9Z" fill="#bcbd22" stroke="#bcbd22" stroke-width="1.6" stroke-linejoin="round"/>
<path d="M34.8 18.2C35.2 18.2 37.6 21.6 38.8 22.8C40 24 44.2 27.6 44.7 28.7C45.2 29.8 44.2 32.3 43.5 32.2C42.8 32.1 39.8 28.6 38.8 27.5C37.8 26.4 35.8 23.9 35.3 22.8C34.8 21.7 34.4 18.2 34.8 18.2Z" fill="#17becf" stroke="#17becf" stroke-width="1.6" stroke-linejoin="round"/>
<path d="M7.2 37.7C7 37 14.2 35.9 16 36.1C17.8 36.3 21.6 38.5 22.5 39.3C23.4 40.1 24.7 43 24.1 43.3C23.5 43.6 19.7 42.4 17.7 41.7C15.7 41 7.4 38.4 7.2 37.7Z" fill="#f7b6d2" stroke="#f7b6d2" stroke-width="1.6" stroke-linejoin="round" opacity="0.7"/>
<path d="M34.2 39.2C34.7 38.5 37.7 39.6 38.8 40.4C39.9 41.2 42.7 44.7 43.5 46.2C44.3 47.7 45.8 51.6 45.9 53.2C46 54.8 45.2 59.5 44.7 60.2C44.2 60.9 42 59.7 41.2 59C40.4 58.3 38.4 55.9 37.7 54.4C37 52.9 35.2 48 34.8 46.2C34.4 44.4 33.7 39.9 34.2 39.2Z" fill="#ff9896" stroke="#ff9896" stroke-width="1.6" stroke-linejoin="round" opacity="0.85"/>
<path d="M49.4 48.5C49.7 47.7 50.6 46.9 51.1 47.9C51.6 48.9 53.1 54.9 53.4 56.7C53.7 58.5 54.3 62.7 54 63.7C53.7 64.7 51.2 65.8 50.5 65.5C49.8 65.2 48.5 62.7 48.2 61.4C47.9 60.1 48.1 55.9 48.2 54.4C48.3 52.9 49.1 49.3 49.4 48.5Z" fill="#7f7f7f" stroke="#7f7f7f" stroke-width="1.6" stroke-linejoin="round"/>
<path d="M20.1 49.8C20.6 49.1 21.7 50.1 22.5 51.4C23.3 52.7 26.2 59.1 27.3 61C28.4 62.9 31.7 65.9 32.1 67.4C32.5 68.9 31.2 73 30.5 73.8C29.8 74.6 26.8 75.3 25.7 74.6C24.6 73.9 21.7 69.4 20.9 67.4C20.1 65.4 18.6 59.9 18.5 57.8C18.4 55.7 19.6 50.5 20.1 49.8Z" fill="#8c564b" stroke="#8c564b" stroke-width="1.6" stroke-linejoin="round"/>
<path d="M35.3 60.2C36.1 59.4 37.8 61.8 38.8 62.5C39.8 63.2 42.6 64.9 43.5 66C44.4 67.1 46.4 71.2 46.5 72.2C46.6 73.2 45.7 74.6 44.7 75C43.7 75.4 39.1 75.5 37.7 75.4C36.3 75.3 33.7 74.9 33 74.2C32.3 73.5 31.5 71.2 31.8 69.6C32.1 68 34.5 61 35.3 60.2Z" fill="#98df8a" stroke="#98df8a" stroke-width="1.6" stroke-linejoin="round"/>
<path d="M27.3 75.4C29.2 74.5 36.8 74.5 38.5 75.4C40.2 76.3 41.5 81.4 41.7 83.5C41.9 85.6 40.7 91.4 40.1 93.1C39.5 94.8 37.8 98.1 36.9 97.9C36 97.7 33.6 92.4 32.1 91.5C30.6 90.6 25.2 90.8 24.1 89.9C23 89 22.1 85.2 22.5 83.5C22.9 81.8 25.4 76.3 27.3 75.4Z" fill="#aec7e8" stroke="#aec7e8" stroke-width="1.6" stroke-linejoin="round" opacity="0.8"/>
<path d="M43.3 77C44.4 75.9 48.4 73.4 49.8 73.8C51.2 74.2 54.3 78.4 55.4 80.3C56.5 82.2 59.1 88.2 59.4 89.9C59.7 91.6 58.9 94 57.8 94.7C56.7 95.4 51.7 96.7 49.8 96.3C47.9 95.9 42.8 93 41.7 91.5C40.6 90 39.9 85.2 40.1 83.5C40.3 81.8 42.2 78.1 43.3 77Z" fill="#1f77b4" stroke="#1f77b4" stroke-width="1.6" stroke-linejoin="round"/>
<path d="M38.5 95.5C39.5 94.8 46.5 93.8 48.2 93.9C49.9 94 53.4 95.6 53 96.3C52.6 97 46.5 99 44.9 99.5C43.3 100 40 100.8 39.3 100.3C38.6 99.8 37.5 96.2 38.5 95.5Z" fill="#2ca02c" stroke="#2ca02c" stroke-width="1.6" stroke-linejoin="round"/>
<path d="M58.7 40.4C60.1 39.4 62.9 36.8 64.5 35.7C66.1 34.6 71.4 31.3 72.7 31C74 30.7 75.3 31.7 75.6 32.8C75.9 33.9 75.8 38.7 75.6 40.4C75.4 42.1 74.4 46 73.9 47.4C73.4 48.8 72.6 51.2 71.5 52C70.4 52.8 65.9 54.5 64.5 54.4C63.1 54.3 60.8 51.7 59.9 50.9C59 50.1 57.2 48.2 56.4 47.4C55.6 46.6 52.6 45.2 52.9 44.4C53.2 43.6 57.3 41.4 58.7 40.4Z" fill="#1f77b4" stroke="#1f77b4" stroke-width="1.6" stroke-linejoin="round"/>
<path d="M75.6 40.4C76 39 77.5 39.5 78.5 39.8C79.5 40.1 83.2 41.7 84.4 42.7C85.6 43.7 88.4 47.4 89.1 48.5C89.8 49.6 90.6 51.5 90.2 52C89.8 52.5 86.5 52.8 85.6 53.2C84.7 53.6 82.9 54.3 82.1 55.5C81.3 56.7 79.2 63.3 78.5 63.7C77.8 64.1 76.6 60.4 76.2 59C75.8 57.6 75.2 54.2 75.1 52C75 49.8 75.2 41.8 75.6 40.4Z" fill="#ffbb78" stroke="#ffbb78" stroke-width="1.6" stroke-linejoin="round"/>
<path d="M64.5 56.7C65 55.9 68 54.8 69.2 54.4C70.4 54 74.1 53.1 75.1 53.2C76.1 53.3 77.3 54.5 77.4 55.5C77.5 56.5 76.6 60.2 76.2 61.4C75.8 62.6 74.6 65.2 73.9 66C73.2 66.8 71.2 68.4 70.4 68.4C69.6 68.4 67.6 66.8 66.9 66C66.2 65.2 64.8 62.5 64.5 61.4C64.2 60.3 64 57.5 64.5 56.7Z" fill="#d62728" stroke="#d62728" stroke-width="1.6" stroke-linejoin="round"/>
<path d="M87.9 52C89.1 51.5 93.4 51.7 94.9 52C96.4 52.3 99.8 53.3 100.7 54.4C101.6 55.5 102.4 59.8 102.5 61.4C102.6 63 102.8 67.3 101.9 68.4C101 69.5 96.3 70.7 94.9 70.7C93.5 70.7 91.3 69.2 90.2 68.4C89.1 67.6 86.3 65.1 85.6 63.7C84.9 62.3 84.1 58.1 84.4 56.7C84.7 55.3 86.7 52.5 87.9 52Z" fill="#d62728" stroke="#d62728" stroke-width="1.6" stroke-linejoin="round"/>
<path d="M78.5 61.4C78.9 60.3 82.4 58.5 83.2 59C84 59.5 85.6 64.6 85.6 66C85.6 67.4 83.9 70.4 83.2 70.7C82.5 71 80.2 69.5 79.7 68.4C79.2 67.3 78.1 62.5 78.5 61.4Z" fill="#98df8a" stroke="#98df8a" stroke-width="1.6" stroke-linejoin="round"/>
<path d="M85 72C85.6 71.1 88.9 70.2 90.2 70C91.5 69.8 94.6 70.7 96 70.5C97.4 70.3 101.4 67.3 102 68.4C102.6 69.5 101.8 78.2 101.1 80.3C100.4 82.4 97.6 86.3 96.3 86.7C95 87.1 91.2 84.6 89.9 83.5C88.6 82.4 85.7 78.7 85.1 77.4C84.5 76.1 84.4 72.9 85 72Z" fill="#ff7f0e" stroke="#ff7f0e" stroke-width="1.6" stroke-linejoin="round"/>
<path d="M57.5 62.5C57.8 62 60.2 63 61 63.7C61.8 64.4 63.5 67.7 64.5 68.4C65.5 69.1 67.8 69.3 69.2 69.6C70.6 69.9 74.6 70.3 76.2 70.7C77.8 71.1 82.7 72.4 83.2 73.1C83.7 73.8 82 76.7 80.9 77C79.8 77.3 75.5 75.7 73.9 75.4C72.3 75.1 68.3 74.6 66.9 74.2C65.5 73.8 63.2 72.6 62.2 71.9C61.2 71.2 59.2 69.5 58.7 68.4C58.2 67.3 57.2 63 57.5 62.5Z" fill="#9467bd" stroke="#9467bd" stroke-width="1.6" stroke-linejoin="round"/>
<path d="M57.5 52C58.3 51.5 62.6 51.5 63.4 52C64.2 52.5 64.5 55.6 64.5 56.7C64.5 57.8 64.1 60.9 63.4 61.4C62.7 61.9 59.5 61.9 58.7 61.4C57.9 60.9 57 57.8 56.9 56.7C56.8 55.6 56.7 52.5 57.5 52Z" fill="#e377c2" stroke="#e377c2" stroke-width="1.6" stroke-linejoin="round"/>
<path d="M73.8 80.3C74.5 78.8 80.7 78 81.9 78.7C83.1 79.4 84.5 84.9 84.3 86.7C84.1 88.5 81.2 93.3 80.3 93.9C79.4 94.5 77 93.1 76.2 91.5C75.4 89.9 73.1 81.8 73.8 80.3Z" fill="#c7c7c7" stroke="#c7c7c7" stroke-width="1.6" stroke-linejoin="round" opacity="0.8"/>
<path d="M52.5 43.5C52.9 43 56 42.1 56.5 42.5C57 42.9 57.4 46.5 57 47C56.6 47.5 53.5 46.9 53 46.5C52.5 46.1 52.1 44 52.5 43.5Z" fill="#17becf" stroke="#17becf" stroke-width="1.6" stroke-linejoin="round"/>
</g>
<g id="lay22">
<path d="M46.6 6.4C47.7 5.7 51.9 4.9 53 5.6C54.1 6.3 56 10.6 56.2 12.8C56.4 15 55.2 22 54.6 24.1C54 26.2 52.3 29.9 51.4 30.5C50.5 31.1 47.7 30 46.6 28.9C45.5 27.8 42.1 23 41.7 20.9C41.3 18.8 42.7 12.9 43.3 11.2C43.9 9.5 45.5 7.1 46.6 6.4Z" fill="#c49c94" stroke="#c49c94" stroke-width="1.6" stroke-linejoin="round"/>
<path d="M45.9 28.7C46.7 27.7 51.3 27.1 52.9 27.5C54.5 27.9 59.5 31.2 59.9 32.2C60.3 33.2 57.6 34.9 56.4 35.7C55.2 36.5 50.6 39.2 49.4 39.2C48.2 39.2 46.3 36.9 45.9 35.7C45.5 34.5 45.1 29.7 45.9 28.7Z" fill="#f7b6d2" stroke="#f7b6d2" stroke-width="1.6" stroke-linejoin="round"/>
<path d="M25.7 16.9C25.9 16.5 28.8 20.9 29.7 22.5C30.6 24.1 33.5 29.1 33.7 30.5C33.9 31.9 32 35.1 31.3 34.5C30.6 33.9 28.8 27.8 28.1 25.7C27.4 23.6 25.5 17.3 25.7 16.9Z" fill="#bcbd22" stroke="#bcbd22" stroke-width="1.6" stroke-linejoin="round"/>
<path d="M34.8 18.2C35.2 18.2 37.6 21.6 38.8 22.8C40 24 44.2 27.6 44.7 28.7C45.2 29.8 44.2 32.3 43.5 32.2C42.8 32.1 39.8 28.6 38.8 27.5C37.8 26.4 35.8 23.9 35.3 22.8C34.8 21.7 34.4 18.2 34.8 18.2Z" fill="#17becf" stroke="#17becf" stroke-width="1.6" stroke-linejoin="round"/>
<path d="M7.2 37.7C7 37 14.2 35.9 16 36.1C17.8 36.3 21.6 38.5 22.5 39.3C23.4 40.1 24.7 43 24.1 43.3C23.5 43.6 19.7 42.4 17.7 41.7C15.7 41 7.4 38.4 7.2 37.7Z" fill="#f7b6d2" stroke="#f7b6d2" stroke-width="1.6" stroke-linejoin="round" opacity="0.7"/>
<path d="M34.2 39.2C34.7 38.5 37.7 39.6 38.8 40.4C39.9 41.2 42.7 44.7 43.5 46.2C44.3 47.7 45.8 51.6 45.9 53.2C46 54.8 45.2 59.5 44.7 60.2C44.2 60.9 42 59.7 41.2 59C40.4 58.3 38.4 55.9 37.7 54.4C37 52.9 35.2 48 34.8 46.2C34.4 44.4 33.7 39.9 34.2 39.2Z" fill="#ff9896" stroke="#ff9896" stroke-width="1.6" stroke-linejoin="round" opacity="0.85"/>
<path d="M49.4 48.5C49.7 47.7 50.6 46.9 51.1 47.9C51.6 48.9 53.1 54.9 53.4 56.7C53.7 58.5 54.3 62.7 54 63.7C53.7 64.7 51.2 65.8 50.5 65.5C49.8 65.2 48.5 62.7 48.2 61.4C47.9 60.1 48.1 55.9 48.2 54.4C48.3 52.9 49.1 49.3 49.4 48.5Z" fill="#7f7f7f" stroke="#7f7f7f" stroke-width="1.6" stroke-linejoin="round"/>
<path d="M20.1 49.8C20.6 49.1 21.7 50.1 22.5 51.4C23.3 52.7 26.2 59.1 27.3 61C28.4 62.9 31.7 65.9 32.1 67.4C32.5 68.9 31.2 73 30.5 73.8C29.8 74.6 26.8 75.3 25.7 74.6C24.6 73.9 21.7 69.4 20.9 67.4C20.1 65.4 18.6 59.9 18.5 57.8C18.4 55.7 19.6 50.5 20.1 49.8Z" fill="#8c564b" stroke="#8c564b" stroke-width="1.6" stroke-linejoin="round"/>
<path d="M35.3 60.2C36.1 59.4 37.8 61.8 38.8 62.5C39.8 63.2 42.6 64.9 43.5 66C44.4 67.1 46.4 71.2 46.5 72.2C46.6 73.2 45.7 74.6 44.7 75C43.7 75.4 39.1 75.5 37.7 75.4C36.3 75.3 33.7 74.9 33 74.2C32.3 73.5 31.5 71.2 31.8 69.6C32.1 68 34.5 61 35.3 60.2Z" fill="#98df8a" stroke="#98df8a" stroke-width="1.6" stroke-linejoin="round"/>
<path d="M27.3 75.4C29.2 74.5 36.8 74.5 38.5 75.4C40.2 76.3 41.5 81.4 41.7 83.5C41.9 85.6 40.7 91.4 40.1 93.1C39.5 94.8 37.8 98.1 36.9 97.9C36 97.7 33.6 92.4 32.1 91.5C30.6 90.6 25.2 90.8 24.1 89.9C23 89 22.1 85.2 22.5 83.5C22.9 81.8 25.4 76.3 27.3 75.4Z" fill="#aec7e8" stroke="#aec7e8" stroke-width="1.6" stroke-linejoin="round" opacity="0.8"/>
<path d="M43.3 77C44.4 75.9 48.4 73.4 49.8 73.8C51.2 74.2 54.3 78.4 55.4 80.3C56.5 82.2 59.1 88.2 59.4 89.9C59.7 91.6 58.9 94 57.8 94.7C56.7 95.4 51.7 96.7 49.8 96.3C47.9 95.9 42.8 93 41.7 91.5C40.6 90 39.9 85.2 40.1 83.5C40.3 81.8 42.2 78.1 43.3 77Z" fill="#1f77b4" stroke="#1f77b4" stroke-width="1.6" stroke-linejoin="round"/>
<path d="M38.5 95.5C39.5 94.8 46.5 93.8 48.2 93.9C49.9 94 53.4 95.6 53 96.3C52.6 97 46.5 99 44.9 99.5C43.3 100 40 100.8 39.3 100.3C38.6 99.8 37.5 96.2 38.5 95.5Z" fill="#2ca02c" stroke="#2ca02c" stroke-width="1.6" stroke-linejoin="round"/>
<path d="M58.7 40.4C60.1 39.4 62.9 36.8 64.5 35.7C66.1 34.6 71.4 31.3 72.7 31C74 30.7 75.3 31.7 75.6 32.8C75.9 33.9 75.8 38.7 75.6 40.4C75.4 42.1 74.4 46 73.9 47.4C73.4 48.8 72.6 51.2 71.5 52C70.4 52.8 65.9 54.5 64.5 54.4C63.1 54.3 60.8 51.7 59.9 50.9C59 50.1 57.2 48.2 56.4 47.4C55.6 46.6 52.6 45.2 52.9 44.4C53.2 43.6 57.3 41.4 58.7 40.4Z" fill="#1f77b4" stroke="#1f77b4" stroke-width="1.6" stroke-linejoin="round"/>
<path d="M75.6 40.4C76 39 77.5 39.5 78.5 39.8C79.5 40.1 83.2 41.7 84.4 42.7C85.6 43.7 88.4 47.4 89.1 48.5C89.8 49.6 90.6 51.5 90.2 52C89.8 52.5 86.5 52.8 85.6 53.2C84.7 53.6 82.9 54.3 82.1 55.5C81.3 56.7 79.2 63.3 78.5 63.7C77.8 64.1 76.6 60.4 76.2 59C75.8 57.6 75.2 54.2 75.1 52C75 49.8 75.2 41.8 75.6 40.4Z" fill="#ffbb78" stroke="#ffbb78" stroke-width="1.6" stroke-linejoin="round"/>
<path d="M64.5 56.7C65 55.9 68 54.8 69.2 54.4C70.4 54 74.1 53.1 75.1 53.2C76.1 53.3 77.3 54.5 77.4 55.5C77.5 56.5 76.6 60.2 76.2 61.4C75.8 62.6 74.6 65.2 73.9 66C73.2 66.8 71.2 68.4 70.4 68.4C69.6 68.4 67.6 66.8 66.9 66C66.2 65.2 64.8 62.5 64.5 61.4C64.2 60.3 64 57.5 64.5 56.7Z" fill="#d62728" stroke="#d62728" stroke-width="1.6" stroke-linejoin="round"/>
<path d="M87.9 52C89.1 51.5 93.4 51.7 94.9 52C96.4 52.3 99.8 53.3 100.7 54.4C101.6 55.5 102.4 59.8 102.5 61.4C102.6 63 102.8 67.3 101.9 68.4C101 69.5 96.3 70.7 94.9 70.7C93.5 70.7 91.3 69.2 90.2 68.4C89.1 67.6 86.3 65.1 85.6 63.7C84.9 62.3 84.1 58.1 84.4 56.7C84.7 55.3 86.7 52.5 87.9 52Z" fill="#d62728" stroke="#d62728" stroke-width="1.6" stroke-linejoin="round"/>
<path d="M78.5 61.4C78.9 60.3 82.4 58.5 83.2 59C84 59.5 85.6 64.6 85.6 66C85.6 67.4 83.9 70.4 83.2 70.7C82.5 71 80.2 69.5 79.7 68.4C79.2 67.3 78.1 62.5 78.5 61.4Z" fill="#98df8a" stroke="#98df8a" stroke-width="1.6" stroke-linejoin="round"/>
<path d="M85 72C85.6 71.1 88.9 70.2 90.2 70C91.5 69.8 94.6 70.7 96 70.5C97.4 70.3 101.4 67.3 102 68.4C102.6 69.5 101.8 78.2 101.1 80.3C100.4 82.4 97.6 86.3 96.3 86.7C95 87.1 91.2 84.6 89.9 83.5C88.6 82.4 85.7 78.7 85.1 77.4C84.5 76.1 84.4 72.9 85 72Z" fill="#ff7f0e" stroke="#ff7f0e" stroke-width="1.6" stroke-linejoin="round"/>
<path d="M57.5 62.5C57.8 62 60.2 63 61 63.7C61.8 64.4 63.5 67.7 64.5 68.4C65.5 69.1 67.8 69.3 69.2 69.6C70.6 69.9 74.6 70.3 76.2 70.7C77.8 71.1 82.7 72.4 83.2 73.1C83.7 73.8 82 76.7 80.9 77C79.8 77.3 75.5 75.7 73.9 75.4C72.3 75.1 68.3 74.6 66.9 74.2C65.5 73.8 63.2 72.6 62.2 71.9C61.2 71.2 59.2 69.5 58.7 68.4C58.2 67.3 57.2 63 57.5 62.5Z" fill="#9467bd" stroke="#9467bd" stroke-width="1.6" stroke-linejoin="round"/>
<path d="M57.5 52C58.3 51.5 62.6 51.5 63.4 52C64.2 52.5 64.5 55.6 64.5 56.7C64.5 57.8 64.1 60.9 63.4 61.4C62.7 61.9 59.5 61.9 58.7 61.4C57.9 60.9 57 57.8 56.9 56.7C56.8 55.6 56.7 52.5 57.5 52Z" fill="#e377c2" stroke="#e377c2" stroke-width="1.6" stroke-linejoin="round"/>
<path d="M73.8 80.3C74.5 78.8 80.7 78 81.9 78.7C83.1 79.4 84.5 84.9 84.3 86.7C84.1 88.5 81.2 93.3 80.3 93.9C79.4 94.5 77 93.1 76.2 91.5C75.4 89.9 73.1 81.8 73.8 80.3Z" fill="#c7c7c7" stroke="#c7c7c7" stroke-width="1.6" stroke-linejoin="round" opacity="0.8"/>
<path d="M52.5 43.5C52.9 43 56 42.1 56.5 42.5C57 42.9 57.4 46.5 57 47C56.6 47.5 53.5 46.9 53 46.5C52.5 46.1 52.1 44 52.5 43.5Z" fill="#17becf" stroke="#17becf" stroke-width="1.6" stroke-linejoin="round"/>
</g>
<g id="lay30">
<path d="M17.6 25.7C18.1 24.8 21.3 24.4 22.9 24C24.5 23.6 29.6 22 31 22.2C32.4 22.4 33.7 24.3 34.5 25.7C35.3 27.1 37.9 32.4 38 33.9C38.1 35.4 36.6 37.8 35.7 38.6C34.8 39.4 31.4 40.5 29.9 40.9C28.4 41.3 24.4 41.8 22.9 42.1C21.4 42.4 17.5 43.7 17 43.2C16.5 42.7 18 38.8 18.2 37.4C18.4 36 18.9 33 18.8 31.6C18.7 30.2 17.1 26.6 17.6 25.7Z" fill="#ff7f0e" stroke="#ff7f0e" stroke-width="1.6" stroke-linejoin="round"/>
<path d="M11.8 33.9C12.1 33.3 16.1 31.8 17 32.1C17.9 32.4 19.4 35.8 19.4 36.8C19.4 37.8 17.5 40.8 17 40.9C16.5 41 15.3 38.2 14.7 37.4C14.1 36.6 11.5 34.5 11.8 33.9Z" fill="#7f7f7f" stroke="#7f7f7f" stroke-width="1.6" stroke-linejoin="round"/>
<path d="M5.9 47.9C6.6 47.1 9.8 45 11.2 44.4C12.6 43.8 16.6 42.8 18.2 42.6C19.8 42.4 23.7 42.4 25.2 42.6C26.7 42.8 30 43.6 31 44.4C32 45.2 33.4 48 33.4 49.1C33.4 50.2 32.1 52.9 31 53.7C29.9 54.5 25.5 55.7 24 56.1C22.5 56.5 19.6 57.1 18.2 57.2C16.8 57.3 13.5 57.5 12.3 57.2C11.1 56.9 8.5 55.6 7.7 54.9C6.9 54.2 5.5 52.2 5.3 51.4C5.1 50.6 5.2 48.7 5.9 47.9Z" fill="#aec7e8" stroke="#aec7e8" stroke-width="1.6" stroke-linejoin="round"/>
<path d="M33 46C33.6 45.2 37.8 45.6 39 47C40.2 48.4 42.6 55.8 43 58C43.4 60.2 42.7 65.5 42 66C41.3 66.5 37.9 63.4 37 62C36.1 60.6 34.5 55.9 34 54C33.5 52.1 32.4 46.8 33 46Z" fill="#dcd4da" stroke="#dcd4da" stroke-width="1.6" stroke-linejoin="round" opacity="0.6"/>
<path d="M15.9 57.8C16.6 57.1 21.4 55.2 22.9 54.9C24.4 54.6 27.9 55 28.7 55.5C29.5 56 30.2 58.7 29.9 59.6C29.6 60.5 27.4 62.4 26.4 63.1C25.4 63.8 22.6 65.3 21.7 65.4C20.8 65.5 19.3 64.8 18.8 64.3C18.3 63.8 17.3 61.5 17 60.7C16.7 59.9 15.2 58.5 15.9 57.8Z" fill="#ff9896" stroke="#ff9896" stroke-width="1.6" stroke-linejoin="round"/>
<path d="M27.5 57.2C28.3 56.4 32.2 54.8 33.4 54.9C34.6 55 37.3 57.3 38 58.4C38.7 59.5 39.3 62.9 39.2 64.3C39.1 65.7 37.6 69 36.9 70.1C36.2 71.2 34.4 73.3 33.4 73.6C32.4 73.9 29.5 73.7 28.7 73C27.9 72.3 26.7 69.1 26.4 67.8C26.1 66.5 26.3 63.1 26.4 61.9C26.5 60.7 26.7 58 27.5 57.2Z" fill="#ffbb78" stroke="#ffbb78" stroke-width="1.6" stroke-linejoin="round"/>
<path d="M36.9 37.4C37.8 36.8 42.7 34.6 43.9 34.5C45.1 34.4 46.7 35.2 47.4 36.2C48.1 37.2 49.6 41.7 49.7 43.2C49.8 44.7 48.9 47.9 48.6 49.1C48.3 50.3 47.9 52.9 47.4 53.7C46.9 54.5 44.6 56.5 43.9 56.1C43.2 55.7 42.2 51.6 41.5 50.2C40.8 48.8 38.6 45.6 38 44.4C37.4 43.2 36.4 40.5 36.3 39.7C36.2 38.9 36 38 36.9 37.4Z" fill="#d62728" stroke="#d62728" stroke-width="1.6" stroke-linejoin="round"/>
<path d="M49.7 46.7C50.7 46.1 53.3 46.4 54.4 46.7C55.5 47 58.4 48 59.1 49.1C59.8 50.2 60.1 54.3 60.2 56.1C60.3 57.9 59.9 62.7 60.2 64.3C60.5 65.9 62.1 69.2 62.6 70.1C63.1 71 64.4 70.4 64.2 72C64 73.6 62.1 82.3 61 83.5C59.9 84.7 56.1 82.7 54.6 81.9C53.1 81.1 49.2 78.3 48 77C46.8 75.7 44.8 72.8 44.5 71C44.2 69.2 44.9 64.1 45.1 61.9C45.3 59.7 45.7 53.8 46.2 52C46.7 50.2 48.7 47.3 49.7 46.7Z" fill="#1f77b4" stroke="#1f77b4" stroke-width="1.6" stroke-linejoin="round"/>
<path d="M60.2 64.3C60.8 64 64.1 68 64.9 69.5C65.7 71 67.5 74.9 67.4 77C67.3 79.1 65.1 86.6 64.2 87.5C63.3 88.4 60.2 86 59.4 85.1C58.6 84.2 57.5 81.5 57.5 80C57.5 78.5 59.1 73.8 59.4 72C59.7 70.2 59.6 64.6 60.2 64.3Z" fill="#2ca02c" stroke="#2ca02c" stroke-width="1.6" stroke-linejoin="round"/>
<path d="M26.5 84.3C26.9 83.5 29.3 82.6 30.5 82.7C31.7 82.8 35.8 84.8 36.9 85.1C38 85.4 39.8 84.4 40.1 85.1C40.4 85.8 39.9 90 39.3 91.5C38.7 93 36.7 96.8 35.3 97.9C33.9 99 28.4 101.3 27.3 101.1C26.2 100.9 25.7 97.6 25.7 96.3C25.7 95 27.2 91.3 27.3 89.9C27.4 88.5 26.1 85.1 26.5 84.3Z" fill="#ff7f0e" stroke="#ff7f0e" stroke-width="1.6" stroke-linejoin="round"/>
<path d="M54.6 15.2C55.1 14.2 58.5 13 60 12.5C61.5 12 66.2 11 67.4 11.2C68.6 11.4 70.2 13.3 70.6 14.4C71 15.5 71.4 19.5 71 21C70.6 22.5 68.3 26.4 67.2 26.9C66.1 27.4 62.8 26.4 61.4 25.7C60 25 56.4 22.2 55.6 21C54.8 19.8 54.1 16.2 54.6 15.2Z" fill="#98df8a" stroke="#98df8a" stroke-width="1.6" stroke-linejoin="round"/>
<path d="M73 5.6C73.4 4.9 75.1 5.6 75.4 6.4C75.7 7.2 75.8 12.1 75.4 12.8C75 13.5 72.5 13.6 72.2 12.8C71.9 12 72.6 6.3 73 5.6Z" fill="#bcbd22" stroke="#bcbd22" stroke-width="1.6" stroke-linejoin="round"/>
<path d="M70.6 16C71.5 14.7 77.2 12.6 78.7 12.8C80.2 13 83.1 16.4 83.5 17.7C83.9 19 82.8 23.1 81.9 24.1C81 25.1 76.7 26.5 75.4 26.5C74.1 26.5 71.2 25.3 70.6 24.1C70 22.9 69.7 17.3 70.6 16Z" fill="#9467bd" stroke="#9467bd" stroke-width="1.6" stroke-linejoin="round"/>
<path d="M81.9 20.9C82.6 20.5 89.4 21.9 91.5 22.5C93.6 23.1 98.5 24.8 99.5 25.7C100.5 26.6 100.9 30.1 100.3 30.5C99.7 30.9 96.5 29.5 94.7 28.9C92.9 28.3 86.6 26.6 85.1 25.7C83.6 24.8 81.2 21.3 81.9 20.9Z" fill="#c5b0d5" stroke="#c5b0d5" stroke-width="1.6" stroke-linejoin="round" opacity="0.75"/>
<path d="M50.9 30.4C51.2 29.3 54.4 26.1 55.6 25.7C56.8 25.3 60.2 26.2 61.4 26.9C62.6 27.6 65.3 30.2 66.1 31.6C66.9 33 68.3 37.1 68.4 38.6C68.5 40.1 67.7 44.1 67.2 44.4C66.7 44.7 64.8 41.9 63.7 40.9C62.6 39.9 59.1 36.9 57.9 36.2C56.7 35.5 54 35.8 53.2 35.1C52.4 34.4 50.6 31.5 50.9 30.4Z" fill="#d62728" stroke="#d62728" stroke-width="1.6" stroke-linejoin="round"/>
<path d="M67.2 30.4C67.5 29.3 70.8 28.8 71.9 29.2C73 29.6 75.9 32.7 76.6 33.9C77.3 35.1 78 38.7 77.7 39.7C77.4 40.7 75.2 42.2 74.3 42.1C73.4 42 70.4 40 69.6 38.6C68.8 37.2 66.9 31.5 67.2 30.4Z" fill="#9467bd" stroke="#9467bd" stroke-width="1.6" stroke-linejoin="round"/>
<path d="M72.2 27.3C72.6 26.5 81.4 25.9 83.5 26.5C85.6 27.1 89.5 31.2 89.9 32.1C90.3 33 87.8 34.3 86.7 34.5C85.6 34.7 82 34.5 80.3 33.7C78.6 32.9 71.8 28.1 72.2 27.3Z" fill="#f7b6d2" stroke="#f7b6d2" stroke-width="1.6" stroke-linejoin="round" opacity="0.7"/>
<path d="M78.7 35.3C79.3 34.5 84.1 35.2 85.1 36.1C86.1 37 87.7 41.9 87.5 43.3C87.3 44.7 84.7 47.1 83.5 48.2C82.3 49.3 77.9 52.8 77 53C76.1 53.2 75 50.9 75.4 49.8C75.8 48.7 79.9 45 80.3 43.3C80.7 41.6 78.1 36.1 78.7 35.3Z" fill="#e377c2" stroke="#e377c2" stroke-width="1.6" stroke-linejoin="round"/>
<path d="M87.5 38.5C88.2 37.2 93.3 36.7 94.7 36.9C96.1 37.1 98.6 39 99.5 40.1C100.4 41.2 102.9 45.6 102.7 46.6C102.5 47.6 99.6 48.8 97.9 49C96.2 49.2 89.5 49.4 88.3 48.2C87.1 47 86.8 39.8 87.5 38.5Z" fill="#c49c94" stroke="#c49c94" stroke-width="1.6" stroke-linejoin="round"/>
<path d="M77 58.6C77.6 57.7 82.3 53.3 83.5 53C84.7 52.7 87.3 55.3 87.5 56.2C87.7 57.1 86.1 60.4 85.1 61C84.1 61.6 79.6 61.3 78.7 61C77.8 60.7 76.4 59.5 77 58.6Z" fill="#c7c7c7" stroke="#c7c7c7" stroke-width="1.6" stroke-linejoin="round" opacity="0.7"/>
<path d="M86.7 57.8C87.8 56.7 93 54.3 94.7 54.6C96.4 54.9 100.5 58.1 101.1 60.2C101.7 62.3 99.9 69.9 99.5 72.2C99.1 74.5 98.8 78.7 97.9 79.5C97 80.3 92.9 79.6 91.5 78.7C90.1 77.8 86.6 73.9 85.9 72.2C85.2 70.5 85 65.9 85.1 64.2C85.2 62.5 85.6 58.9 86.7 57.8Z" fill="#2ca02c" stroke="#2ca02c" stroke-width="1.6" stroke-linejoin="round"/>
<path d="M81.1 64.2C81.8 62.9 85.9 62.7 86.7 63.4C87.5 64.1 88.5 69.2 88.3 70.6C88.1 72 86 74.9 85.1 75.4C84.2 75.9 80.8 75.9 80.3 74.6C79.8 73.3 80.4 65.5 81.1 64.2Z" fill="#8c564b" stroke="#8c564b" stroke-width="1.6" stroke-linejoin="round"/>
<path d="M41 15.2 L45.1 21" stroke="#17becf" stroke-width="0.9" fill="none"/>
<path d="M56.7 35.6 L57.9 39.1" stroke="#17becf" stroke-width="1.0" fill="none"/>
<path d="M62.6 39.7 L71.9 57.2" stroke="#bcbd22" stroke-width="0.9" fill="none"/>
<path d="M81 12 L93 12" stroke="#c7c7c7" stroke-width="1.2" fill="none"/>
</g>
<g id="lay31">
<path d="M17.6 25.7C18.1 24.8 21.3 24.4 22.9 24C24.5 23.6 29.6 22 31 22.2C32.4 22.4 33.7 24.3 34.5 25.7C35.3 27.1 37.9 32.4 38 33.9C38.1 35.4 36.6 37.8 35.7 38.6C34.8 39.4 31.4 40.5 29.9 40.9C28.4 41.3 24.4 41.8 22.9 42.1C21.4 42.4 17.5 43.7 17 43.2C16.5 42.7 18 38.8 18.2 37.4C18.4 36 18.9 33 18.8 31.6C18.7 30.2 17.1 26.6 17.6 25.7Z" fill="#ff7f0e" stroke="#ff7f0e" stroke-width="1.6" stroke-linejoin="round"/>
<path d="M11.8 33.9C12.1 33.3 16.1 31.8 17 32.1C17.9 32.4 19.4 35.8 19.4 36.8C19.4 37.8 17.5 40.8 17 40.9C16.5 41 15.3 38.2 14.7 37.4C14.1 36.6 11.5 34.5 11.8 33.9Z" fill="#7f7f7f" stroke="#7f7f7f" stroke-width="1.6" stroke-linejoin="round"/>
<path d="M5.9 47.9C6.6 47.1 9.8 45 11.2 44.4C12.6 43.8 16.6 42.8 18.2 42.6C19.8 42.4 23.7 42.4 25.2 42.6C26.7 42.8 30 43.6 31 44.4C32 45.2 33.4 48 33.4 49.1C33.4 50.2 32.1 52.9 31 53.7C29.9 54.5 25.5 55.7 24 56.1C22.5 56.5 19.6 57.1 18.2 57.2C16.8 57.3 13.5 57.5 12.3 57.2C11.1 56.9 8.5 55.6 7.7 54.9C6.9 54.2 5.5 52.2 5.3 51.4C5.1 50.6 5.2 48.7 5.9 47.9Z" fill="#aec7e8" stroke="#aec7e8" stroke-width="1.6" stroke-linejoin="round"/>
<path d="M33 46C33.6 45.2 37.8 45.6 39 47C40.2 48.4 42.6 55.8 43 58C43.4 60.2 42.7 65.5 42 66C41.3 66.5 37.9 63.4 37 62C36.1 60.6 34.5 55.9 34 54C33.5 52.1 32.4 46.8 33 46Z" fill="#dcd4da" stroke="#dcd4da" stroke-width="1.6" stroke-linejoin="round" opacity="0.6"/>
<path d="M15.9 57.8C16.6 57.1 21.4 55.2 22.9 54.9C24.4 54.6 27.9 55 28.7 55.5C29.5 56 30.2 58.7 29.9 59.6C29.6 60.5 27.4 62.4 26.4 63.1C25.4 63.8 22.6 65.3 21.7 65.4C20.8 65.5 19.3 64.8 18.8 64.3C18.3 63.8 17.3 61.5 17 60.7C16.7 59.9 15.2 58.5 15.9 57.8Z" fill="#ff9896" stroke="#ff9896" stroke-width="1.6" stroke-linejoin="round"/>
<path d="M27.5 57.2C28.3 56.4 32.2 54.8 33.4 54.9C34.6 55 37.3 57.3 38 58.4C38.7 59.5 39.3 62.9 39.2 64.3C39.1 65.7 37.6 69 36.9 70.1C36.2 71.2 34.4 73.3 33.4 73.6C32.4 73.9 29.5 73.7 28.7 73C27.9 72.3 26.7 69.1 26.4 67.8C26.1 66.5 26.3 63.1 26.4 61.9C26.5 60.7 26.7 58 27.5 57.2Z" fill="#ffbb78" stroke="#ffbb78" stroke-width="1.6" stroke-linejoin="round"/>
<path d="M36.9 37.4C37.8 36.8 42.7 34.6 43.9 34.5C45.1 34.4 46.7 35.2 47.4 36.2C48.1 37.2 49.6 41.7 49.7 43.2C49.8 44.7 48.9 47.9 48.6 49.1C48.3 50.3 47.9 52.9 47.4 53.7C46.9 54.5 44.6 56.5 43.9 56.1C43.2 55.7 42.2 51.6 41.5 50.2C40.8 48.8 38.6 45.6 38 44.4C37.4 43.2 36.4 40.5 36.3 39.7C36.2 38.9 36 38 36.9 37.4Z" fill="#d62728" stroke="#d62728" stroke-width="1.6" stroke-linejoin="round"/>
<path d="M49.7 46.7C50.7 46.1 53.3 46.4 54.4 46.7C55.5 47 58.4 48 59.1 49.1C59.8 50.2 60.1 54.3 60.2 56.1C60.3 57.9 59.9 62.7 60.2 64.3C60.5 65.9 62.1 69.2 62.6 70.1C63.1 71 64.4 70.4 64.2 72C64 73.6 62.1 82.3 61 83.5C59.9 84.7 56.1 82.7 54.6 81.9C53.1 81.1 49.2 78.3 48 77C46.8 75.7 44.8 72.8 44.5 71C44.2 69.2 44.9 64.1 45.1 61.9C45.3 59.7 45.7 53.8 46.2 52C46.7 50.2 48.7 47.3 49.7 46.7Z" fill="#1f77b4" stroke="#1f77b4" stroke-width="1.6" stroke-linejoin="round"/>
<path d="M60.2 64.3C60.8 64 64.1 68 64.9 69.5C65.7 71 67.5 74.9 67.4 77C67.3 79.1 65.1 86.6 64.2 87.5C63.3 88.4 60.2 86 59.4 85.1C58.6 84.2 57.5 81.5 57.5 80C57.5 78.5 59.1 73.8 59.4 72C59.7 70.2 59.6 64.6 60.2 64.3Z" fill="#2ca02c" stroke="#2ca02c" stroke-width="1.6" stroke-linejoin="round"/>
<path d="M26.5 84.3C26.9 83.5 29.3 82.6 30.5 82.7C31.7 82.8 35.8 84.8 36.9 85.1C38 85.4 39.8 84.4 40.1 85.1C40.4 85.8 39.9 90 39.3 91.5C38.7 93 36.7 96.8 35.3 97.9C33.9 99 28.4 101.3 27.3 101.1C26.2 100.9 25.7 97.6 25.7 96.3C25.7 95 27.2 91.3 27.3 89.9C27.4 88.5 26.1 85.1 26.5 84.3Z" fill="#ff7f0e" stroke="#ff7f0e" stroke-width="1.6" stroke-linejoin="round"/>
<path d="M54.6 15.2C55.1 14.2 58.5 13 60 12.5C61.5 12 66.2 11 67.4 11.2C68.6 11.4 70.2 13.3 70.6 14.4C71 15.5 71.4 19.5 71 21C70.6 22.5 68.3 26.4 67.2 26.9C66.1 27.4 62.8 26.4 61.4 25.7C60 25 56.4 22.2 55.6 21C54.8 19.8 54.1 16.2 54.6 15.2Z" fill="#98df8a" stroke="#98df8a" stroke-width="1.6" stroke-linejoin="round"/>
<path d="M73 5.6C73.4 4.9 75.1 5.6 75.4 6.4C75.7 7.2 75.8 12.1 75.4 12.8C75 13.5 72.5 13.6 72.2 12.8C71.9 12 72.6 6.3 73 5.6Z" fill="#bcbd22" stroke="#bcbd22" stroke-width="1.6" stroke-linejoin="round"/>
<path d="M70.6 16C71.5 14.7 77.2 12.6 78.7 12.8C80.2 13 83.1 16.4 83.5 17.7C83.9 19 82.8 23.1 81.9 24.1C81 25.1 76.7 26.5 75.4 26.5C74.1 26.5 71.2 25.3 70.6 24.1C70 22.9 69.7 17.3 70.6 16Z" fill="#9467bd" stroke="#9467bd" stroke-width="1.6" stroke-linejoin="round"/>
<path d="M81.9 20.9C82.6 20.5 89.4 21.9 91.5 22.5C93.6 23.1 98.5 24.8 99.5 25.7C100.5 26.6 100.9 30.1 100.3 30.5C99.7 30.9 96.5 29.5 94.7 28.9C92.9 28.3 86.6 26.6 85.1 25.7C83.6 24.8 81.2 21.3 81.9 20.9Z" fill="#c5b0d5" stroke="#c5b0d5" stroke-width="1.6" stroke-linejoin="round" opacity="0.75"/>
<path d="M50.9 30.4C51.2 29.3 54.4 26.1 55.6 25.7C56.8 25.3 60.2 26.2 61.4 26.9C62.6 27.6 65.3 30.2 66.1 31.6C66.9 33 68.3 37.1 68.4 38.6C68.5 40.1 67.7 44.1 67.2 44.4C66.7 44.7 64.8 41.9 63.7 40.9C62.6 39.9 59.1 36.9 57.9 36.2C56.7 35.5 54 35.8 53.2 35.1C52.4 34.4 50.6 31.5 50.9 30.4Z" fill="#d62728" stroke="#d62728" stroke-width="1.6" stroke-linejoin="round"/>
<path d="M67.2 30.4C67.5 29.3 70.8 28.8 71.9 29.2C73 29.6 75.9 32.7 76.6 33.9C77.3 35.1 78 38.7 77.7 39.7C77.4 40.7 75.2 42.2 74.3 42.1C73.4 42 70.4 40 69.6 38.6C68.8 37.2 66.9 31.5 67.2 30.4Z" fill="#9467bd" stroke="#9467bd" stroke-width="1.6" stroke-linejoin="round"/>
<path d="M72.2 27.3C72.6 26.5 81.4 25.9 83.5 26.5C85.6 27.1 89.5 31.2 89.9 32.1C90.3 33 87.8 34.3 86.7 34.5C85.6 34.7 82 34.5 80.3 33.7C78.6 32.9 71.8 28.1 72.2 27.3Z" fill="#f7b6d2" stroke="#f7b6d2" stroke-width="1.6" stroke-linejoin="round" opacity="0.7"/>
<path d="M78.7 35.3C79.3 34.5 84.1 35.2 85.1 36.1C86.1 37 87.7 41.9 87.5 43.3C87.3 44.7 84.7 47.1 83.5 48.2C82.3 49.3 77.9 52.8 77 53C76.1 53.2 75 50.9 75.4 49.8C75.8 48.7 79.9 45 80.3 43.3C80.7 41.6 78.1 36.1 78.7 35.3Z" fill="#e377c2" stroke="#e377c2" stroke-width="1.6" stroke-linejoin="round"/>
<path d="M87.5 38.5C88.2 37.2 93.3 36.7 94.7 36.9C96.1 37.1 98.6 39 99.5 40.1C100.4 41.2 102.9 45.6 102.7 46.6C102.5 47.6 99.6 48.8 97.9 49C96.2 49.2 89.5 49.4 88.3 48.2C87.1 47 86.8 39.8 87.5 38.5Z" fill="#c49c94" stroke="#c49c94" stroke-width="1.6" stroke-linejoin="round"/>
<path d="M77 58.6C77.6 57.7 82.3 53.3 83.5 53C84.7 52.7 87.3 55.3 87.5 56.2C87.7 57.1 86.1 60.4 85.1 61C84.1 61.6 79.6 61.3 78.7 61C77.8 60.7 76.4 59.5 77 58.6Z" fill="#c7c7c7" stroke="#c7c7c7" stroke-width="1.6" stroke-linejoin="round" opacity="0.7"/>
<path d="M86.7 57.8C87.8 56.7 93 54.3 94.7 54.6C96.4 54.9 100.5 58.1 101.1 60.2C101.7 62.3 99.9 69.9 99.5 72.2C99.1 74.5 98.8 78.7 97.9 79.5C97 80.3 92.9 79.6 91.5 78.7C90.1 77.8 86.6 73.9 85.9 72.2C85.2 70.5 85 65.9 85.1 64.2C85.2 62.5 85.6 58.9 86.7 57.8Z" fill="#2ca02c" stroke="#2ca02c" stroke-width="1.6" stroke-linejoin="round"/>
<path d="M81.1 64.2C81.8 62.9 85.9 62.7 86.7 63.4C87.5 64.1 88.5 69.2 88.3 70.6C88.1 72 86 74.9 85.1 75.4C84.2 75.9 80.8 75.9 80.3 74.6C79.8 73.3 80.4 65.5 81.1 64.2Z" fill="#8c564b" stroke="#8c564b" stroke-width="1.6" stroke-linejoin="round"/>
<path d="M41 15.2 L45.1 21" stroke="#17becf" stroke-width="0.9" fill="none"/>
<path d="M56.7 35.6 L57.9 39.1" stroke="#17becf" stroke-width="1.0" fill="none"/>
<path d="M62.6 39.7 L71.9 57.2" stroke="#bcbd22" stroke-width="0.9" fill="none"/>
<path d="M81 12 L93 12" stroke="#c7c7c7" stroke-width="1.2" fill="none"/>
</g>
<g id="lay32">
<path d="M17.6 25.7C18.1 24.8 21.3 24.4 22.9 24C24.5 23.6 29.6 22 31 22.2C32.4 22.4 33.7 24.3 34.5 25.7C35.3 27.1 37.9 32.4 38 33.9C38.1 35.4 36.6 37.8 35.7 38.6C34.8 39.4 31.4 40.5 29.9 40.9C28.4 41.3 24.4 41.8 22.9 42.1C21.4 42.4 17.5 43.7 17 43.2C16.5 42.7 18 38.8 18.2 37.4C18.4 36 18.9 33 18.8 31.6C18.7 30.2 17.1 26.6 17.6 25.7Z" fill="#ff7f0e" stroke="#ff7f0e" stroke-width="1.6" stroke-linejoin="round"/>
<path d="M11.8 33.9C12.1 33.3 16.1 31.8 17 32.1C17.9 32.4 19.4 35.8 19.4 36.8C19.4 37.8 17.5 40.8 17 40.9C16.5 41 15.3 38.2 14.7 37.4C14.1 36.6 11.5 34.5 11.8 33.9Z" fill="#7f7f7f" stroke="#7f7f7f" stroke-width="1.6" stroke-linejoin="round"/>
<path d="M5.9 47.9C6.6 47.1 9.8 45 11.2 44.4C12.6 43.8 16.6 42.8 18.2 42.6C19.8 42.4 23.7 42.4 25.2 42.6C26.7 42.8 30 43.6 31 44.4C32 45.2 33.4 48 33.4 49.1C33.4 50.2 32.1 52.9 31 53.7C29.9 54.5 25.5 55.7 24 56.1C22.5 56.5 19.6 57.1 18.2 57.2C16.8 57.3 13.5 57.5 12.3 57.2C11.1 56.9 8.5 55.6 7.7 54.9C6.9 54.2 5.5 52.2 5.3 51.4C5.1 50.6 5.2 48.7 5.9 47.9Z" fill="#aec7e8" stroke="#aec7e8" stroke-width="1.6" stroke-linejoin="round"/>
<path d="M33 46C33.6 45.2 37.8 45.6 39 47C40.2 48.4 42.6 55.8 43 58C43.4 60.2 42.7 65.5 42 66C41.3 66.5 37.9 63.4 37 62C36.1 60.6 34.5 55.9 34 54C33.5 52.1 32.4 46.8 33 46Z" fill="#dcd4da" stroke="#dcd4da" stroke-width="1.6" stroke-linejoin="round" opacity="0.6"/>
<path d="M15.9 57.8C16.6 57.1 21.4 55.2 22.9 54.9C24.4 54.6 27.9 55 28.7 55.5C29.5 56 30.2 58.7 29.9 59.6C29.6 60.5 27.4 62.4 26.4 63.1C25.4 63.8 22.6 65.3 21.7 65.4C20.8 65.5 19.3 64.8 18.8 64.3C18.3 63.8 17.3 61.5 17 60.7C16.7 59.9 15.2 58.5 15.9 57.8Z" fill="#ff9896" stroke="#ff9896" stroke-width="1.6" stroke-linejoin="round"/>
<path d="M27.5 57.2C28.3 56.4 32.2 54.8 33.4 54.9C34.6 55 37.3 57.3 38 58.4C38.7 59.5 39.3 62.9 39.2 64.3C39.1 65.7 37.6 69 36.9 70.1C36.2 71.2 34.4 73.3 33.4 73.6C32.4 73.9 29.5 73.7 28.7 73C27.9 72.3 26.7 69.1 26.4 67.8C26.1 66.5 26.3 63.1 26.4 61.9C26.5 60.7 26.7 58 27.5 57.2Z" fill="#ffbb78" stroke="#ffbb78" stroke-width="1.6" stroke-linejoin="round"/>
<path d="M36.9 37.4C37.8 36.8 42.7 34.6 43.9 34.5C45.1 34.4 46.7 35.2 47.4 36.2C48.1 37.2 49.6 41.7 49.7 43.2C49.8 44.7 48.9 47.9 48.6 49.1C48.3 50.3 47.9 52.9 47.4 53.7C46.9 54.5 44.6 56.5 43.9 56.1C43.2 55.7 42.2 51.6 41.5 50.2C40.8 48.8 38.6 45.6 38 44.4C37.4 43.2 36.4 40.5 36.3 39.7C36.2 38.9 36 38 36.9 37.4Z" fill="#d62728" stroke="#d62728" stroke-width="1.6" stroke-linejoin="round"/>
<path d="M49.7 46.7C50.7 46.1 53.3 46.4 54.4 46.7C55.5 47 58.4 48 59.1 49.1C59.8 50.2 60.1 54.3 60.2 56.1C60.3 57.9 59.9 62.7 60.2 64.3C60.5 65.9 62.1 69.2 62.6 70.1C63.1 71 64.4 70.4 64.2 72C64 73.6 62.1 82.3 61 83.5C59.9 84.7 56.1 82.7 54.6 81.9C53.1 81.1 49.2 78.3 48 77C46.8 75.7 44.8 72.8 44.5 71C44.2 69.2 44.9 64.1 45.1 61.9C45.3 59.7 45.7 53.8 46.2 52C46.7 50.2 48.7 47.3 49.7 46.7Z" fill="#1f77b4" stroke="#1f77b4" stroke-width="1.6" stroke-linejoin="round"/>
<path d="M60.2 64.3C60.8 64 64.1 68 64.9 69.5C65.7 71 67.5 74.9 67.4 77C67.3 79.1 65.1 86.6 64.2 87.5C63.3 88.4 60.2 86 59.4 85.1C58.6 84.2 57.5 81.5 57.5 80C57.5 78.5 59.1 73.8 59.4 72C59.7 70.2 59.6 64.6 60.2 64.3Z" fill="#98df8a" stroke="#98df8a" stroke-width="1.6" stroke-linejoin="round"/>
<path d="M26.5 84.3C26.9 83.5 29.3 82.6 30.5 82.7C31.7 82.8 35.8 84.8 36.9 85.1C38 85.4 39.8 84.4 40.1 85.1C40.4 85.8 39.9 90 39.3 91.5C38.7 93 36.7 96.8 35.3 97.9C33.9 99 28.4 101.3 27.3 101.1C26.2 100.9 25.7 97.6 25.7 96.3C25.7 95 27.2 91.3 27.3 89.9C27.4 88.5 26.1 85.1 26.5 84.3Z" fill="#ff7f0e" stroke="#ff7f0e" stroke-width="1.6" stroke-linejoin="round"/>
<path d="M54.6 15.2C55.1 14.2 58.5 13 60 12.5C61.5 12 66.2 11 67.4 11.2C68.6 11.4 70.2 13.3 70.6 14.4C71 15.5 71.4 19.5 71 21C70.6 22.5 68.3 26.4 67.2 26.9C66.1 27.4 62.8 26.4 61.4 25.7C60 25 56.4 22.2 55.6 21C54.8 19.8 54.1 16.2 54.6 15.2Z" fill="#98df8a" stroke="#98df8a" stroke-width="1.6" stroke-linejoin="round"/>
<path d="M73 5.6C73.4 4.9 75.1 5.6 75.4 6.4C75.7 7.2 75.8 12.1 75.4 12.8C75 13.5 72.5 13.6 72.2 12.8C71.9 12 72.6 6.3 73 5.6Z" fill="#bcbd22" stroke="#bcbd22" stroke-width="1.6" stroke-linejoin="round"/>
<path d="M70.6 16C71.5 14.7 77.2 12.6 78.7 12.8C80.2 13 83.1 16.4 83.5 17.7C83.9 19 82.8 23.1 81.9 24.1C81 25.1 76.7 26.5 75.4 26.5C74.1 26.5 71.2 25.3 70.6 24.1C70 22.9 69.7 17.3 70.6 16Z" fill="#c5b0d5" stroke="#c5b0d5" stroke-width="1.6" stroke-linejoin="round"/>
<path d="M81.9 20.9C82.6 20.5 89.4 21.9 91.5 22.5C93.6 23.1 98.5 24.8 99.5 25.7C100.5 26.6 100.9 30.1 100.3 30.5C99.7 30.9 96.5 29.5 94.7 28.9C92.9 28.3 86.6 26.6 85.1 25.7C83.6 24.8 81.2 21.3 81.9 20.9Z" fill="#8c564b" stroke="#8c564b" stroke-width="1.6" stroke-linejoin="round" opacity="0.75"/>
<path d="M50.9 30.4C51.2 29.3 54.4 26.1 55.6 25.7C56.8 25.3 60.2 26.2 61.4 26.9C62.6 27.6 65.3 30.2 66.1 31.6C66.9 33 68.3 37.1 68.4 38.6C68.5 40.1 67.7 44.1 67.2 44.4C66.7 44.7 64.8 41.9 63.7 40.9C62.6 39.9 59.1 36.9 57.9 36.2C56.7 35.5 54 35.8 53.2 35.1C52.4 34.4 50.6 31.5 50.9 30.4Z" fill="#ff9896" stroke="#ff9896" stroke-width="1.6" stroke-linejoin="round"/>
<path d="M67.2 30.4C67.5 29.3 70.8 28.8 71.9 29.2C73 29.6 75.9 32.7 76.6 33.9C77.3 35.1 78 38.7 77.7 39.7C77.4 40.7 75.2 42.2 74.3 42.1C73.4 42 70.4 40 69.6 38.6C68.8 37.2 66.9 31.5 67.2 30.4Z" fill="#9467bd" stroke="#9467bd" stroke-width="1.6" stroke-linejoin="round"/>
<path d="M72.2 27.3C72.6 26.5 81.4 25.9 83.5 26.5C85.6 27.1 89.5 31.2 89.9 32.1C90.3 33 87.8 34.3 86.7 34.5C85.6 34.7 82 34.5 80.3 33.7C78.6 32.9 71.8 28.1 72.2 27.3Z" fill="#f7b6d2" stroke="#f7b6d2" stroke-width="1.6" stroke-linejoin="round" opacity="0.7"/>
<path d="M78.7 35.3C79.3 34.5 84.1 35.2 85.1 36.1C86.1 37 87.7 41.9 87.5 43.3C87.3 44.7 84.7 47.1 83.5 48.2C82.3 49.3 77.9 52.8 77 53C76.1 53.2 75 50.9 75.4 49.8C75.8 48.7 79.9 45 80.3 43.3C80.7 41.6 78.1 36.1 78.7 35.3Z" fill="#e377c2" stroke="#e377c2" stroke-width="1.6" stroke-linejoin="round"/>
<path d="M87.5 38.5C88.2 37.2 93.3 36.7 94.7 36.9C96.1 37.1 98.6 39 99.5 40.1C100.4 41.2 102.9 45.6 102.7 46.6C102.5 47.6 99.6 48.8 97.9 49C96.2 49.2 89.5 49.4 88.3 48.2C87.1 47 86.8 39.8 87.5 38.5Z" fill="#e377c2" stroke="#e377c2" stroke-width="1.6" stroke-linejoin="round"/>
<path d="M77 58.6C77.6 57.7 82.3 53.3 83.5 53C84.7 52.7 87.3 55.3 87.5 56.2C87.7 57.1 86.1 60.4 85.1 61C84.1 61.6 79.6 61.3 78.7 61C77.8 60.7 76.4 59.5 77 58.6Z" fill="#c7c7c7" stroke="#c7c7c7" stroke-width="1.6" stroke-linejoin="round" opacity="0.7"/>
<path d="M86.7 57.8C87.8 56.7 93 54.3 94.7 54.6C96.4 54.9 100.5 58.1 101.1 60.2C101.7 62.3 99.9 69.9 99.5 72.2C99.1 74.5 98.8 78.7 97.9 79.5C97 80.3 92.9 79.6 91.5 78.7C90.1 77.8 86.6 73.9 85.9 72.2C85.2 70.5 85 65.9 85.1 64.2C85.2 62.5 85.6 58.9 86.7 57.8Z" fill="#2ca02c" stroke="#2ca02c" stroke-width="1.6" stroke-linejoin="round"/>
<path d="M81.1 64.2C81.8 62.9 85.9 62.7 86.7 63.4C87.5 64.1 88.5 69.2 88.3 70.6C88.1 72 86 74.9 85.1 75.4C84.2 75.9 80.8 75.9 80.3 74.6C79.8 73.3 80.4 65.5 81.1 64.2Z" fill="#8c564b" stroke="#8c564b" stroke-width="1.6" stroke-linejoin="round"/>
<path d="M41 15.2 L45.1 21" stroke="#17becf" stroke-width="0.9" fill="none"/>
<path d="M56.7 35.6 L57.9 39.1" stroke="#17becf" stroke-width="1.0" fill="none"/>
<path d="M62.6 39.7 L71.9 57.2" stroke="#17becf" stroke-width="0.9" fill="none"/>
<path d="M81 12 L93 12" stroke="#c7c7c7" stroke-width="1.2" fill="none"/>
</g>
</defs>
<use href="#lay00" transform="translate(33.5 249)" filter="url(#soft)"/>
<use href="#lay01" transform="translate(143.2 249)" mask="url(#mk1)"/>
<use href="#lay02" transform="translate(252.8 249)" mask="url(#mk2)"/>
<use href="#lay10" transform="translate(33.5 356)" filter="url(#soft)"/>
<use href="#lay11" transform="translate(143.2 356)" mask="url(#mk1)"/>
<use href="#lay12" transform="translate(252.8 356)" mask="url(#mk2)"/>
<use href="#lay20" transform="translate(33.5 463)" filter="url(#soft)"/>
<use href="#lay21" transform="translate(143.2 463)" mask="url(#mk1)"/>
<use href="#lay22" transform="translate(252.8 463)" mask="url(#mk2)"/>
<use href="#lay30" transform="translate(33.5 569.8)" filter="url(#soft)"/>
<use href="#lay31" transform="translate(143.2 569.8)" mask="url(#mk1)"/>
<use href="#lay32" transform="translate(252.8 569.8)" mask="url(#mk2)"/>
<line x1="33.5" x2="33.5" y1="249.0" y2="676.8" class="gr"/>
<line x1="143.2" x2="143.2" y1="249.0" y2="676.8" class="gr"/>
<line x1="252.8" x2="252.8" y1="249.0" y2="676.8" class="gr"/>
<line x1="362.0" x2="362.0" y1="249.0" y2="676.8" class="gr"/>
<line x1="33.5" x2="362.0" y1="249.0" y2="249.0" class="gr"/>
<line x1="33.5" x2="362.0" y1="356.0" y2="356.0" class="gr"/>
<line x1="33.5" x2="362.0" y1="463.0" y2="463.0" class="gr"/>
<line x1="33.5" x2="362.0" y1="569.8" y2="569.8" class="gr"/>
<line x1="33.5" x2="362.0" y1="676.8" y2="676.8" class="gr"/>
<text x="140.2" y="258.9" class="pc" text-anchor="end">100%</text>
<text x="251.6" y="258.9" class="pc" text-anchor="end">3.55%</text>
<text x="360.8" y="258.9" class="pc" text-anchor="end">0.62%</text>
<text transform="translate(29.6 302.5) rotate(-90)" class="rl" text-anchor="middle">600K cell dataset</text>
<text x="140.2" y="365.9" class="pc" text-anchor="end">100%</text>
<text x="251.6" y="365.9" class="pc" text-anchor="end">4.39%</text>
<text x="360.8" y="365.9" class="pc" text-anchor="end">0.84%</text>
<text transform="translate(29.6 409.5) rotate(-90)" class="rl" text-anchor="middle">1M cell dataset</text>
<text x="140.2" y="472.9" class="pc" text-anchor="end">100%</text>
<text x="251.6" y="472.9" class="pc" text-anchor="end">5.29%</text>
<text x="360.8" y="472.9" class="pc" text-anchor="end">0.99%</text>
<text transform="translate(29.6 516.4) rotate(-90)" class="rl" text-anchor="middle">2M cell dataset</text>
<text x="140.2" y="579.7" class="pc" text-anchor="end">100%</text>
<text x="251.6" y="579.7" class="pc" text-anchor="end">4.68%</text>
<text x="360.8" y="579.7" class="pc" text-anchor="end">0.84%</text>
<text transform="translate(29.6 623.3) rotate(-90)" class="rl" text-anchor="middle">4M cell dataset</text>
<text x="379.6" y="243.2" class="lab">e</text>
<rect x="422.3" y="258.9" width="11.3" height="77.8" fill="#3a78b3" stroke="#222" stroke-width="0.7"/>
<circle cx="427.95" cy="258.9" r="1.35" fill="#c8c8c8" stroke="#222" stroke-width="0.6"/>
<rect x="436.15" y="260.46" width="11.3" height="76.24" fill="#3a78b3" stroke="#222" stroke-width="0.7"/>
<circle cx="441.8" cy="260.46" r="1.35" fill="#c8c8c8" stroke="#222" stroke-width="0.6"/>
<rect x="449.85" y="265.12" width="11.3" height="71.58" fill="#3a78b3" stroke="#222" stroke-width="0.7"/>
<circle cx="455.5" cy="265.12" r="1.35" fill="#c8c8c8" stroke="#222" stroke-width="0.6"/>
<rect x="477.15" y="321.92" width="11.3" height="14.78" fill="#a6a6a6" stroke="#222" stroke-width="0.7"/>
<circle cx="482.8" cy="321.92" r="1.35" fill="#c8c8c8" stroke="#222" stroke-width="0.6"/>
<circle cx="482.8" cy="322.82" r="1.35" fill="#c8c8c8" stroke="#222" stroke-width="0.6"/>
<rect x="490.95" y="326.97" width="11.3" height="9.73" fill="#a6a6a6" stroke="#222" stroke-width="0.7"/>
<circle cx="496.6" cy="326.97" r="1.35" fill="#c8c8c8" stroke="#222" stroke-width="0.6"/>
<circle cx="496.6" cy="327.87" r="1.35" fill="#c8c8c8" stroke="#222" stroke-width="0.6"/>
<rect x="504.65" y="327.75" width="11.3" height="8.95" fill="#a6a6a6" stroke="#222" stroke-width="0.7"/>
<circle cx="510.3" cy="327.75" r="1.35" fill="#c8c8c8" stroke="#222" stroke-width="0.6"/>
<circle cx="510.3" cy="328.65" r="1.35" fill="#c8c8c8" stroke="#222" stroke-width="0.6"/>
<rect x="417.6" y="254.7" width="102.7" height="82" fill="none" stroke="#b5b5b5" stroke-width="0.6"/>
<line x1="417.6" x2="417.6" y1="254.7" y2="336.7" stroke="#888" stroke-width="0.6"/>
<line x1="417.6" x2="520.3" y1="336.7" y2="336.7" stroke="#555" stroke-width="0.6"/>
<line x1="415.40000000000003" x2="417.6" y1="336.7" y2="336.7" stroke="#444" stroke-width="0.6"/>
<text x="414" y="339.2" class="et" text-anchor="end">0</text>
<line x1="415.40000000000003" x2="417.6" y1="321.14" y2="321.14" stroke="#444" stroke-width="0.6"/>
<text x="414" y="323.64" class="et" text-anchor="end">20</text>
<line x1="415.40000000000003" x2="417.6" y1="305.58" y2="305.58" stroke="#444" stroke-width="0.6"/>
<text x="414" y="308.08" class="et" text-anchor="end">40</text>
<line x1="415.40000000000003" x2="417.6" y1="290.02" y2="290.02" stroke="#444" stroke-width="0.6"/>
<text x="414" y="292.52" class="et" text-anchor="end">60</text>
<line x1="415.40000000000003" x2="417.6" y1="274.46" y2="274.46" stroke="#444" stroke-width="0.6"/>
<text x="414" y="276.96" class="et" text-anchor="end">80</text>
<line x1="415.40000000000003" x2="417.6" y1="258.9" y2="258.9" stroke="#444" stroke-width="0.6"/>
<text x="414" y="261.4" class="et" text-anchor="end">100</text>
<line x1="427.95" x2="427.95" y1="336.7" y2="338.9" stroke="#444" stroke-width="0.6"/>
<line x1="441.8" x2="441.8" y1="336.7" y2="338.9" stroke="#444" stroke-width="0.6"/>
<line x1="455.5" x2="455.5" y1="336.7" y2="338.9" stroke="#444" stroke-width="0.6"/>
<line x1="482.8" x2="482.8" y1="336.7" y2="338.9" stroke="#444" stroke-width="0.6"/>
<line x1="496.6" x2="496.6" y1="336.7" y2="338.9" stroke="#444" stroke-width="0.6"/>
<line x1="510.3" x2="510.3" y1="336.7" y2="338.9" stroke="#444" stroke-width="0.6"/>
<text transform="translate(397.3 295.7) rotate(-90)" class="el" text-anchor="middle">% subsampled cells</text>
<rect x="422.3" y="365.7" width="11.3" height="77.8" fill="#3a78b3" stroke="#222" stroke-width="0.7"/>
<circle cx="427.95" cy="365.7" r="1.35" fill="#c8c8c8" stroke="#222" stroke-width="0.6"/>
<rect x="436.15" y="366.48" width="11.3" height="77.02" fill="#3a78b3" stroke="#222" stroke-width="0.7"/>
<circle cx="441.8" cy="366.48" r="1.35" fill="#c8c8c8" stroke="#222" stroke-width="0.6"/>
<rect x="449.85" y="370.37" width="11.3" height="73.13" fill="#3a78b3" stroke="#222" stroke-width="0.7"/>
<circle cx="455.5" cy="370.37" r="1.35" fill="#c8c8c8" stroke="#222" stroke-width="0.6"/>
<rect x="477.15" y="424.83" width="11.3" height="18.67" fill="#a6a6a6" stroke="#222" stroke-width="0.7"/>
<circle cx="482.8" cy="424.83" r="1.35" fill="#c8c8c8" stroke="#222" stroke-width="0.6"/>
<circle cx="482.8" cy="425.73" r="1.35" fill="#c8c8c8" stroke="#222" stroke-width="0.6"/>
<rect x="490.95" y="430.66" width="11.3" height="12.84" fill="#a6a6a6" stroke="#222" stroke-width="0.7"/>
<circle cx="496.6" cy="430.66" r="1.35" fill="#c8c8c8" stroke="#222" stroke-width="0.6"/>
<circle cx="496.6" cy="431.56" r="1.35" fill="#c8c8c8" stroke="#222" stroke-width="0.6"/>
<rect x="504.65" y="431.44" width="11.3" height="12.06" fill="#a6a6a6" stroke="#222" stroke-width="0.7"/>
<circle cx="510.3" cy="431.44" r="1.35" fill="#c8c8c8" stroke="#222" stroke-width="0.6"/>
<circle cx="510.3" cy="432.34" r="1.35" fill="#c8c8c8" stroke="#222" stroke-width="0.6"/>
<rect x="417.6" y="361.5" width="102.7" height="82" fill="none" stroke="#b5b5b5" stroke-width="0.6"/>
<line x1="417.6" x2="417.6" y1="361.5" y2="443.5" stroke="#888" stroke-width="0.6"/>
<line x1="417.6" x2="520.3" y1="443.5" y2="443.5" stroke="#555" stroke-width="0.6"/>
<line x1="415.40000000000003" x2="417.6" y1="443.5" y2="443.5" stroke="#444" stroke-width="0.6"/>
<text x="414" y="446" class="et" text-anchor="end">0</text>
<line x1="415.40000000000003" x2="417.6" y1="427.94" y2="427.94" stroke="#444" stroke-width="0.6"/>
<text x="414" y="430.44" class="et" text-anchor="end">20</text>
<line x1="415.40000000000003" x2="417.6" y1="412.38" y2="412.38" stroke="#444" stroke-width="0.6"/>
<text x="414" y="414.88" class="et" text-anchor="end">40</text>
<line x1="415.40000000000003" x2="417.6" y1="396.82" y2="396.82" stroke="#444" stroke-width="0.6"/>
<text x="414" y="399.32" class="et" text-anchor="end">60</text>
<line x1="415.40000000000003" x2="417.6" y1="381.26" y2="381.26" stroke="#444" stroke-width="0.6"/>
<text x="414" y="383.76" class="et" text-anchor="end">80</text>
<line x1="415.40000000000003" x2="417.6" y1="365.7" y2="365.7" stroke="#444" stroke-width="0.6"/>
<text x="414" y="368.2" class="et" text-anchor="end">100</text>
<line x1="427.95" x2="427.95" y1="443.5" y2="445.7" stroke="#444" stroke-width="0.6"/>
<line x1="441.8" x2="441.8" y1="443.5" y2="445.7" stroke="#444" stroke-width="0.6"/>
<line x1="455.5" x2="455.5" y1="443.5" y2="445.7" stroke="#444" stroke-width="0.6"/>
<line x1="482.8" x2="482.8" y1="443.5" y2="445.7" stroke="#444" stroke-width="0.6"/>
<line x1="496.6" x2="496.6" y1="443.5" y2="445.7" stroke="#444" stroke-width="0.6"/>
<line x1="510.3" x2="510.3" y1="443.5" y2="445.7" stroke="#444" stroke-width="0.6"/>
<text transform="translate(397.3 402.5) rotate(-90)" class="el" text-anchor="middle">% subsampled cells</text>
<rect x="422.3" y="470.4" width="11.3" height="78" fill="#3a78b3" stroke="#222" stroke-width="0.7"/>
<circle cx="427.95" cy="470.4" r="1.35" fill="#c8c8c8" stroke="#222" stroke-width="0.6"/>
<rect x="436.15" y="471.96" width="11.3" height="76.44" fill="#3a78b3" stroke="#222" stroke-width="0.7"/>
<circle cx="441.8" cy="471.96" r="1.35" fill="#c8c8c8" stroke="#222" stroke-width="0.6"/>
<rect x="449.85" y="476.64" width="11.3" height="71.76" fill="#3a78b3" stroke="#222" stroke-width="0.7"/>
<circle cx="455.5" cy="476.64" r="1.35" fill="#c8c8c8" stroke="#222" stroke-width="0.6"/>
<rect x="477.15" y="527.34" width="11.3" height="21.06" fill="#a6a6a6" stroke="#222" stroke-width="0.7"/>
<circle cx="482.8" cy="527.34" r="1.35" fill="#c8c8c8" stroke="#222" stroke-width="0.6"/>
<circle cx="482.8" cy="528.24" r="1.35" fill="#c8c8c8" stroke="#222" stroke-width="0.6"/>
<rect x="490.95" y="533.97" width="11.3" height="14.43" fill="#a6a6a6" stroke="#222" stroke-width="0.7"/>
<circle cx="496.6" cy="533.97" r="1.35" fill="#c8c8c8" stroke="#222" stroke-width="0.6"/>
<circle cx="496.6" cy="534.87" r="1.35" fill="#c8c8c8" stroke="#222" stroke-width="0.6"/>
<rect x="504.65" y="534.75" width="11.3" height="13.65" fill="#a6a6a6" stroke="#222" stroke-width="0.7"/>
<circle cx="510.3" cy="534.75" r="1.35" fill="#c8c8c8" stroke="#222" stroke-width="0.6"/>
<circle cx="510.3" cy="535.65" r="1.35" fill="#c8c8c8" stroke="#222" stroke-width="0.6"/>
<rect x="417.6" y="466.2" width="102.7" height="82.2" fill="none" stroke="#b5b5b5" stroke-width="0.6"/>
<line x1="417.6" x2="417.6" y1="466.2" y2="548.4" stroke="#888" stroke-width="0.6"/>
<line x1="417.6" x2="520.3" y1="548.4" y2="548.4" stroke="#555" stroke-width="0.6"/>
<line x1="415.40000000000003" x2="417.6" y1="548.4" y2="548.4" stroke="#444" stroke-width="0.6"/>
<text x="414" y="550.9" class="et" text-anchor="end">0</text>
<line x1="415.40000000000003" x2="417.6" y1="532.8" y2="532.8" stroke="#444" stroke-width="0.6"/>
<text x="414" y="535.3" class="et" text-anchor="end">20</text>
<line x1="415.40000000000003" x2="417.6" y1="517.2" y2="517.2" stroke="#444" stroke-width="0.6"/>
<text x="414" y="519.7" class="et" text-anchor="end">40</text>
<line x1="415.40000000000003" x2="417.6" y1="501.6" y2="501.6" stroke="#444" stroke-width="0.6"/>
<text x="414" y="504.1" class="et" text-anchor="end">60</text>
<line x1="415.40000000000003" x2="417.6" y1="486" y2="486" stroke="#444" stroke-width="0.6"/>
<text x="414" y="488.5" class="et" text-anchor="end">80</text>
<line x1="415.40000000000003" x2="417.6" y1="470.4" y2="470.4" stroke="#444" stroke-width="0.6"/>
<text x="414" y="472.9" class="et" text-anchor="end">100</text>
<line x1="427.95" x2="427.95" y1="548.4" y2="550.6" stroke="#444" stroke-width="0.6"/>
<line x1="441.8" x2="441.8" y1="548.4" y2="550.6" stroke="#444" stroke-width="0.6"/>
<line x1="455.5" x2="455.5" y1="548.4" y2="550.6" stroke="#444" stroke-width="0.6"/>
<line x1="482.8" x2="482.8" y1="548.4" y2="550.6" stroke="#444" stroke-width="0.6"/>
<line x1="496.6" x2="496.6" y1="548.4" y2="550.6" stroke="#444" stroke-width="0.6"/>
<line x1="510.3" x2="510.3" y1="548.4" y2="550.6" stroke="#444" stroke-width="0.6"/>
<text transform="translate(397.3 507.3) rotate(-90)" class="el" text-anchor="middle">% subsampled cells</text>
<rect x="422.3" y="582.2" width="11.3" height="78.2" fill="#3a78b3" stroke="#222" stroke-width="0.7"/>
<circle cx="427.95" cy="582.2" r="1.35" fill="#c8c8c8" stroke="#222" stroke-width="0.6"/>
<rect x="436.15" y="583.37" width="11.3" height="77.03" fill="#3a78b3" stroke="#222" stroke-width="0.7"/>
<circle cx="441.8" cy="583.37" r="1.35" fill="#c8c8c8" stroke="#222" stroke-width="0.6"/>
<rect x="449.85" y="588.46" width="11.3" height="71.94" fill="#3a78b3" stroke="#222" stroke-width="0.7"/>
<circle cx="455.5" cy="588.46" r="1.35" fill="#c8c8c8" stroke="#222" stroke-width="0.6"/>
<rect x="477.15" y="641.63" width="11.3" height="18.77" fill="#a6a6a6" stroke="#222" stroke-width="0.7"/>
<circle cx="482.8" cy="641.63" r="1.35" fill="#c8c8c8" stroke="#222" stroke-width="0.6"/>
<circle cx="482.8" cy="642.53" r="1.35" fill="#c8c8c8" stroke="#222" stroke-width="0.6"/>
<rect x="490.95" y="647.5" width="11.3" height="12.9" fill="#a6a6a6" stroke="#222" stroke-width="0.7"/>
<circle cx="496.6" cy="647.5" r="1.35" fill="#c8c8c8" stroke="#222" stroke-width="0.6"/>
<circle cx="496.6" cy="648.4" r="1.35" fill="#c8c8c8" stroke="#222" stroke-width="0.6"/>
<rect x="504.65" y="648.28" width="11.3" height="12.12" fill="#a6a6a6" stroke="#222" stroke-width="0.7"/>
<circle cx="510.3" cy="648.28" r="1.35" fill="#c8c8c8" stroke="#222" stroke-width="0.6"/>
<circle cx="510.3" cy="649.18" r="1.35" fill="#c8c8c8" stroke="#222" stroke-width="0.6"/>
<rect x="417.6" y="578.0" width="102.7" height="82.4" fill="none" stroke="#b5b5b5" stroke-width="0.6"/>
<line x1="417.6" x2="417.6" y1="578.0" y2="660.4" stroke="#888" stroke-width="0.6"/>
<line x1="417.6" x2="520.3" y1="660.4" y2="660.4" stroke="#555" stroke-width="0.6"/>
<line x1="415.40000000000003" x2="417.6" y1="660.4" y2="660.4" stroke="#444" stroke-width="0.6"/>
<text x="414" y="662.9" class="et" text-anchor="end">0</text>
<line x1="415.40000000000003" x2="417.6" y1="644.76" y2="644.76" stroke="#444" stroke-width="0.6"/>
<text x="414" y="647.26" class="et" text-anchor="end">20</text>
<line x1="415.40000000000003" x2="417.6" y1="629.12" y2="629.12" stroke="#444" stroke-width="0.6"/>
<text x="414" y="631.62" class="et" text-anchor="end">40</text>
<line x1="415.40000000000003" x2="417.6" y1="613.48" y2="613.48" stroke="#444" stroke-width="0.6"/>
<text x="414" y="615.98" class="et" text-anchor="end">60</text>
<line x1="415.40000000000003" x2="417.6" y1="597.84" y2="597.84" stroke="#444" stroke-width="0.6"/>
<text x="414" y="600.34" class="et" text-anchor="end">80</text>
<line x1="415.40000000000003" x2="417.6" y1="582.2" y2="582.2" stroke="#444" stroke-width="0.6"/>
<text x="414" y="584.7" class="et" text-anchor="end">100</text>
<line x1="427.95" x2="427.95" y1="660.4" y2="662.6" stroke="#444" stroke-width="0.6"/>
<line x1="441.8" x2="441.8" y1="660.4" y2="662.6" stroke="#444" stroke-width="0.6"/>
<line x1="455.5" x2="455.5" y1="660.4" y2="662.6" stroke="#444" stroke-width="0.6"/>
<line x1="482.8" x2="482.8" y1="660.4" y2="662.6" stroke="#444" stroke-width="0.6"/>
<line x1="496.6" x2="496.6" y1="660.4" y2="662.6" stroke="#444" stroke-width="0.6"/>
<line x1="510.3" x2="510.3" y1="660.4" y2="662.6" stroke="#444" stroke-width="0.6"/>
<text transform="translate(397.3 619.2) rotate(-90)" class="el" text-anchor="middle">% subsampled cells</text>
<rect x="431.1" y="232.7" width="88.2" height="19.9" rx="1.2" fill="#fff" stroke="#e0e0e0" stroke-width="0.6"/>
<rect x="433.5" y="236.7" width="11.6" height="5" fill="#3a78b3" stroke="#333" stroke-width="0.5"/>
<rect x="433.5" y="245.3" width="11.6" height="5" fill="#a6a6a6" stroke="#333" stroke-width="0.5"/>
<text x="449.1" y="241.8" class="lg">Scarf/TopACeDo</text>
<text x="449.1" y="250.4" class="lg">Random sampling</text>
<text transform="translate(430.15 667) rotate(-45)" class="et2" text-anchor="end">Degree</text>
<text transform="translate(444 667) rotate(-45)" class="et2" text-anchor="end">Outdegree</text>
<text transform="translate(457.7 667) rotate(-45)" class="et2" text-anchor="end">Indegree</text>
<text transform="translate(485 667) rotate(-45)" class="et2" text-anchor="end">Degree</text>
<text transform="translate(498.8 667) rotate(-45)" class="et2" text-anchor="end">Outdegree</text>
<text transform="translate(512.5 667) rotate(-45)" class="et2" text-anchor="end">Indegree</text>
<text x="539.2" y="243.1" class="lab">f</text>
<path d="M571.7 297.2h3.6M673.6 297.2h-3.8" stroke="#000" stroke-width="1.3"/>
<polyline points="575.6,297.55 576.55,297.01 577.5,297.05 578.45,297.24 579.41,297.31 580.36,297.82 581.31,297.43 582.26,296.62 583.21,297.29 584.16,297.89 585.12,296.56 586.07,296.95 587.02,296.19 587.97,297.17 588.92,297.42 589.87,297.89 590.82,296.56 591.78,295.97 592.73,297.59 593.68,297.51 594.63,296.91 595.58,297.6 596.53,297.33 597.48,297.37 598.44,297.11 599.39,296.67 600.34,297.19 601.29,296.76 602.24,297.4 603.19,297.04 604.15,298.23 605.1,297.9 606.05,296.82 607,297.48 607.95,296.92 608.9,296.94 609.85,296.57 610.81,296.81 611.76,296.71 612.71,297.25 613.66,297.54 614.61,297.55 615.56,297.43 616.52,297.74 617.47,297.46 618.42,297.24 619.37,297.08 620.32,297.36 621.27,298.12 622.22,297.23 623.18,297.09 624.13,296.68 625.08,296.92 626.03,297.51 626.98,297.55 627.93,296.23 628.88,296.84 629.84,296.32 630.79,296.18 631.74,297.59 632.69,297.02 633.64,296.98 634.59,296.93 635.55,296.94 636.5,297.1 637.45,297.12 638.4,297.92 639.35,297.28 640.3,297.56 641.25,297.14 642.21,297.42 643.16,296.9 644.11,296.81 645.06,297.05 646.01,297.05 646.96,297.16 647.92,297.41 648.87,297.28 649.82,297.44 650.77,297.01 651.72,297.19 652.67,296.92 653.62,297.84 654.58,296.77 655.53,297.57 656.48,297.55 657.43,297.29 658.38,297.47 659.33,297.06 660.28,297.48 661.24,297.71 662.19,297.61 663.14,296.57 664.09,297.18 665.04,297.76 665.99,297.2 666.95,297.95 667.9,296.34 668.85,297.93 669.8,296.97" fill="none" stroke="#b8b8b8" stroke-width="1.7" stroke-linejoin="round"/>
<polyline points="575.6,334.77 576.55,326.51 577.5,326.01 578.45,326.79 579.41,326.01 580.36,325.55 581.31,323.33 582.26,322.48 583.21,320.54 584.16,321.81 585.12,318.13 586.07,317.31 587.02,314.53 587.97,313.27 588.92,313.2 589.87,312.26 590.82,311.83 591.78,313.19 592.73,313.69 593.68,313.33 594.63,313.93 595.58,314.32 596.53,314.65 597.48,316.75 598.44,316.94 599.39,315.25 600.34,313.53 601.29,310.88 602.24,308.91 603.19,308.09 604.15,305.99 605.1,301.23 606.05,297.54 607,295.83 607.95,294.89 608.9,295.3 609.85,294.31 610.81,293.75 611.76,294.58 612.71,294.91 613.66,293.82 614.61,294.8 615.56,296.54 616.52,300.18 617.47,300.48 618.42,299.62 619.37,297.47 620.32,293.56 621.27,290.81 622.22,289.4 623.18,286.49 624.13,286.94 625.08,287.1 626.03,286.64 626.98,284.98 627.93,285.6 628.88,282.83 629.84,284.16 630.79,289.29 631.74,287.49 632.69,285.55 633.64,282.05 634.59,280.2 635.55,277.03 636.5,273.92 637.45,272.06 638.4,268.05 639.35,267.5 640.3,266.76 641.25,267.3 642.21,267.35 643.16,269.75 644.11,269.2 645.06,268.78 646.01,269.49 646.96,271.19 647.92,276.3 648.87,277.07 649.82,280.23 650.77,279.36 651.72,277.67 652.67,273.43 653.62,273.02 654.58,272.15 655.53,272.78 656.48,274.59 657.43,272.75 658.38,272.74 659.33,271.4 660.28,270.39 661.24,268.89 662.19,270.72 663.14,268.42 664.09,266.05 665.04,264 665.99,263.71 666.95,263.43 667.9,261.39 668.85,260.43 669.8,260.56" fill="none" stroke="#3a78b3" stroke-width="1.75" stroke-linejoin="round"/>
<rect x="571.7" y="257.2" width="101.9" height="81.6" fill="none" stroke="#999" stroke-width="0.6"/>
<line x1="571.7" x2="571.7" y1="257.2" y2="338.8" stroke="#333" stroke-width="0.6"/>
<line x1="571.7" x2="673.6" y1="338.8" y2="338.8" stroke="#333" stroke-width="0.6"/>
<line x1="569.5" x2="571.7" y1="329.2" y2="329.2" stroke="#444" stroke-width="0.6"/>
<text x="568.1" y="331.7" class="et" text-anchor="end">−2</text>
<line x1="569.5" x2="571.7" y1="313.2" y2="313.2" stroke="#444" stroke-width="0.6"/>
<text x="568.1" y="315.7" class="et" text-anchor="end">−1</text>
<line x1="569.5" x2="571.7" y1="297.2" y2="297.2" stroke="#444" stroke-width="0.6"/>
<text x="568.1" y="299.7" class="et" text-anchor="end">0</text>
<line x1="569.5" x2="571.7" y1="281.2" y2="281.2" stroke="#444" stroke-width="0.6"/>
<text x="568.1" y="283.7" class="et" text-anchor="end">1</text>
<line x1="569.5" x2="571.7" y1="265.2" y2="265.2" stroke="#444" stroke-width="0.6"/>
<text x="568.1" y="267.7" class="et" text-anchor="end">2</text>
<line x1="575.6" x2="575.6" y1="338.8" y2="341.0" stroke="#444" stroke-width="0.6"/>
<text x="576.2" y="348" class="et" text-anchor="middle">0</text>
<line x1="599.15" x2="599.15" y1="338.8" y2="341.0" stroke="#444" stroke-width="0.6"/>
<text x="599.75" y="348" class="et" text-anchor="middle">25</text>
<line x1="622.7" x2="622.7" y1="338.8" y2="341.0" stroke="#444" stroke-width="0.6"/>
<text x="623.3" y="348" class="et" text-anchor="middle">50</text>
<line x1="646.25" x2="646.25" y1="338.8" y2="341.0" stroke="#444" stroke-width="0.6"/>
<text x="646.85" y="348" class="et" text-anchor="middle">75</text>
<line x1="669.8" x2="669.8" y1="338.8" y2="341.0" stroke="#444" stroke-width="0.6"/>
<text x="670.4" y="348" class="et" text-anchor="middle">100</text>
<text transform="translate(546.6 298) rotate(-90)" class="el" text-anchor="middle">Log2 Sampling</text>
<text transform="translate(556 298) rotate(-90)" class="el" text-anchor="middle">enrichment</text>
<text transform="translate(678 298) rotate(90)" class="el" text-anchor="middle">600K cell dataset</text>
<path d="M571.7 407.7h3.6M673.6 407.7h-3.8" stroke="#000" stroke-width="1.3"/>
<polyline points="575.6,407.44 575.98,407.91 576.36,407.88 576.73,407.08 577.11,406.74 577.49,407.55 577.87,407.81 578.25,407.37 578.63,408.78 579,407.71 579.38,408.3 579.76,406.34 580.14,407.29 580.52,407.62 580.9,407.81 581.27,409.13 581.65,407.29 582.03,406.77 582.41,408.12 582.79,407.31 583.17,407.29 583.54,408.58 583.92,407.17 584.3,406.93 584.68,407.57 585.06,407.74 585.44,407.25 585.81,408.58 586.19,407.65 586.57,407.1 586.95,408.41 587.33,407.13 587.71,407.94 588.08,408.89 588.46,407.76 588.84,408.25 589.22,407.52 589.6,408.37 589.98,407.1 590.35,408.12 590.73,407.5 591.11,408.04 591.49,407.88 591.87,407.02 592.25,407.58 592.62,407.93 593,408.41 593.38,407.04 593.76,407.28 594.14,407.89 594.52,407.56 594.89,408.29 595.27,408.28 595.65,408.17 596.03,407.5 596.41,407.53 596.79,408.12 597.16,407.28 597.54,407.25 597.92,407.6 598.3,407.11 598.68,407.86 599.06,407.76 599.43,407.43 599.81,407.72 600.19,407.25 600.57,408.41 600.95,406.89 601.33,408.15 601.7,407.79 602.08,408.49 602.46,407.36 602.84,406.97 603.22,407.09 603.6,407.22 603.97,408.59 604.35,408.15 604.73,407.96 605.11,408.23 605.49,407.06 605.87,407.59 606.24,407.71 606.62,407.42 607,408.24 607.38,408.22 607.76,408.2 608.13,407.42 608.51,407.51 608.89,407.37 609.27,407.09 609.65,408.47 610.03,408.02 610.4,407.62 610.78,408.47 611.16,408 611.54,407.12 611.92,407.07 612.3,407.09 612.67,407.68 613.05,407.82 613.43,407.08 613.81,407.91 614.19,407.51 614.57,406.94 614.94,407.91 615.32,408.05 615.7,407.71 616.08,407.36 616.46,407.43 616.84,407.61 617.21,407.38 617.59,408.61 617.97,408.19 618.35,407.61 618.73,408.23 619.11,408.46 619.48,408.39 619.86,408.22 620.24,407.8 620.62,408.28 621,407.57 621.38,406.73 621.75,407.78 622.13,406.97 622.51,407.54 622.89,408.34 623.27,407.85 623.65,408.26 624.02,407.26 624.4,408.36 624.78,406.95 625.16,407.37 625.54,408.85 625.92,407.25 626.29,406.81 626.67,408.15 627.05,407.14 627.43,408.73 627.81,407.56 628.19,408.65 628.56,407.43 628.94,408.72 629.32,409.2 629.7,407.47 630.08,406.4 630.46,408.04 630.83,407.23 631.21,407.64 631.59,407.88 631.97,407.35 632.35,406.76 632.73,408.4 633.1,407.38 633.48,407.5 633.86,408.51 634.24,406.78 634.62,406.59 635,408.24 635.37,406.71 635.75,407.67 636.13,407.79 636.51,406.84 636.89,407.57 637.27,407.52 637.64,406.83 638.02,406.97 638.4,407.19 638.78,408.5 639.16,408.6 639.53,407.06 639.91,408.23 640.29,407.62 640.67,408.31 641.05,407.8 641.43,408.43 641.8,406.77 642.18,408.28 642.56,407.77 642.94,407.81 643.32,407.01 643.7,408.51 644.07,407.72 644.45,407.82 644.83,407.4 645.21,407.43 645.59,407.96 645.97,407.56 646.34,407.91 646.72,407.43 647.1,407.76 647.48,408.07 647.86,407.72 648.24,407.49 648.61,406.41 648.99,407.98 649.37,407.53 649.75,406.87 650.13,408.88 650.51,408.69 650.88,408.38 651.26,407.77 651.64,406.31 652.02,407.48 652.4,407.01 652.78,407.83 653.15,409.1 653.53,409.02 653.91,407.12 654.29,407.59 654.67,408.44 655.05,407.06 655.42,408.58 655.8,407.05 656.18,406.87 656.56,408.14 656.94,408.33 657.32,407.22 657.69,408.32 658.07,407.21 658.45,408.38 658.83,407.24 659.21,407.65 659.59,407.95 659.96,408.21 660.34,407.56 660.72,408.78 661.1,407.86 661.48,407.93 661.86,407.31 662.23,408.41 662.61,406.72 662.99,407.88 663.37,408.35 663.75,406.91 664.13,406.75 664.5,407.81 664.88,408.21 665.26,407.69 665.64,408.09 666.02,407.88 666.4,406.81 666.77,407.48 667.15,407.62 667.53,407.5 667.91,407.73 668.29,407.22 668.67,407.2 669.04,407.91 669.42,407.64 669.8,406.32" fill="none" stroke="#b8b8b8" stroke-width="1.7" stroke-linejoin="round"/>
<polyline points="575.6,440.33 575.98,443.08 576.36,441.56 576.73,441.24 577.11,442.31 577.49,442.36 577.87,441.38 578.25,442.09 578.63,441.7 579,441.87 579.38,436.24 579.76,433.26 580.14,426.7 580.52,427.23 580.9,426.94 581.27,424.33 581.65,421.89 582.03,422.21 582.41,423.39 582.79,421.79 583.17,426.47 583.54,429.47 583.92,432.34 584.3,435.56 584.68,432.31 585.06,425.12 585.44,416.15 585.81,409.07 586.19,406.26 586.57,402.74 586.95,397.87 587.33,394.4 587.71,396.33 588.08,395.64 588.46,401.64 588.84,407.97 589.22,409.84 589.6,412.37 589.98,416.22 590.35,418.25 590.73,420.81 591.11,424.26 591.49,421.46 591.87,416.53 592.25,413.77 592.62,414.64 593,413.83 593.38,413.7 593.76,416.3 594.14,412.8 594.52,410.3 594.89,408.33 595.27,405.73 595.65,405.14 596.03,402.6 596.41,403.43 596.79,407.11 597.16,411.02 597.54,411.91 597.92,413.23 598.3,415.61 598.68,418.04 599.06,417 599.43,421.55 599.81,420.91 600.19,422.87 600.57,424.79 600.95,420.45 601.33,419.85 601.7,419.9 602.08,415.98 602.46,415.25 602.84,415.18 603.22,412.43 603.6,409.98 603.97,408.2 604.35,407.37 604.73,406.14 605.11,404.3 605.49,405.04 605.87,406.32 606.24,409.74 606.62,410.53 607,411.2 607.38,413.98 607.76,414.53 608.13,412.94 608.51,414.48 608.89,413.91 609.27,411.92 609.65,410.95 610.03,407.03 610.4,405.06 610.78,400.93 611.16,399.99 611.54,394.78 611.92,396.88 612.3,398.1 612.67,396.56 613.05,396.72 613.43,396.13 613.81,399.4 614.19,402.1 614.57,402.87 614.94,411.85 615.32,411.92 615.7,414.56 616.08,415.9 616.46,419.43 616.84,419.06 617.21,417.6 617.59,418.55 617.97,417.03 618.35,418.9 618.73,415.67 619.11,410.32 619.48,412.51 619.86,410.92 620.24,408.18 620.62,406.44 621,403.68 621.38,402.75 621.75,403.1 622.13,402.47 622.51,401.12 622.89,405.07 623.27,412.07 623.65,411.45 624.02,414.06 624.4,413.54 624.78,415.64 625.16,414.43 625.54,416.77 625.92,418.01 626.29,420 626.67,421.45 627.05,418.97 627.43,413.11 627.81,409.21 628.19,407.92 628.56,405.75 628.94,406.67 629.32,407.65 629.7,409.9 630.08,411.07 630.46,412.58 630.83,414.66 631.21,408.65 631.59,407.49 631.97,406.71 632.35,404.2 632.73,404.21 633.1,403.61 633.48,406.17 633.86,402.93 634.24,401.38 634.62,399.47 635,399.55 635.37,400.98 635.75,405.29 636.13,408.06 636.51,406.49 636.89,408.08 637.27,407.65 637.64,409.53 638.02,409.89 638.4,412.67 638.78,411.26 639.16,413.1 639.53,413.01 639.91,413.7 640.29,415.18 640.67,414.72 641.05,414.78 641.43,413.58 641.8,412.18 642.18,411.08 642.56,408.84 642.94,403.89 643.32,403.71 643.7,400.22 644.07,398.67 644.45,397.54 644.83,398.78 645.21,400.02 645.59,402.09 645.97,400.83 646.34,401.07 646.72,398.39 647.1,395.92 647.48,392.08 647.86,394.68 648.24,391.78 648.61,393.85 648.99,393.7 649.37,393.84 649.75,391.44 650.13,388.64 650.51,388.59 650.88,387.07 651.26,385.71 651.64,388.49 652.02,389.25 652.4,392.33 652.78,395.24 653.15,396.59 653.53,399.03 653.91,400.13 654.29,403.27 654.67,406.05 655.05,401.74 655.42,399.41 655.8,396.23 656.18,394.39 656.56,392.66 656.94,390.47 657.32,387.77 657.69,383.83 658.07,382.24 658.45,383.95 658.83,382.54 659.21,384.35 659.59,382.79 659.96,383.95 660.34,383.54 660.72,381.49 661.1,381.23 661.48,383.38 661.86,381.06 662.23,379.87 662.61,384.45 662.99,381.11 663.37,384.39 663.75,384.59 664.13,384.66 664.5,386.52 664.88,380.27 665.26,377.85 665.64,378.5 666.02,377.32 666.4,378.1 666.77,374.91 667.15,371.54 667.53,372.65 667.91,370.68 668.29,369.54 668.67,368.04 669.04,367.22 669.42,369.27 669.8,369.59" fill="none" stroke="#3a78b3" stroke-width="1.75" stroke-linejoin="round"/>
<rect x="571.7" y="365.2" width="101.9" height="81.8" fill="none" stroke="#999" stroke-width="0.6"/>
<line x1="571.7" x2="571.7" y1="365.2" y2="447.0" stroke="#333" stroke-width="0.6"/>
<line x1="571.7" x2="673.6" y1="447.0" y2="447.0" stroke="#333" stroke-width="0.6"/>
<line x1="569.5" x2="571.7" y1="445.7" y2="445.7" stroke="#444" stroke-width="0.6"/>
<text x="568.1" y="448.2" class="et" text-anchor="end">−2</text>
<line x1="569.5" x2="571.7" y1="426.7" y2="426.7" stroke="#444" stroke-width="0.6"/>
<text x="568.1" y="429.2" class="et" text-anchor="end">−1</text>
<line x1="569.5" x2="571.7" y1="407.7" y2="407.7" stroke="#444" stroke-width="0.6"/>
<text x="568.1" y="410.2" class="et" text-anchor="end">0</text>
<line x1="569.5" x2="571.7" y1="388.7" y2="388.7" stroke="#444" stroke-width="0.6"/>
<text x="568.1" y="391.2" class="et" text-anchor="end">1</text>
<line x1="569.5" x2="571.7" y1="369.7" y2="369.7" stroke="#444" stroke-width="0.6"/>
<text x="568.1" y="372.2" class="et" text-anchor="end">2</text>
<line x1="575.6" x2="575.6" y1="447.0" y2="449.2" stroke="#444" stroke-width="0.6"/>
<text x="576.2" y="456.2" class="et" text-anchor="middle">0</text>
<line x1="613.28" x2="613.28" y1="447.0" y2="449.2" stroke="#444" stroke-width="0.6"/>
<text x="613.88" y="456.2" class="et" text-anchor="middle">100</text>
<line x1="650.96" x2="650.96" y1="447.0" y2="449.2" stroke="#444" stroke-width="0.6"/>
<text x="651.56" y="456.2" class="et" text-anchor="middle">200</text>
<text transform="translate(546.6 406.1) rotate(-90)" class="el" text-anchor="middle">Log2 Sampling</text>
<text transform="translate(556 406.1) rotate(-90)" class="el" text-anchor="middle">enrichment</text>
<text transform="translate(678 406.1) rotate(90)" class="el" text-anchor="middle">1M cell dataset</text>
<path d="M571.7 517.4h3.6M673.6 517.4h-3.8" stroke="#000" stroke-width="1.3"/>
<polyline points="575.6,516.95 576.07,517.2 576.55,516.12 577.02,517.35 577.49,517.64 577.97,517.32 578.44,518.11 578.91,517.14 579.39,517.45 579.86,517.22 580.33,517.2 580.81,517.95 581.28,516.7 581.75,517.93 582.23,516.93 582.7,518.23 583.17,517.2 583.65,517.82 584.12,517.37 584.59,517.73 585.07,518.54 585.54,517.98 586.01,517.36 586.49,517.06 586.96,518.16 587.43,518.51 587.91,517.85 588.38,517.5 588.85,517.72 589.33,517.82 589.8,516.95 590.27,516.88 590.75,517 591.22,517.88 591.69,517.35 592.17,517.49 592.64,518.14 593.11,516.93 593.59,517.35 594.06,517.65 594.53,516.65 595.01,516.99 595.48,516.94 595.95,516.76 596.43,517.02 596.9,518.06 597.37,517.6 597.85,516.87 598.32,517.8 598.79,517.37 599.27,517.18 599.74,516.64 600.22,516.71 600.69,516.92 601.16,517.49 601.64,516.91 602.11,517.12 602.58,517.48 603.06,516.68 603.53,517.13 604,517.79 604.48,516.73 604.95,517.53 605.42,517.08 605.9,518.19 606.37,517.4 606.84,517.89 607.32,517.9 607.79,518.4 608.26,516.27 608.74,517.47 609.21,517.27 609.68,516.81 610.16,517.46 610.63,517.13 611.1,518.11 611.58,517.29 612.05,517.61 612.52,517.13 613,517.3 613.47,518.12 613.94,518.37 614.42,517.93 614.89,517.01 615.36,517.17 615.84,517.18 616.31,518.46 616.78,518.81 617.26,517.72 617.73,517.57 618.2,517.71 618.68,517.21 619.15,517.49 619.62,518.02 620.1,517.86 620.57,517.32 621.04,517.36 621.52,517.44 621.99,516.21 622.46,517.54 622.94,517.34 623.41,517.92 623.88,517.59 624.36,517.12 624.83,517.1 625.3,517.48 625.78,517.19 626.25,517.37 626.72,518.39 627.2,519.12 627.67,516.19 628.14,516.96 628.62,517.43 629.09,518.31 629.56,518.07 630.04,516.69 630.51,518.86 630.98,517.57 631.46,516.94 631.93,517.32 632.4,517 632.88,517.47 633.35,516.14 633.82,517.94 634.3,518.12 634.77,517.26 635.24,516.65 635.72,517.43 636.19,516.85 636.66,517.68 637.14,518.02 637.61,516.67 638.08,516.58 638.56,516.6 639.03,517.63 639.5,518.01 639.98,518.01 640.45,517.52 640.92,517.09 641.4,517.13 641.87,518.15 642.34,517.3 642.82,517.39 643.29,517.35 643.76,517.41 644.24,517.51 644.71,517.09 645.18,517.33 645.66,517.28 646.13,517.76 646.61,517.19 647.08,517.46 647.55,518.51 648.03,517.15 648.5,517.54 648.97,516.91 649.45,517.49 649.92,517.45 650.39,517.29 650.87,517.41 651.34,517.63 651.81,518.34 652.29,516.43 652.76,518.23 653.23,517.58 653.71,517.06 654.18,517.2 654.65,517.1 655.13,517 655.6,516.74 656.07,517.18 656.55,515.74 657.02,517.73 657.49,517.01 657.97,517.25 658.44,517.27 658.91,516.77 659.39,516.08 659.86,517.15 660.33,517.08 660.81,516.26 661.28,516.28 661.75,515.47 662.23,515.89 662.7,516.23 663.17,516.46 663.65,516.1 664.12,516.24 664.59,516.79 665.07,516 665.54,516.03 666.01,515.98 666.49,516.02 666.96,514.83 667.43,515.29 667.91,515.09 668.38,515.83 668.85,515.98 669.33,515.52 669.8,515.17" fill="none" stroke="#b8b8b8" stroke-width="1.7" stroke-linejoin="round"/>
<polyline points="575.6,548.75 576.07,544.34 576.55,538.45 577.02,534.97 577.49,531.3 577.97,525.43 578.44,522.55 578.91,517.8 579.39,519.57 579.86,524.25 580.33,529.2 580.81,532.05 581.28,534.69 581.75,532.12 582.23,527.08 582.7,519.19 583.17,517.14 583.65,524.2 584.12,524.22 584.59,525.47 585.07,523.69 585.54,521.67 586.01,514.68 586.49,512.4 586.96,509.98 587.43,511.38 587.91,512.82 588.38,515.91 588.85,523.61 589.33,518.88 589.8,519.37 590.27,518.95 590.75,517.83 591.22,518.66 591.69,524.89 592.17,534.42 592.64,529.59 593.11,528.27 593.59,526.62 594.06,525.21 594.53,524.42 595.01,517.92 595.48,518.63 595.95,519.14 596.43,521.96 596.9,524.6 597.37,524.44 597.85,524.15 598.32,524.4 598.79,523.28 599.27,520.84 599.74,517.9 600.22,520.35 600.69,521.14 601.16,523.1 601.64,521.4 602.11,518.61 602.58,520.26 603.06,513.28 603.53,519.01 604,520.17 604.48,518.37 604.95,520.7 605.42,518.82 605.9,517.72 606.37,517.23 606.84,511.98 607.32,512.36 607.79,518.5 608.26,517.02 608.74,520.54 609.21,517.89 609.68,513.77 610.16,512.61 610.63,508.89 611.1,508.88 611.58,508.6 612.05,512.09 612.52,512.96 613,514.77 613.47,517.41 613.94,515.68 614.42,515.92 614.89,516.77 615.36,507.48 615.84,514.11 616.31,517.04 616.78,514.87 617.26,517.2 617.73,522.46 618.2,523.69 618.68,523.52 619.15,520.45 619.62,517.06 620.1,508.7 620.57,507.62 621.04,510.35 621.52,519.77 621.99,522.24 622.46,521.8 622.94,513.37 623.41,511.8 623.88,514.91 624.36,518.78 624.83,519.38 625.3,526.19 625.78,521.26 626.25,523.1 626.72,522.11 627.2,520.89 627.67,521.74 628.14,521.58 628.62,522.83 629.09,522.26 629.56,522.17 630.04,517.14 630.51,516.4 630.98,512.29 631.46,514.13 631.93,519.7 632.4,519.12 632.88,517.94 633.35,523.25 633.82,522.87 634.3,519.45 634.77,518.58 635.24,517.67 635.72,520.26 636.19,520.1 636.66,520.77 637.14,522.35 637.61,520.98 638.08,516.58 638.56,512.88 639.03,510.51 639.5,507.85 639.98,508.09 640.45,506.21 640.92,512.03 641.4,512.42 641.87,510.93 642.34,513.66 642.82,512.69 643.29,510.73 643.76,508.75 644.24,509.75 644.71,508.27 645.18,507.34 645.66,508.21 646.13,506.4 646.61,511.27 647.08,516.31 647.55,513.65 648.03,515.63 648.5,513.72 648.97,511.39 649.45,512.06 649.92,508.24 650.39,511.18 650.87,507.87 651.34,507.12 651.81,506.22 652.29,507.25 652.76,508.02 653.23,506.67 653.71,505.29 654.18,502.43 654.65,503.15 655.13,501.69 655.6,502.06 656.07,501.5 656.55,501.73 657.02,499.49 657.49,501.58 657.97,500.65 658.44,500.76 658.91,500.81 659.39,501.21 659.86,500.89 660.33,499.58 660.81,500.1 661.28,498.23 661.75,498.42 662.23,497.18 662.7,497.46 663.17,496.89 663.65,495.29 664.12,493.42 664.59,492.58 665.07,491.52 665.54,490.02 666.01,489.77 666.49,489.03 666.96,487.24 667.43,485.72 667.91,483.85 668.38,481.12 668.85,479.36 669.33,475.91 669.8,473.37" fill="none" stroke="#3a78b3" stroke-width="1.75" stroke-linejoin="round"/>
<rect x="571.7" y="470.7" width="101.9" height="81.2" fill="none" stroke="#999" stroke-width="0.6"/>
<line x1="571.7" x2="571.7" y1="470.7" y2="551.9" stroke="#333" stroke-width="0.6"/>
<line x1="571.7" x2="673.6" y1="551.9" y2="551.9" stroke="#333" stroke-width="0.6"/>
<line x1="569.5" x2="571.7" y1="552.4" y2="552.4" stroke="#444" stroke-width="0.6"/>
<text x="568.1" y="554.9" class="et" text-anchor="end">−2</text>
<line x1="569.5" x2="571.7" y1="534.9" y2="534.9" stroke="#444" stroke-width="0.6"/>
<text x="568.1" y="537.4" class="et" text-anchor="end">−1</text>
<line x1="569.5" x2="571.7" y1="517.4" y2="517.4" stroke="#444" stroke-width="0.6"/>
<text x="568.1" y="519.9" class="et" text-anchor="end">0</text>
<line x1="569.5" x2="571.7" y1="499.9" y2="499.9" stroke="#444" stroke-width="0.6"/>
<text x="568.1" y="502.4" class="et" text-anchor="end">1</text>
<line x1="569.5" x2="571.7" y1="482.4" y2="482.4" stroke="#444" stroke-width="0.6"/>
<text x="568.1" y="484.9" class="et" text-anchor="end">2</text>
<line x1="575.6" x2="575.6" y1="551.9" y2="554.1" stroke="#444" stroke-width="0.6"/>
<text x="576.2" y="561.1" class="et" text-anchor="middle">0</text>
<line x1="613.28" x2="613.28" y1="551.9" y2="554.1" stroke="#444" stroke-width="0.6"/>
<text x="613.88" y="561.1" class="et" text-anchor="middle">200</text>
<line x1="650.96" x2="650.96" y1="551.9" y2="554.1" stroke="#444" stroke-width="0.6"/>
<text x="651.56" y="561.1" class="et" text-anchor="middle">400</text>
<text transform="translate(546.6 511.3) rotate(-90)" class="el" text-anchor="middle">Log2 Sampling</text>
<text transform="translate(556 511.3) rotate(-90)" class="el" text-anchor="middle">enrichment</text>
<text transform="translate(678 511.3) rotate(90)" class="el" text-anchor="middle">2M cell dataset</text>
<path d="M571.7 621.8h3.6M673.6 621.8h-3.8" stroke="#000" stroke-width="1.3"/>
<polyline points="575.6,621.48 575.85,621.63 576.1,621.72 576.35,621.65 576.59,621.52 576.84,621.48 577.09,620.99 577.34,621.82 577.59,621.7 577.84,622.67 578.09,622.42 578.33,622.12 578.58,622.36 578.83,621.69 579.08,621.3 579.33,622 579.58,622.03 579.83,622.04 580.07,621.73 580.32,622.05 580.57,621.59 580.82,621.65 581.07,621.63 581.32,621.44 581.57,621.78 581.81,621.73 582.06,620.96 582.31,621.82 582.56,621.42 582.81,621.77 583.06,622.02 583.31,622.02 583.55,622.19 583.8,621.79 584.05,622.09 584.3,622 584.55,621.22 584.8,621.86 585.04,621.26 585.29,621.67 585.54,621.39 585.79,622.09 586.04,621.73 586.29,620.55 586.54,621.41 586.78,621.33 587.03,621.69 587.28,621.4 587.53,622.35 587.78,622.21 588.03,621.6 588.28,621.41 588.52,622 588.77,621.89 589.02,621.97 589.27,621.89 589.52,622.37 589.77,622.48 590.02,621.84 590.26,622.63 590.51,622.27 590.76,622.12 591.01,622.31 591.26,621.69 591.51,622.02 591.76,621.85 592,622.29 592.25,622.16 592.5,621.57 592.75,621.64 593,622.03 593.25,621.64 593.5,621.72 593.74,621.74 593.99,621.06 594.24,622 594.49,621.61 594.74,621.61 594.99,621.92 595.24,622.37 595.48,621.49 595.73,621.69 595.98,621.79 596.23,621.8 596.48,621.81 596.73,622.24 596.98,621.68 597.22,622.67 597.47,621.83 597.72,622.53 597.97,621.99 598.22,621.48 598.47,621.94 598.72,622.05 598.96,621.58 599.21,621.95 599.46,622.02 599.71,622.01 599.96,621.11 600.21,621.51 600.45,621.6 600.7,622.39 600.95,621.53 601.2,622.44 601.45,621.6 601.7,622.36 601.95,620.9 602.19,622.63 602.44,621.25 602.69,621.45 602.94,622.67 603.19,621.94 603.44,621.14 603.69,621.29 603.93,622.61 604.18,622.08 604.43,622.39 604.68,622.31 604.93,622.13 605.18,620.96 605.43,621.77 605.67,621.94 605.92,621.99 606.17,621.51 606.42,621.5 606.67,622.27 606.92,621.13 607.17,622.34 607.41,621.96 607.66,621.62 607.91,621.02 608.16,621.99 608.41,621.7 608.66,621.21 608.91,621.54 609.15,621.3 609.4,621.34 609.65,621.71 609.9,621.53 610.15,621.4 610.4,621.84 610.65,621.07 610.89,622.77 611.14,622.27 611.39,621.15 611.64,621.63 611.89,622.14 612.14,621.65 612.39,621.32 612.63,622.1 612.88,621.47 613.13,621.89 613.38,621.88 613.63,621.86 613.88,621.3 614.13,622.36 614.37,622 614.62,621.52 614.87,622.41 615.12,622.58 615.37,621.56 615.62,621.83 615.86,621.9 616.11,621.76 616.36,622.29 616.61,620.45 616.86,622.3 617.11,622.04 617.36,622.5 617.6,622.03 617.85,621.11 618.1,621.82 618.35,621.55 618.6,622.06 618.85,620.97 619.1,621.75 619.34,622.42 619.59,621.47 619.84,622.01 620.09,621.54 620.34,621.76 620.59,621.71 620.84,621.77 621.08,622.26 621.33,622.54 621.58,621.37 621.83,621.89 622.08,621.69 622.33,622.05 622.58,622.79 622.82,622.44 623.07,621.17 623.32,622.2 623.57,622.01 623.82,622.53 624.07,622.08 624.32,622.01 624.56,621.94 624.81,621.87 625.06,622.13 625.31,622.1 625.56,621.84 625.81,621.68 626.06,621.9 626.3,621.01 626.55,621.73 626.8,621.76 627.05,622.14 627.3,621.35 627.55,622.32 627.8,622.6 628.04,622.29 628.29,621.54 628.54,622.38 628.79,621.22 629.04,621.84 629.29,622.55 629.54,621.94 629.78,620.99 630.03,622.24 630.28,622.45 630.53,621.59 630.78,621.21 631.03,621.35 631.27,621.99 631.52,621.74 631.77,621.68 632.02,621.28 632.27,620.82 632.52,621.89 632.77,621.22 633.01,622 633.26,621.55 633.51,622.28 633.76,622.2 634.01,621.64 634.26,622.26 634.51,621.41 634.75,622.09 635,621.8 635.25,621.87 635.5,621.99 635.75,621.77 636,621.32 636.25,620.36 636.49,622.4 636.74,621.69 636.99,621.92 637.24,622.27 637.49,621.7 637.74,622.25 637.99,621.87 638.23,621.25 638.48,622.79 638.73,621.72 638.98,621.62 639.23,622.29 639.48,621.59 639.73,621.67 639.97,622 640.22,621.26 640.47,622.45 640.72,621.53 640.97,621.94 641.22,622.33 641.47,621.92 641.71,622 641.96,621.45 642.21,622.54 642.46,621.93 642.71,622.05 642.96,621.09 643.21,622.36 643.45,621.33 643.7,622.67 643.95,621.67 644.2,621.9 644.45,621.66 644.7,622.17 644.95,622.76 645.19,622.57 645.44,621.21 645.69,621.74 645.94,622.25 646.19,621.41 646.44,622.19 646.68,622.19 646.93,622.41 647.18,621.28 647.43,620.91 647.68,622.3 647.93,621.7 648.18,621.38 648.42,620.84 648.67,622.98 648.92,621.78 649.17,621.54 649.42,622.54 649.67,621.65 649.92,621.75 650.16,621.5 650.41,622.12 650.66,621.65 650.91,622.13 651.16,621.56 651.41,621.77 651.66,622.02 651.9,622.52 652.15,621.06 652.4,621.32 652.65,621.43 652.9,622.16 653.15,622.01 653.4,621.05 653.64,621.49 653.89,622.25 654.14,621.82 654.39,621.78 654.64,621.94 654.89,622.29 655.14,621.25 655.38,621.56 655.63,621.94 655.88,622.56 656.13,622.06 656.38,621.75 656.63,621.3 656.88,621.86 657.12,621.12 657.37,621.55 657.62,621.93 657.87,622.87 658.12,622.07 658.37,622.18 658.62,621.52 658.86,621.25 659.11,620.72 659.36,621.35 659.61,621.86 659.86,620.16 660.11,621.09 660.36,621.33 660.6,621.3 660.85,621.78 661.1,620.81 661.35,620.9 661.6,620.29 661.85,620.48 662.09,620.56 662.34,620.34 662.59,621.04 662.84,621.08 663.09,620.86 663.34,621.39 663.59,620.84 663.83,620.89 664.08,620.38 664.33,620.67 664.58,621.54 664.83,620.59 665.08,619.89 665.33,621.4 665.57,620.86 665.82,620.46 666.07,621.06 666.32,620.66 666.57,620.34 666.82,620.96 667.07,620.16 667.31,620.07 667.56,620.83 667.81,620.18 668.06,619.65 668.31,620.21 668.56,619.89 668.81,619.75 669.05,620.14 669.3,619.53 669.55,619.78 669.8,620.39" fill="none" stroke="#b8b8b8" stroke-width="1.7" stroke-linejoin="round"/>
<polyline points="575.6,659.15 575.85,654.69 576.1,649.41 576.35,645.53 576.59,643.2 576.84,642.28 577.09,642.16 577.34,640.78 577.59,642.1 577.84,640.42 578.09,638.74 578.33,639.29 578.58,639.1 578.83,636.16 579.08,632.38 579.33,629.19 579.58,625.97 579.83,625.39 580.07,625.3 580.32,617.33 580.57,622.02 580.82,624.09 581.07,626.63 581.32,632.07 581.57,632.75 581.81,633.69 582.06,631.81 582.31,632.84 582.56,639.75 582.81,630.86 583.06,627.87 583.31,623.85 583.55,624.03 583.8,620.52 584.05,626.02 584.3,628.67 584.55,632.34 584.8,642.02 585.04,637.08 585.29,635.78 585.54,637.25 585.79,631.65 586.04,630.1 586.29,632.98 586.54,633.76 586.78,636.05 587.03,636.34 587.28,640.27 587.53,639.05 587.78,648.69 588.03,642.98 588.28,645.99 588.52,640.76 588.77,636.18 589.02,636.32 589.27,635.31 589.52,633.31 589.77,626.74 590.02,632.99 590.26,624.49 590.51,629.88 590.76,624.37 591.01,620.18 591.26,621.19 591.51,617.81 591.76,617.01 592,623.95 592.25,621.28 592.5,623.08 592.75,628.88 593,623.48 593.25,623.53 593.5,614.9 593.74,620.02 593.99,610.01 594.24,615.19 594.49,605.5 594.74,608.05 594.99,609.39 595.24,610.71 595.48,612.84 595.73,613.68 595.98,615.08 596.23,624.08 596.48,629.36 596.73,632.4 596.98,623.09 597.22,617.38 597.47,616.5 597.72,615.25 597.97,614.64 598.22,613.47 598.47,613.01 598.72,612.97 598.96,621.86 599.21,616.07 599.46,625.06 599.71,622.05 599.96,624.28 600.21,624.17 600.45,627.05 600.7,628.12 600.95,625.93 601.2,629.36 601.45,618.29 601.7,624.19 601.95,621.76 602.19,618.24 602.44,616.7 602.69,617.89 602.94,607.75 603.19,605.86 603.44,612.76 603.69,609.14 603.93,614.14 604.18,611.59 604.43,611.5 604.68,612.26 604.93,613.29 605.18,617.72 605.43,613.55 605.67,618.58 605.92,616.9 606.17,616.61 606.42,620.63 606.67,625.49 606.92,623.31 607.17,632.6 607.41,635.71 607.66,640.2 607.91,633.11 608.16,633.86 608.41,638.02 608.66,626.16 608.91,619.51 609.15,617.93 609.4,622.98 609.65,620.18 609.9,618.16 610.15,616.28 610.4,618.34 610.65,621.25 610.89,614.75 611.14,614.53 611.39,622.35 611.64,621.81 611.89,622.3 612.14,625.66 612.39,626.5 612.63,628.14 612.88,631.45 613.13,635.22 613.38,636.55 613.63,627.76 613.88,622.71 614.13,618.32 614.37,622.09 614.62,619.52 614.87,612.7 615.12,610.76 615.37,612.26 615.62,609.11 615.86,611.8 616.11,605.58 616.36,608.07 616.61,606.46 616.86,607.22 617.11,609.15 617.36,615.17 617.6,611.94 617.85,609.11 618.1,611.19 618.35,612.61 618.6,609.36 618.85,607.88 619.1,606.72 619.34,611.29 619.59,608.01 619.84,608.48 620.09,609.81 620.34,613.5 620.59,610.82 620.84,615.01 621.08,607.18 621.33,616.03 621.58,618.17 621.83,619.5 622.08,610.75 622.33,618.09 622.58,614.06 622.82,614.42 623.07,611.51 623.32,610.61 623.57,606.4 623.82,613.72 624.07,608.68 624.32,602.88 624.56,608.98 624.81,607.8 625.06,612.47 625.31,620.37 625.56,614.86 625.81,613.25 626.06,620.87 626.3,627.66 626.55,621.97 626.8,620.72 627.05,615.97 627.3,614.41 627.55,616.31 627.8,612.35 628.04,617.46 628.29,609.84 628.54,614.75 628.79,613.89 629.04,615.94 629.29,622.19 629.54,623.73 629.78,628.01 630.03,632.36 630.28,623.85 630.53,620.55 630.78,622.07 631.03,614 631.27,613.54 631.52,610.02 631.77,611.49 632.02,615.45 632.27,609.37 632.52,611.86 632.77,616.1 633.01,619.05 633.26,620.55 633.51,620.99 633.76,620.42 634.01,623.43 634.26,612.86 634.51,618.33 634.75,612.92 635,611.1 635.25,609.17 635.5,616.77 635.75,609.52 636,612.93 636.25,614.23 636.49,614.33 636.74,620.24 636.99,626.4 637.24,614.21 637.49,609.89 637.74,609.13 637.99,613.27 638.23,611.58 638.48,611.89 638.73,620.01 638.98,617.91 639.23,619.31 639.48,613.8 639.73,622.37 639.97,616.44 640.22,622.09 640.47,628.16 640.72,616.58 640.97,627.39 641.22,623.09 641.47,620.38 641.71,628.19 641.96,628.23 642.21,618.73 642.46,619.48 642.71,621.23 642.96,618.44 643.21,613.93 643.45,608.74 643.7,613.22 643.95,610.76 644.2,608.13 644.45,609.86 644.7,609.85 644.95,611.02 645.19,620.52 645.44,612.63 645.69,616.56 645.94,619.09 646.19,623.23 646.44,625.93 646.68,625.52 646.93,622.11 647.18,624.61 647.43,622.33 647.68,620.55 647.93,615.35 648.18,617.24 648.42,615.63 648.67,609.83 648.92,615.85 649.17,613.98 649.42,620.26 649.67,616.92 649.92,618.63 650.16,619.49 650.41,622.54 650.66,625.07 650.91,623.5 651.16,624.78 651.41,620.78 651.66,621.92 651.9,626.89 652.15,618.68 652.4,619.74 652.65,614.35 652.9,614.89 653.15,615.58 653.4,605.29 653.64,607.93 653.89,614.27 654.14,617.42 654.39,614.17 654.64,617.26 654.89,615.72 655.14,613.48 655.38,610.49 655.63,615.94 655.88,610.15 656.13,610.51 656.38,615.25 656.63,618.83 656.88,610.56 657.12,610.51 657.37,603.78 657.62,605.47 657.87,606.29 658.12,602.2 658.37,609.62 658.62,604.64 658.86,606.48 659.11,600.99 659.36,604.9 659.61,615.24 659.86,603.72 660.11,610.03 660.36,606.26 660.6,609.31 660.85,607.33 661.1,606.2 661.35,606.85 661.6,608.79 661.85,604.03 662.09,605.61 662.34,606.02 662.59,604.76 662.84,606.52 663.09,603.05 663.34,605.21 663.59,604.95 663.83,604.88 664.08,605.72 664.33,605.18 664.58,603.16 664.83,602.31 665.08,600.75 665.33,600.78 665.57,601.27 665.82,599.18 666.07,598.14 666.32,597.2 666.57,596.85 666.82,597.04 667.07,594.53 667.31,594.44 667.56,592.43 667.81,592.35 668.06,589.86 668.31,589.38 668.56,587.21 668.81,585.62 669.05,584.58 669.3,584.16 669.55,583.41 669.8,583.36" fill="none" stroke="#3a78b3" stroke-width="1.75" stroke-linejoin="round"/>
<rect x="571.7" y="580.7" width="101.9" height="80.5" fill="none" stroke="#999" stroke-width="0.6"/>
<line x1="571.7" x2="571.7" y1="580.7" y2="661.2" stroke="#333" stroke-width="0.6"/>
<line x1="571.7" x2="673.6" y1="661.2" y2="661.2" stroke="#333" stroke-width="0.6"/>
<line x1="569.5" x2="571.7" y1="653.4" y2="653.4" stroke="#444" stroke-width="0.6"/>
<text x="568.1" y="655.9" class="et" text-anchor="end">−2</text>
<line x1="569.5" x2="571.7" y1="637.6" y2="637.6" stroke="#444" stroke-width="0.6"/>
<text x="568.1" y="640.1" class="et" text-anchor="end">−1</text>
<line x1="569.5" x2="571.7" y1="621.8" y2="621.8" stroke="#444" stroke-width="0.6"/>
<text x="568.1" y="624.3" class="et" text-anchor="end">0</text>
<line x1="569.5" x2="571.7" y1="606" y2="606" stroke="#444" stroke-width="0.6"/>
<text x="568.1" y="608.5" class="et" text-anchor="end">1</text>
<line x1="569.5" x2="571.7" y1="590.2" y2="590.2" stroke="#444" stroke-width="0.6"/>
<text x="568.1" y="592.7" class="et" text-anchor="end">2</text>
<line x1="575.6" x2="575.6" y1="661.2" y2="663.4000000000001" stroke="#444" stroke-width="0.6"/>
<text x="576.2" y="670.4" class="et" text-anchor="middle">0</text>
<line x1="599.15" x2="599.15" y1="661.2" y2="663.4000000000001" stroke="#444" stroke-width="0.6"/>
<text x="599.75" y="670.4" class="et" text-anchor="middle">250</text>
<line x1="622.7" x2="622.7" y1="661.2" y2="663.4000000000001" stroke="#444" stroke-width="0.6"/>
<text x="623.3" y="670.4" class="et" text-anchor="middle">500</text>
<line x1="646.25" x2="646.25" y1="661.2" y2="663.4000000000001" stroke="#444" stroke-width="0.6"/>
<text x="646.85" y="670.4" class="et" text-anchor="middle">750</text>
<line x1="669.8" x2="669.8" y1="661.2" y2="663.4000000000001" stroke="#444" stroke-width="0.6"/>
<text x="670.4" y="670.4" class="et" text-anchor="middle">1000</text>
<text transform="translate(546.6 620.95) rotate(-90)" class="el" text-anchor="middle">Log2 Sampling</text>
<text transform="translate(556 620.95) rotate(-90)" class="el" text-anchor="middle">enrichment</text>
<text transform="translate(678 620.95) rotate(90)" class="el" text-anchor="middle">4M cell dataset</text>
<text x="617.3" y="683" class="lg" text-anchor="middle">Clusters sorted by</text>
<rect x="587" y="234.3" width="86.8" height="18.3" rx="1.2" fill="#fff" stroke="#e0e0e0" stroke-width="0.6"/>
<line x1="588.7" x2="601.6" y1="239" y2="239" stroke="#3a78b3" stroke-width="1.75"/>
<line x1="588.7" x2="601.6" y1="247.7" y2="247.7" stroke="#b8b8b8" stroke-width="1.7"/>
<text x="605.6" y="241.4" class="lg">Scarf/TopACeDo</text>
<text x="605.6" y="250.1" class="lg">Random sampling</text>
</svg></body></html>
